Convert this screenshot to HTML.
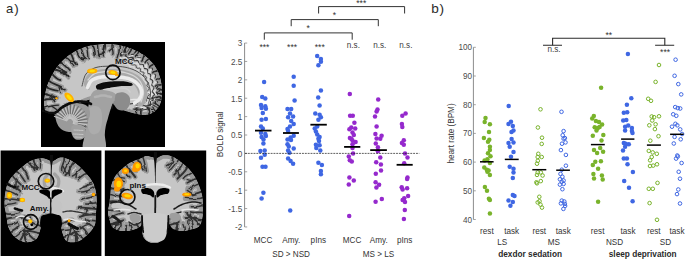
<!DOCTYPE html>
<html><head><meta charset="utf-8">
<style>
html,body{margin:0;padding:0;background:#fff;}
body{width:685px;height:259px;overflow:hidden;position:relative;font-family:"Liberation Sans",sans-serif;}
svg{position:absolute;left:0;top:0;display:block;}
</style></head><body>
<svg width="685" height="259" viewBox="0 0 685 259">
<defs><clipPath id="c1"><rect x="41" y="42" width="124" height="105"/></clipPath><clipPath id="c2"><rect x="0.6" y="150.5" width="100.8" height="105.5"/></clipPath><clipPath id="c3"><rect x="104.8" y="150.5" width="101.4" height="105.5"/></clipPath><filter id="bl" x="-5%" y="-5%" width="110%" height="110%"><feGaussianBlur stdDeviation="0.6"/></filter><filter id="wv" x="-5%" y="-5%" width="110%" height="110%"><feTurbulence type="fractalNoise" baseFrequency="0.12" numOctaves="2" seed="4" result="n"/><feDisplacementMap in="SourceGraphic" in2="n" scale="3.2" xChannelSelector="R" yChannelSelector="G"/></filter></defs>
<rect x="41" y="42" width="124" height="105" fill="#000"/>
<g clip-path="url(#c1)"><g filter="url(#bl)">
<clipPath id="s1"><path d="M45.0,110.0 L44.6,108.8 L44.3,107.3 L44.1,105.6 L44.1,103.8 L44.1,101.9 L44.2,100.0 L44.4,98.1 L44.7,96.1 L45.1,94.0 L45.5,91.9 L46.0,89.9 L46.5,88.0 L47.0,86.2 L47.6,84.6 L48.2,82.9 L48.9,81.3 L49.7,79.7 L50.5,78.0 L51.4,76.2 L52.4,74.3 L53.5,72.4 L54.6,70.5 L55.8,68.7 L57.0,67.0 L58.2,65.4 L59.5,63.9 L60.8,62.5 L62.2,61.1 L63.6,59.8 L65.0,58.5 L66.4,57.3 L67.9,56.1 L69.3,55.0 L70.8,54.0 L72.4,53.0 L74.0,52.0 L75.7,51.0 L77.5,50.1 L79.3,49.2 L81.2,48.4 L83.1,47.7 L85.0,47.0 L86.9,46.5 L88.9,46.0 L90.9,45.6 L92.9,45.3 L94.9,45.1 L97.0,44.8 L99.1,44.5 L101.2,44.3 L103.4,44.1 L105.6,44.0 L107.8,43.9 L110.0,44.0 L112.3,44.2 L114.6,44.4 L117.0,44.8 L119.4,45.2 L121.7,45.7 L124.0,46.3 L126.2,47.0 L128.5,47.7 L130.7,48.5 L132.9,49.4 L135.0,50.3 L137.0,51.3 L139.0,52.3 L140.9,53.5 L142.8,54.6 L144.6,55.8 L146.4,57.1 L148.0,58.5 L149.5,59.9 L151.0,61.4 L152.4,63.0 L153.7,64.6 L154.9,66.3 L156.0,68.0 L157.0,69.8 L157.9,71.6 L158.7,73.6 L159.4,75.5 L160.0,77.5 L160.5,79.5 L161.0,81.5 L161.3,83.6 L161.6,85.8 L161.8,87.9 L162.0,90.0 L162.0,92.0 L162.0,93.9 L161.9,95.9 L161.7,97.8 L161.4,99.6 L161.0,101.3 L160.5,103.0 L159.8,104.6 L159.0,106.2 L158.0,107.7 L156.9,109.1 L155.8,110.4 L154.5,111.5 L153.1,112.4 L151.6,113.2 L150.0,113.9 L148.3,114.4 L146.7,114.8 L145.0,115.0 L143.3,115.0 L141.6,114.9 L139.8,114.6 L138.1,114.2 L136.4,113.8 L135.0,113.5 L133.8,113.3 L132.8,113.1 L131.9,112.8 L131.0,112.6 L130.1,112.3 L129.0,112.0 L127.8,111.6 L126.5,111.2 L125.1,110.7 L123.7,110.2 L122.4,109.6 L121.0,109.0 L119.7,108.3 L118.4,107.5 L117.1,106.6 L115.7,105.7 L114.4,104.9 L113.0,104.0 L111.6,103.1 L110.2,102.1 L108.8,101.2 L107.3,100.3 L105.7,99.5 L104.0,99.0 L102.2,98.7 L100.2,98.5 L98.2,98.4 L96.1,98.5 L94.0,98.7 L92.0,99.0 L90.0,99.4 L88.0,100.1 L86.0,100.8 L84.0,101.6 L82.0,102.3 L80.0,103.0 L78.0,103.5 L75.9,104.0 L73.9,104.5 L71.9,104.9 L69.9,105.4 L68.0,106.0 L66.2,106.7 L64.4,107.5 L62.8,108.3 L61.1,109.1 L59.5,109.9 L58.0,110.5 L56.5,111.0 L55.1,111.5 L53.7,111.9 L52.4,112.3 L51.1,112.5 L50.0,112.5 L48.9,112.4 L48.0,112.3 L47.1,112.0 L46.2,111.6 L45.6,110.9 Z"/></clipPath>
<g clip-path="url(#s1)">
<path d="M45.0,110.0 L44.6,108.8 L44.3,107.3 L44.1,105.6 L44.1,103.8 L44.1,101.9 L44.2,100.0 L44.4,98.1 L44.7,96.1 L45.1,94.0 L45.5,91.9 L46.0,89.9 L46.5,88.0 L47.0,86.2 L47.6,84.6 L48.2,82.9 L48.9,81.3 L49.7,79.7 L50.5,78.0 L51.4,76.2 L52.4,74.3 L53.5,72.4 L54.6,70.5 L55.8,68.7 L57.0,67.0 L58.2,65.4 L59.5,63.9 L60.8,62.5 L62.2,61.1 L63.6,59.8 L65.0,58.5 L66.4,57.3 L67.9,56.1 L69.3,55.0 L70.8,54.0 L72.4,53.0 L74.0,52.0 L75.7,51.0 L77.5,50.1 L79.3,49.2 L81.2,48.4 L83.1,47.7 L85.0,47.0 L86.9,46.5 L88.9,46.0 L90.9,45.6 L92.9,45.3 L94.9,45.1 L97.0,44.8 L99.1,44.5 L101.2,44.3 L103.4,44.1 L105.6,44.0 L107.8,43.9 L110.0,44.0 L112.3,44.2 L114.6,44.4 L117.0,44.8 L119.4,45.2 L121.7,45.7 L124.0,46.3 L126.2,47.0 L128.5,47.7 L130.7,48.5 L132.9,49.4 L135.0,50.3 L137.0,51.3 L139.0,52.3 L140.9,53.5 L142.8,54.6 L144.6,55.8 L146.4,57.1 L148.0,58.5 L149.5,59.9 L151.0,61.4 L152.4,63.0 L153.7,64.6 L154.9,66.3 L156.0,68.0 L157.0,69.8 L157.9,71.6 L158.7,73.6 L159.4,75.5 L160.0,77.5 L160.5,79.5 L161.0,81.5 L161.3,83.6 L161.6,85.8 L161.8,87.9 L162.0,90.0 L162.0,92.0 L162.0,93.9 L161.9,95.9 L161.7,97.8 L161.4,99.6 L161.0,101.3 L160.5,103.0 L159.8,104.6 L159.0,106.2 L158.0,107.7 L156.9,109.1 L155.8,110.4 L154.5,111.5 L153.1,112.4 L151.6,113.2 L150.0,113.9 L148.3,114.4 L146.7,114.8 L145.0,115.0 L143.3,115.0 L141.6,114.9 L139.8,114.6 L138.1,114.2 L136.4,113.8 L135.0,113.5 L133.8,113.3 L132.8,113.1 L131.9,112.8 L131.0,112.6 L130.1,112.3 L129.0,112.0 L127.8,111.6 L126.5,111.2 L125.1,110.7 L123.7,110.2 L122.4,109.6 L121.0,109.0 L119.7,108.3 L118.4,107.5 L117.1,106.6 L115.7,105.7 L114.4,104.9 L113.0,104.0 L111.6,103.1 L110.2,102.1 L108.8,101.2 L107.3,100.3 L105.7,99.5 L104.0,99.0 L102.2,98.7 L100.2,98.5 L98.2,98.4 L96.1,98.5 L94.0,98.7 L92.0,99.0 L90.0,99.4 L88.0,100.1 L86.0,100.8 L84.0,101.6 L82.0,102.3 L80.0,103.0 L78.0,103.5 L75.9,104.0 L73.9,104.5 L71.9,104.9 L69.9,105.4 L68.0,106.0 L66.2,106.7 L64.4,107.5 L62.8,108.3 L61.1,109.1 L59.5,109.9 L58.0,110.5 L56.5,111.0 L55.1,111.5 L53.7,111.9 L52.4,112.3 L51.1,112.5 L50.0,112.5 L48.9,112.4 L48.0,112.3 L47.1,112.0 L46.2,111.6 L45.6,110.9 Z" fill="#c6c6c6"/>
<g filter="url(#wv)">
<path d="M43.3,108.2 C49.2,106.6 54.2,105.4 58.4,105.2" stroke="#989898" stroke-width="4.00" fill="none" stroke-linecap="round"/>
<path d="M51.9,106.3 L56.9,109.8" stroke="#989898" stroke-width="3.91" fill="none" stroke-linecap="round"/>
<path d="M42.7,100.5 C47.9,97.8 51.8,100.1 55.2,99.0" stroke="#989898" stroke-width="3.93" fill="none" stroke-linecap="round"/>
<path d="M50.6,98.6 L52.5,95.0" stroke="#989898" stroke-width="3.91" fill="none" stroke-linecap="round"/>
<path d="M43.7,93.3 C48.9,95.4 53.6,95.4 56.9,97.9" stroke="#989898" stroke-width="4.71" fill="none" stroke-linecap="round"/>
<path d="M51.4,96.1 L54.8,101.9" stroke="#989898" stroke-width="3.91" fill="none" stroke-linecap="round"/>
<path d="M45.3,86.9 C50.2,89.0 54.3,90.4 57.9,90.7" stroke="#989898" stroke-width="4.72" fill="none" stroke-linecap="round"/>
<path d="M47.8,80.1 C53.6,85.3 60.9,85.3 64.8,89.6" stroke="#989898" stroke-width="5.24" fill="none" stroke-linecap="round"/>
<path d="M59.0,87.3 L60.9,92.6" stroke="#989898" stroke-width="3.91" fill="none" stroke-linecap="round"/>
<path d="M51.2,73.4 C54.9,76.5 57.1,79.8 60.3,80.0" stroke="#989898" stroke-width="4.32" fill="none" stroke-linecap="round"/>
<path d="M53.6,69.4 C60.4,70.8 65.8,72.9 68.6,77.2" stroke="#989898" stroke-width="4.61" fill="none" stroke-linecap="round"/>
<path d="M56.2,65.6 C60.7,68.1 62.5,72.2 66.2,72.6" stroke="#989898" stroke-width="3.97" fill="none" stroke-linecap="round"/>
<path d="M59.9,61.3 C64.6,64.9 67.8,68.5 70.3,71.6" stroke="#989898" stroke-width="4.68" fill="none" stroke-linecap="round"/>
<path d="M64.7,56.8 C70.3,58.8 71.5,63.2 73.8,65.5" stroke="#989898" stroke-width="4.67" fill="none" stroke-linecap="round"/>
<path d="M71.0,61.2 L76.1,61.9" stroke="#989898" stroke-width="3.91" fill="none" stroke-linecap="round"/>
<path d="M70.0,52.7 C73.8,56.8 72.8,62.8 76.6,64.7" stroke="#989898" stroke-width="3.99" fill="none" stroke-linecap="round"/>
<path d="M75.8,49.3 C77.7,54.4 80.2,58.0 82.7,60.8" stroke="#989898" stroke-width="4.73" fill="none" stroke-linecap="round"/>
<path d="M80.0,57.3 L84.1,58.5" stroke="#989898" stroke-width="3.91" fill="none" stroke-linecap="round"/>
<path d="M80.4,47.1 C83.4,51.3 82.2,56.1 85.5,58.2" stroke="#989898" stroke-width="4.35" fill="none" stroke-linecap="round"/>
<path d="M85.3,45.4 C88.4,50.1 87.2,55.1 88.2,58.6" stroke="#989898" stroke-width="4.22" fill="none" stroke-linecap="round"/>
<path d="M92.3,43.9 C95.0,48.6 95.1,52.5 95.2,55.7" stroke="#989898" stroke-width="5.02" fill="none" stroke-linecap="round"/>
<path d="M97.3,43.3 C97.7,48.7 98.4,53.2 99.4,56.7" stroke="#989898" stroke-width="5.18" fill="none" stroke-linecap="round"/>
<path d="M104.9,42.5 C106.4,48.1 101.9,53.0 102.7,56.7" stroke="#989898" stroke-width="4.94" fill="none" stroke-linecap="round"/>
<path d="M104.4,52.2 L98.4,55.1" stroke="#989898" stroke-width="3.91" fill="none" stroke-linecap="round"/>
<path d="M112.6,42.7 C110.2,47.3 114.3,51.4 112.8,54.3" stroke="#989898" stroke-width="4.62" fill="none" stroke-linecap="round"/>
<path d="M111.5,49.0 L108.8,51.3" stroke="#989898" stroke-width="3.91" fill="none" stroke-linecap="round"/>
<path d="M119.2,43.7 C120.4,50.0 118.0,54.7 116.8,58.7" stroke="#989898" stroke-width="4.38" fill="none" stroke-linecap="round"/>
<path d="M124.7,44.9 C124.7,50.2 120.3,53.1 121.0,56.6" stroke="#989898" stroke-width="5.00" fill="none" stroke-linecap="round"/>
<path d="M123.4,51.6 L120.3,54.0" stroke="#989898" stroke-width="3.91" fill="none" stroke-linecap="round"/>
<path d="M130.4,46.9 C129.8,52.8 124.4,55.8 125.4,60.3" stroke="#989898" stroke-width="3.99" fill="none" stroke-linecap="round"/>
<path d="M136.9,49.6 C134.3,53.7 132.9,57.0 132.7,60.1" stroke="#989898" stroke-width="4.39" fill="none" stroke-linecap="round"/>
<path d="M134.4,54.5 L131.5,55.8" stroke="#989898" stroke-width="3.91" fill="none" stroke-linecap="round"/>
<path d="M163.3,94.6 C160.0,92.7 157.8,92.2 155.9,94.4" stroke="#989898" stroke-width="4.46" fill="none" stroke-linecap="round"/>
<path d="M159.4,93.6 L157.9,92.2" stroke="#989898" stroke-width="3.91" fill="none" stroke-linecap="round"/>
<path d="M162.7,100.2 C157.7,100.4 154.1,99.1 151.4,96.5" stroke="#989898" stroke-width="4.18" fill="none" stroke-linecap="round"/>
<path d="M159.5,108.1 C156.2,106.9 154.9,104.9 153.5,103.8" stroke="#989898" stroke-width="4.16" fill="none" stroke-linecap="round"/>
<path d="M154.2,113.5 C152.3,110.3 150.0,108.7 151.0,105.6" stroke="#989898" stroke-width="5.08" fill="none" stroke-linecap="round"/>
<path d="M148.7,115.8 C150.4,111.4 150.1,108.9 147.6,107.4" stroke="#989898" stroke-width="4.77" fill="none" stroke-linecap="round"/>
<path d="M149.0,110.0 L146.5,107.3" stroke="#989898" stroke-width="3.91" fill="none" stroke-linecap="round"/>
<path d="M141.7,116.4 C141.6,112.7 141.6,110.4 142.4,108.5" stroke="#989898" stroke-width="4.18" fill="none" stroke-linecap="round"/>
<path d="M141.9,111.9 L140.1,109.0" stroke="#989898" stroke-width="3.91" fill="none" stroke-linecap="round"/>
<path d="M136.7,115.4 C134.7,111.0 138.2,109.1 137.2,106.6" stroke="#989898" stroke-width="4.84" fill="none" stroke-linecap="round"/>
<path d="M135.9,109.3 L139.1,107.2" stroke="#989898" stroke-width="3.91" fill="none" stroke-linecap="round"/>
<path d="M45.0,110.0 L44.6,108.8 L44.3,107.3 L44.1,105.6 L44.1,103.8 L44.1,101.9 L44.2,100.0 L44.4,98.1 L44.7,96.1 L45.1,94.0 L45.5,91.9 L46.0,89.9 L46.5,88.0 L47.0,86.2 L47.6,84.6 L48.2,82.9 L48.9,81.3 L49.7,79.7 L50.5,78.0 L51.4,76.2 L52.4,74.3 L53.5,72.4 L54.6,70.5 L55.8,68.7 L57.0,67.0 L58.2,65.4 L59.5,63.9 L60.8,62.5 L62.2,61.1 L63.6,59.8 L65.0,58.5 L66.4,57.3 L67.9,56.1 L69.3,55.0 L70.8,54.0 L72.4,53.0 L74.0,52.0 L75.7,51.0 L77.5,50.1 L79.3,49.2 L81.2,48.4 L83.1,47.7 L85.0,47.0 L86.9,46.5 L88.9,46.0 L90.9,45.6 L92.9,45.3 L94.9,45.1 L97.0,44.8 L99.1,44.5 L101.2,44.3 L103.4,44.1 L105.6,44.0 L107.8,43.9 L110.0,44.0 L112.3,44.2 L114.6,44.4 L117.0,44.8 L119.4,45.2 L121.7,45.7 L124.0,46.3 L126.2,47.0 L128.5,47.7 L130.7,48.5 L132.9,49.4 L135.0,50.3 L137.0,51.3 L139.0,52.3 L140.9,53.5 L142.8,54.6 L144.6,55.8 L146.4,57.1 L148.0,58.5 L149.5,59.9 L151.0,61.4 L152.4,63.0 L153.7,64.6 L154.9,66.3 L156.0,68.0 L157.0,69.8 L157.9,71.6 L158.7,73.6 L159.4,75.5 L160.0,77.5 L160.5,79.5 L161.0,81.5 L161.3,83.6 L161.6,85.8 L161.8,87.9 L162.0,90.0 L162.0,92.0 L162.0,93.9 L161.9,95.9 L161.7,97.8 L161.4,99.6 L161.0,101.3 L160.5,103.0 L159.8,104.6 L159.0,106.2 L158.0,107.7 L156.9,109.1 L155.8,110.4 L154.5,111.5 L153.1,112.4 L151.6,113.2 L150.0,113.9 L148.3,114.4 L146.7,114.8 L145.0,115.0 L143.3,115.0 L141.6,114.9 L139.8,114.6 L138.1,114.2 L136.4,113.8 L135.0,113.5 L133.8,113.3 L132.8,113.1 L131.9,112.8 L131.0,112.6 L130.1,112.3 L129.0,112.0 L127.8,111.6 L126.5,111.2 L125.1,110.7 L123.7,110.2 L122.4,109.6 L121.0,109.0 L119.7,108.3 L118.4,107.5 L117.1,106.6 L115.7,105.7 L114.4,104.9 L113.0,104.0 L111.6,103.1 L110.2,102.1 L108.8,101.2 L107.3,100.3 L105.7,99.5 L104.0,99.0 L102.2,98.7 L100.2,98.5 L98.2,98.4 L96.1,98.5 L94.0,98.7 L92.0,99.0 L90.0,99.4 L88.0,100.1 L86.0,100.8 L84.0,101.6 L82.0,102.3 L80.0,103.0 L78.0,103.5 L75.9,104.0 L73.9,104.5 L71.9,104.9 L69.9,105.4 L68.0,106.0 L66.2,106.7 L64.4,107.5 L62.8,108.3 L61.1,109.1 L59.5,109.9 L58.0,110.5 L56.5,111.0 L55.1,111.5 L53.7,111.9 L52.4,112.3 L51.1,112.5 L50.0,112.5 L48.9,112.4 L48.0,112.3 L47.1,112.0 L46.2,111.6 L45.6,110.9 Z" fill="none" stroke="#989898" stroke-width="6"/>
<path d="M43.3,108.2 C49.2,106.6 54.2,105.4 58.4,105.2" stroke="#262626" stroke-width="1.21" fill="none" stroke-linecap="round"/>
<path d="M43.0,109.9 L46.6,107.6 L42.5,106.6 Z" fill="#262626"/>
<path d="M51.9,106.3 L56.9,109.8" stroke="#262626" stroke-width="1.35" fill="none" stroke-linecap="round"/>
<path d="M42.7,100.5 C47.9,97.8 51.8,100.1 55.2,99.0" stroke="#262626" stroke-width="1.78" fill="none" stroke-linecap="round"/>
<path d="M42.1,101.6 L47.1,100.1 L42.2,99.3 Z" fill="#262626"/>
<path d="M50.6,98.6 L52.5,95.0" stroke="#262626" stroke-width="1.35" fill="none" stroke-linecap="round"/>
<path d="M43.7,93.3 C48.9,95.4 53.6,95.4 56.9,97.9" stroke="#262626" stroke-width="1.92" fill="none" stroke-linecap="round"/>
<path d="M42.9,94.3 L47.1,94.3 L43.4,92.1 Z" fill="#262626"/>
<path d="M51.4,96.1 L54.8,101.9" stroke="#262626" stroke-width="1.35" fill="none" stroke-linecap="round"/>
<path d="M45.3,86.9 C50.2,89.0 54.3,90.4 57.9,90.7" stroke="#262626" stroke-width="1.64" fill="none" stroke-linecap="round"/>
<path d="M44.3,88.4 L49.1,88.0 L45.3,85.1 Z" fill="#262626"/>
<path d="M47.8,80.1 C53.6,85.3 60.9,85.3 64.8,89.6" stroke="#262626" stroke-width="1.88" fill="none" stroke-linecap="round"/>
<path d="M46.7,81.3 L51.4,82.0 L48.0,78.6 Z" fill="#262626"/>
<path d="M59.0,87.3 L60.9,92.6" stroke="#262626" stroke-width="1.35" fill="none" stroke-linecap="round"/>
<path d="M51.2,73.4 C54.9,76.5 57.1,79.8 60.3,80.0" stroke="#262626" stroke-width="1.78" fill="none" stroke-linecap="round"/>
<path d="M50.0,74.6 L53.8,75.0 L51.6,71.6 Z" fill="#262626"/>
<path d="M53.6,69.4 C60.4,70.8 65.8,72.9 68.6,77.2" stroke="#262626" stroke-width="1.95" fill="none" stroke-linecap="round"/>
<path d="M52.5,70.2 L56.3,70.9 L53.8,68.1 Z" fill="#262626"/>
<path d="M56.2,65.6 C60.7,68.1 62.5,72.2 66.2,72.6" stroke="#262626" stroke-width="1.85" fill="none" stroke-linecap="round"/>
<path d="M55.0,66.3 L59.8,68.2 L56.6,64.3 Z" fill="#262626"/>
<path d="M59.9,61.3 C64.6,64.9 67.8,68.5 70.3,71.6" stroke="#262626" stroke-width="1.67" fill="none" stroke-linecap="round"/>
<path d="M58.3,62.2 L62.6,63.9 L60.8,59.7 Z" fill="#262626"/>
<path d="M64.7,56.8 C70.3,58.8 71.5,63.2 73.8,65.5" stroke="#262626" stroke-width="1.21" fill="none" stroke-linecap="round"/>
<path d="M63.4,57.2 L67.4,59.5 L65.4,55.5 Z" fill="#262626"/>
<path d="M71.0,61.2 L76.1,61.9" stroke="#262626" stroke-width="1.35" fill="none" stroke-linecap="round"/>
<path d="M70.0,52.7 C73.8,56.8 72.8,62.8 76.6,64.7" stroke="#262626" stroke-width="1.71" fill="none" stroke-linecap="round"/>
<path d="M68.3,53.3 L71.8,55.6 L71.2,51.3 Z" fill="#262626"/>
<path d="M75.8,49.3 C77.7,54.4 80.2,58.0 82.7,60.8" stroke="#262626" stroke-width="1.43" fill="none" stroke-linecap="round"/>
<path d="M74.4,49.5 L77.9,52.9 L76.7,48.3 Z" fill="#262626"/>
<path d="M80.0,57.3 L84.1,58.5" stroke="#262626" stroke-width="1.35" fill="none" stroke-linecap="round"/>
<path d="M80.4,47.1 C83.4,51.3 82.2,56.1 85.5,58.2" stroke="#262626" stroke-width="1.45" fill="none" stroke-linecap="round"/>
<path d="M78.7,47.3 L81.9,50.5 L81.7,46.0 Z" fill="#262626"/>
<path d="M85.3,45.4 C88.4,50.1 87.2,55.1 88.2,58.6" stroke="#262626" stroke-width="1.29" fill="none" stroke-linecap="round"/>
<path d="M83.8,45.3 L86.1,48.5 L86.5,44.5 Z" fill="#262626"/>
<path d="M92.3,43.9 C95.0,48.6 95.1,52.5 95.2,55.7" stroke="#262626" stroke-width="1.46" fill="none" stroke-linecap="round"/>
<path d="M91.2,43.6 L93.0,47.3 L93.3,43.2 Z" fill="#262626"/>
<path d="M97.3,43.3 C97.7,48.7 98.4,53.2 99.4,56.7" stroke="#262626" stroke-width="1.32" fill="none" stroke-linecap="round"/>
<path d="M96.3,42.9 L98.0,47.6 L98.2,42.6 Z" fill="#262626"/>
<path d="M104.9,42.5 C106.4,48.1 101.9,53.0 102.7,56.7" stroke="#262626" stroke-width="1.83" fill="none" stroke-linecap="round"/>
<path d="M103.3,42.1 L104.6,46.3 L106.4,41.9 Z" fill="#262626"/>
<path d="M104.4,52.2 L98.4,55.1" stroke="#262626" stroke-width="1.35" fill="none" stroke-linecap="round"/>
<path d="M112.6,42.7 C110.2,47.3 114.3,51.4 112.8,54.3" stroke="#262626" stroke-width="1.35" fill="none" stroke-linecap="round"/>
<path d="M110.9,42.0 L112.5,46.3 L114.3,42.4 Z" fill="#262626"/>
<path d="M111.5,49.0 L108.8,51.3" stroke="#262626" stroke-width="1.35" fill="none" stroke-linecap="round"/>
<path d="M119.2,43.7 C120.4,50.0 118.0,54.7 116.8,58.7" stroke="#262626" stroke-width="1.39" fill="none" stroke-linecap="round"/>
<path d="M117.6,42.8 L118.5,47.3 L120.9,43.5 Z" fill="#262626"/>
<path d="M124.7,44.9 C124.7,50.2 120.3,53.1 121.0,56.6" stroke="#262626" stroke-width="1.89" fill="none" stroke-linecap="round"/>
<path d="M123.2,44.0 L123.4,49.0 L126.4,44.9 Z" fill="#262626"/>
<path d="M123.4,51.6 L120.3,54.0" stroke="#262626" stroke-width="1.35" fill="none" stroke-linecap="round"/>
<path d="M130.4,46.9 C129.8,52.8 124.4,55.8 125.4,60.3" stroke="#262626" stroke-width="1.30" fill="none" stroke-linecap="round"/>
<path d="M129.6,46.1 L129.3,49.8 L131.6,46.9 Z" fill="#262626"/>
<path d="M136.9,49.6 C134.3,53.7 132.9,57.0 132.7,60.1" stroke="#262626" stroke-width="1.69" fill="none" stroke-linecap="round"/>
<path d="M135.7,48.6 L135.6,52.9 L138.5,49.7 Z" fill="#262626"/>
<path d="M134.4,54.5 L131.5,55.8" stroke="#262626" stroke-width="1.35" fill="none" stroke-linecap="round"/>
<path d="M163.3,94.6 C160.0,92.7 157.8,92.2 155.9,94.4" stroke="#262626" stroke-width="1.89" fill="none" stroke-linecap="round"/>
<path d="M163.9,93.0 L159.2,94.5 L163.7,96.3 Z" fill="#262626"/>
<path d="M159.4,93.6 L157.9,92.2" stroke="#262626" stroke-width="1.35" fill="none" stroke-linecap="round"/>
<path d="M162.7,100.2 C157.7,100.4 154.1,99.1 151.4,96.5" stroke="#262626" stroke-width="1.43" fill="none" stroke-linecap="round"/>
<path d="M163.5,98.8 L158.8,99.1 L163.0,101.8 Z" fill="#262626"/>
<path d="M159.5,108.1 C156.2,106.9 154.9,104.9 153.5,103.8" stroke="#262626" stroke-width="1.56" fill="none" stroke-linecap="round"/>
<path d="M160.5,107.5 L155.9,105.6 L159.3,109.3 Z" fill="#262626"/>
<path d="M154.2,113.5 C152.3,110.3 150.0,108.7 151.0,105.6" stroke="#262626" stroke-width="1.58" fill="none" stroke-linecap="round"/>
<path d="M155.6,113.3 L152.6,110.0 L153.3,114.7 Z" fill="#262626"/>
<path d="M148.7,115.8 C150.4,111.4 150.1,108.9 147.6,107.4" stroke="#262626" stroke-width="1.41" fill="none" stroke-linecap="round"/>
<path d="M150.2,115.9 L148.1,112.2 L147.5,116.7 Z" fill="#262626"/>
<path d="M149.0,110.0 L146.5,107.3" stroke="#262626" stroke-width="1.35" fill="none" stroke-linecap="round"/>
<path d="M141.7,116.4 C141.6,112.7 141.6,110.4 142.4,108.5" stroke="#262626" stroke-width="1.44" fill="none" stroke-linecap="round"/>
<path d="M143.4,117.1 L142.1,112.3 L140.0,116.7 Z" fill="#262626"/>
<path d="M141.9,111.9 L140.1,109.0" stroke="#262626" stroke-width="1.35" fill="none" stroke-linecap="round"/>
<path d="M136.7,115.4 C134.7,111.0 138.2,109.1 137.2,106.6" stroke="#262626" stroke-width="1.45" fill="none" stroke-linecap="round"/>
<path d="M137.8,116.2 L137.0,112.0 L135.3,115.6 Z" fill="#262626"/>
<path d="M135.9,109.3 L139.1,107.2" stroke="#262626" stroke-width="1.35" fill="none" stroke-linecap="round"/>
</g>
</g>
<g clip-path="url(#s1)">
<path d="M122.6,50.2 L123.1,51.0 L123.9,51.5 L124.6,51.8 L125.5,51.8 L126.4,51.6 L127.3,51.4 L128.1,51.4 L128.9,51.7 L129.5,52.2 L130.0,52.9 L130.6,53.6 L131.2,54.2 L131.9,54.5 L132.7,54.4 L133.6,54.3 L134.4,54.2 L135.2,54.3 L135.8,54.6 L136.4,55.2 L136.8,56.0 L137.2,56.7 L137.8,57.4 L138.4,57.7 L139.2,57.9 L140.0,57.8 L140.9,57.8 L141.7,58.0 L142.3,58.4 L142.8,59.1 L143.1,59.9 L143.3,60.7 L143.8,61.4 L144.2,61.8 L144.9,62.0 L145.8,62.2 L146.7,62.3 L147.4,62.7 L147.9,63.2 L148.2,63.9 L148.4,64.8 L148.5,65.6 L148.7,66.3 L149.2,66.9 L149.8,67.2 L150.6,67.5 L151.4,67.8 L152.1,68.2 L152.5,68.8 L152.6,69.6 L152.6,70.4 L152.5,71.4 L152.6,72.1 L152.8,72.6 L153.5,73.2 L154.1,73.6 L154.8,74.1 L155.4,74.7 L155.6,75.3 L155.6,76.1 L155.4,77.0 L155.2,77.8 L155.1,78.6 L155.3,79.3 L155.8,79.9 L156.4,80.5 L157.1,81.1 L157.5,81.8 L157.7,82.6 L157.5,83.3 L157.1,84.1 L156.8,84.9 L156.6,85.7 L156.7,86.3 L157.1,87.1 L157.6,87.8 L158.1,88.5 L158.5,89.2 L158.5,89.9 L158.3,90.7 L157.8,91.5 L157.3,92.2 L157.0,93.0 L157.0,93.7 L157.3,94.4 L157.7,95.2 L158.1,95.9 L158.4,96.7 L158.3,97.3 L157.9,98.1 L157.3,98.6 L156.8,99.1 L156.3,99.8 L156.2,100.4 L156.3,100.9 L156.6,101.5 L156.7,102.4 L156.7,103.0 L156.4,103.5 L155.8,103.8 L155.0,104.2 L154.2,104.5 L153.5,104.9 L153.0,105.4 L152.8,106.2 L152.7,107.1 L152.5,108.0 L152.1,108.9" stroke="#3a3a3a" stroke-width="1.1" fill="none"/>
<path d="M121.5,53.2 L122.2,53.6 L123.1,53.7 L124.0,53.5 L125.0,53.2 L125.9,53.0 L126.7,53.1 L127.4,53.6 L127.9,54.3 L128.4,55.2 L128.9,55.8 L129.6,56.3 L130.3,56.3 L131.2,56.1 L132.1,55.8 L133.0,55.7 L133.6,55.8 L134.2,56.3 L134.5,57.1 L135.0,58.0 L135.3,58.7 L135.8,59.2 L136.6,59.4 L137.4,59.2 L138.4,59.1 L139.3,59.1 L139.9,59.3 L140.5,59.9 L140.7,60.7 L141.0,61.7 L141.2,62.4 L141.5,62.9 L142.3,63.2 L143.1,63.2 L143.9,63.1 L144.9,63.3 L145.4,63.6 L145.9,64.3 L145.9,65.1 L145.9,66.0 L146.1,66.9 L146.4,67.5 L146.9,67.7 L147.8,68.0 L148.7,68.1 L149.4,68.3 L150.0,68.9 L150.2,69.5 L150.1,70.3 L150.0,71.3 L149.8,72.0 L150.1,72.8 L150.5,73.1 L151.2,73.4 L152.1,73.8 L152.8,74.2 L153.2,74.7 L153.3,75.5 L153.0,76.3 L152.6,77.1 L152.4,78.0 L152.5,78.6 L152.9,79.2 L153.6,79.8 L154.4,80.3 L155.0,80.8 L155.3,81.6 L155.3,82.2 L154.9,83.1 L154.4,83.9 L154.0,84.5 L154.0,85.4 L154.3,86.0 L154.9,86.5 L155.6,87.3 L156.1,87.9 L156.4,88.7 L156.2,89.3 L155.7,90.0 L155.1,90.9 L154.7,91.5 L154.5,92.1 L154.7,93.0 L155.2,93.6 L155.8,94.3 L156.3,95.1 L156.4,95.8 L156.1,96.4 L155.5,96.9 L154.8,97.7 L154.2,98.1 L154.0,98.5 L154.1,99.3 L154.4,99.9 L154.9,100.5 L155.2,100.9 L155.1,101.7 L154.7,101.9 L154.0,101.9 L153.3,102.0 L152.4,102.4 L152.0,102.7 L151.6,103.5 L151.7,104.3 L151.7,105.2 L151.6,106.2 L151.1,106.9 L150.3,107.5" stroke="#dedede" stroke-width="1.6" fill="none"/>
<path d="M120.7,55.4 L121.5,55.3 L122.6,55.0 L123.6,54.8 L124.4,54.8 L125.2,55.1 L125.7,55.7 L126.3,56.6 L126.8,57.3 L127.4,57.9 L128.1,58.1 L129.0,57.9 L129.8,57.6 L130.7,57.4 L131.4,57.3 L132.1,57.7 L132.4,58.3 L132.8,59.2 L133.0,59.9 L133.6,60.6 L134.2,60.8 L134.9,60.7 L135.9,60.6 L136.7,60.4 L137.6,60.6 L138.1,61.0 L138.4,61.6 L138.7,62.6 L138.8,63.4 L139.3,64.1 L139.8,64.3 L140.4,64.3 L141.4,64.3 L142.2,64.2 L142.8,64.4 L143.4,64.9 L143.5,65.6 L143.6,66.6 L143.6,67.4 L143.8,68.0 L144.4,68.5 L145.0,68.6 L145.8,68.6 L146.8,68.9 L147.3,69.1 L147.6,69.6 L147.7,70.5 L147.5,71.3 L147.3,72.0 L147.5,72.8 L147.8,73.2 L148.5,73.6 L149.3,73.8 L150.0,74.0 L150.6,74.6 L150.8,75.1 L150.6,75.7 L150.3,76.7 L150.0,77.4 L149.9,78.0 L150.2,78.8 L150.8,79.2 L151.5,79.6 L152.3,80.2 L152.7,80.7 L152.8,81.3 L152.6,82.2 L152.1,82.9 L151.7,83.8 L151.5,84.4 L151.7,84.9 L152.2,85.6 L152.9,86.1 L153.6,86.7 L153.9,87.4 L153.9,88.1 L153.6,88.9 L153.0,89.5 L152.5,90.2 L152.2,91.0 L152.3,91.5 L152.7,92.1 L153.3,92.9 L153.9,93.6 L154.1,94.3 L154.0,95.0 L153.6,95.6 L152.9,96.1 L152.3,96.5 L151.9,97.3 L151.9,97.7 L152.3,98.1 L152.7,99.0 L153.1,99.5 L153.3,99.9 L153.2,100.0 L152.5,100.5 L151.9,100.3 L151.3,100.2 L150.9,100.3 L150.5,101.0 L150.5,101.6 L150.5,102.6 L150.6,103.5 L150.4,104.2 L149.8,104.7 L149.0,105.1 L147.8,105.6" stroke="#3a3a3a" stroke-width="1.1" fill="none"/>
<path d="M120.0,57.3 L120.5,58.0 L121.4,58.4 L122.3,58.4 L123.3,58.1 L124.3,57.7 L125.1,57.5 L125.9,57.7 L126.4,58.2 L127.0,59.1 L127.4,59.9 L127.9,60.7 L128.4,60.9 L129.3,60.9 L130.0,60.6 L131.0,60.3 L131.6,60.0 L132.3,60.3 L132.6,60.8 L133.0,61.7 L133.2,62.6 L133.5,63.2 L134.1,63.7 L134.8,63.7 L135.8,63.6 L136.6,63.3 L137.3,63.2 L138.0,63.6 L138.3,64.2 L138.6,65.1 L138.6,65.9 L138.6,66.6 L139.2,67.1 L139.7,67.1 L140.5,67.0 L141.5,67.0 L142.2,67.0 L142.8,67.5 L142.9,68.1 L142.8,68.9 L142.9,69.9 L142.8,70.5 L143.0,70.9 L143.8,71.3 L144.5,71.3 L145.3,71.2 L146.2,71.6 L146.5,71.9 L146.5,72.5 L146.4,73.5 L146.0,74.2 L146.0,75.1 L146.1,75.4 L146.5,75.6 L147.4,76.1 L148.2,76.2 L148.8,76.5 L149.2,77.2 L149.1,77.8 L148.7,78.4 L148.3,79.4 L148.0,80.0 L148.1,80.6 L148.6,81.2 L149.3,81.6 L150.1,82.0 L150.8,82.6 L150.9,83.1 L150.8,84.0 L150.3,84.6 L149.7,85.2 L149.4,86.1 L149.3,86.6 L149.7,87.1 L150.4,87.8 L151.2,88.3 L151.7,89.0 L151.8,89.6 L151.5,90.2 L150.9,91.0 L150.3,91.5 L149.8,92.1 L149.7,92.9 L150.0,93.5 L150.6,94.1 L151.3,94.9 L151.7,95.5 L151.7,96.0 L151.4,96.4 L150.6,97.1 L149.9,97.3 L149.4,97.5 L149.2,98.2 L149.4,98.4 L150.0,98.7 L150.7,98.8 L150.8,99.8 L150.9,99.7 L150.5,99.7 L149.8,99.6 L148.8,99.8 L148.2,99.9 L147.7,100.4 L147.6,101.0 L147.7,101.9 L147.7,102.9 L147.5,103.9 L146.8,104.9" stroke="#dcdcdc" stroke-width="1.6" fill="none"/>
<path d="M119.0,60.0 L119.8,60.0 L120.9,59.8 L121.9,59.5 L122.8,59.4 L123.6,59.5 L124.2,60.0 L124.8,60.8 L125.2,61.6 L125.8,62.3 L126.3,62.6 L127.2,62.7 L127.9,62.3 L128.8,62.1 L129.4,61.8 L130.2,62.0 L130.4,62.4 L130.9,63.3 L130.9,64.0 L131.4,64.7 L131.9,65.1 L132.4,65.1 L133.4,65.0 L134.2,64.8 L135.1,64.8 L135.6,65.0 L135.8,65.4 L136.2,66.3 L136.2,67.1 L136.6,67.9 L136.9,68.2 L137.3,68.2 L138.3,68.3 L138.9,68.1 L139.5,68.0 L140.2,68.4 L140.3,68.9 L140.5,69.9 L140.4,70.6 L140.3,71.2 L140.8,71.8 L141.2,71.9 L141.9,71.9 L142.8,72.1 L143.4,72.1 L143.8,72.4 L144.0,73.2 L143.8,73.8 L143.4,74.4 L143.5,75.3 L143.5,75.6 L144.1,76.1 L144.7,76.1 L145.4,76.1 L146.2,76.7 L146.4,77.0 L146.3,77.4 L146.1,78.4 L145.7,79.0 L145.4,79.5 L145.6,80.3 L146.0,80.7 L146.6,81.0 L147.4,81.6 L148.0,82.0 L148.2,82.4 L148.2,83.2 L147.7,83.8 L147.3,84.7 L146.9,85.2 L146.9,85.6 L147.3,86.4 L147.9,86.8 L148.5,87.2 L149.1,87.9 L149.2,88.4 L149.0,89.3 L148.5,89.8 L147.9,90.3 L147.5,91.1 L147.4,91.6 L147.7,92.1 L148.2,92.9 L148.8,93.5 L149.2,94.0 L149.3,94.8 L149.0,95.3 L148.4,95.6 L147.8,95.9 L147.3,96.6 L147.1,96.8 L147.4,97.0 L147.7,97.9 L148.3,98.1 L148.7,98.3 L148.9,98.0 L148.3,98.7 L148.0,98.1 L147.5,97.7 L147.1,97.6 L146.5,98.2 L146.5,98.6 L146.5,99.5 L146.7,100.3 L146.6,101.0 L146.2,101.7 L145.4,102.2 L144.2,102.9" stroke="#444" stroke-width="1.0" fill="none"/>
<path d="M118.3,61.8 L119.2,61.6 L120.4,61.5 L121.3,61.5 L122.0,61.8 L122.7,62.3 L123.2,63.0 L123.8,63.7 L124.3,64.2 L125.0,64.4 L125.7,64.4 L126.6,64.2 L127.2,64.0 L128.1,64.0 L128.4,64.1 L129.1,64.7 L129.1,65.2 L129.6,66.0 L129.7,66.4 L130.4,66.8 L131.0,66.7 L131.6,66.6 L132.5,66.5 L133.1,66.5 L133.8,66.9 L134.0,67.4 L134.1,68.0 L134.5,68.9 L134.6,69.3 L135.3,69.8 L135.7,69.8 L136.3,69.6 L137.2,69.7 L137.6,69.7 L137.8,69.9 L138.2,70.6 L138.2,71.2 L138.4,72.1 L138.4,72.5 L138.6,72.7 L139.4,73.1 L139.9,73.0 L140.5,73.0 L141.2,73.4 L141.4,73.7 L141.4,74.1 L141.5,75.0 L141.2,75.5 L141.1,75.8 L141.5,76.5 L141.9,76.5 L142.7,77.0 L143.2,76.9 L143.6,77.0 L143.9,77.7 L143.8,78.1 L143.4,78.6 L143.3,79.5 L143.1,79.9 L143.3,80.3 L143.8,80.9 L144.3,81.2 L144.9,81.4 L145.4,82.1 L145.6,82.6 L145.4,83.1 L145.1,83.9 L144.7,84.4 L144.6,85.2 L144.7,85.6 L145.0,85.9 L145.6,86.6 L146.1,87.0 L146.5,87.4 L146.6,88.2 L146.3,88.7 L145.9,89.5 L145.5,90.0 L145.2,90.4 L145.2,91.2 L145.5,91.6 L146.0,92.1 L146.5,92.9 L146.7,93.4 L146.7,93.9 L146.4,94.7 L145.9,95.1 L145.4,95.3 L145.1,95.5 L145.0,96.3 L145.3,96.5 L145.7,96.6 L146.0,97.5 L146.3,97.6 L146.3,97.5 L146.2,96.9 L145.5,97.4 L145.3,96.6 L145.2,96.2 L145.2,96.2 L145.0,97.1 L145.2,97.5 L145.1,98.5 L145.0,99.0 L144.7,99.4 L144.0,99.8 L143.0,100.2 L141.8,101.0" stroke="#d8d8d8" stroke-width="1.5" fill="none"/>
<path d="M126.8,45.7 C125.6,48.8 123.5,50.3 124.2,52.3" stroke="#989898" stroke-width="3.92" fill="none" stroke-linecap="round"/>
<path d="M125.2,49.7 L125.9,52.6" stroke="#989898" stroke-width="3.06" fill="none" stroke-linecap="round"/>
<path d="M132.1,47.6 C131.5,51.0 129.2,52.4 128.6,54.0" stroke="#989898" stroke-width="4.14" fill="none" stroke-linecap="round"/>
<path d="M139.1,50.7 C139.4,54.7 134.1,54.2 135.4,56.8" stroke="#989898" stroke-width="3.86" fill="none" stroke-linecap="round"/>
<path d="M137.6,55.3 L135.8,55.7" stroke="#989898" stroke-width="3.06" fill="none" stroke-linecap="round"/>
<path d="M145.2,54.4 C142.2,56.5 143.3,60.0 141.8,61.1" stroke="#989898" stroke-width="3.93" fill="none" stroke-linecap="round"/>
<path d="M149.7,58.0 C147.1,59.9 145.6,61.2 145.1,62.8" stroke="#989898" stroke-width="3.22" fill="none" stroke-linecap="round"/>
<path d="M154.3,62.9 C153.0,66.3 149.5,64.9 149.6,67.3" stroke="#989898" stroke-width="3.83" fill="none" stroke-linecap="round"/>
<path d="M158.5,69.4 C156.8,73.2 153.1,70.2 152.7,72.8" stroke="#989898" stroke-width="3.78" fill="none" stroke-linecap="round"/>
<path d="M161.6,77.7 C159.5,80.7 157.0,77.6 156.3,79.7" stroke="#989898" stroke-width="3.52" fill="none" stroke-linecap="round"/>
<path d="M162.9,84.2 C159.6,86.3 156.8,83.2 155.4,86.2" stroke="#989898" stroke-width="3.43" fill="none" stroke-linecap="round"/>
<path d="M157.9,86.1 L156.6,88.3" stroke="#989898" stroke-width="3.06" fill="none" stroke-linecap="round"/>
<path d="M163.5,89.8 C160.6,90.6 158.9,87.2 157.7,89.5" stroke="#989898" stroke-width="3.33" fill="none" stroke-linecap="round"/>
<path d="M160.2,90.1 L158.9,91.3" stroke="#989898" stroke-width="3.06" fill="none" stroke-linecap="round"/>
<path d="M163.0,99.1 C160.4,96.0 158.4,96.5 156.7,97.5" stroke="#989898" stroke-width="3.97" fill="none" stroke-linecap="round"/>
<path d="M160.2,106.7 C157.1,105.0 155.8,102.8 153.6,102.9" stroke="#989898" stroke-width="3.89" fill="none" stroke-linecap="round"/>
<path d="M155.9,104.3 L155.2,101.2" stroke="#989898" stroke-width="3.06" fill="none" stroke-linecap="round"/>
<path d="M156.4,111.5 C152.9,111.0 154.4,106.6 152.3,107.0" stroke="#989898" stroke-width="3.16" fill="none" stroke-linecap="round"/>
<path d="M153.1,109.4 L151.5,109.4" stroke="#989898" stroke-width="3.06" fill="none" stroke-linecap="round"/>
<path d="M126.8,45.7 C125.6,48.8 123.5,50.3 124.2,52.3" stroke="#262626" stroke-width="1.57" fill="none" stroke-linecap="round"/>
<path d="M125.7,44.8 L125.5,49.2 L128.3,45.7 Z" fill="#262626"/>
<path d="M125.2,49.7 L125.9,52.6" stroke="#262626" stroke-width="1.17" fill="none" stroke-linecap="round"/>
<path d="M132.1,47.6 C131.5,51.0 129.2,52.4 128.6,54.0" stroke="#262626" stroke-width="1.54" fill="none" stroke-linecap="round"/>
<path d="M131.0,46.6 L130.4,50.8 L133.5,47.6 Z" fill="#262626"/>
<path d="M139.1,50.7 C139.4,54.7 134.1,54.2 135.4,56.8" stroke="#262626" stroke-width="1.10" fill="none" stroke-linecap="round"/>
<path d="M137.9,49.5 L137.6,53.3 L140.8,51.1 Z" fill="#262626"/>
<path d="M137.6,55.3 L135.8,55.7" stroke="#262626" stroke-width="1.17" fill="none" stroke-linecap="round"/>
<path d="M145.2,54.4 C142.2,56.5 143.3,60.0 141.8,61.1" stroke="#262626" stroke-width="1.47" fill="none" stroke-linecap="round"/>
<path d="M144.1,53.0 L143.1,58.2 L146.9,55.0 Z" fill="#262626"/>
<path d="M149.7,58.0 C147.1,59.9 145.6,61.2 145.1,62.8" stroke="#262626" stroke-width="1.39" fill="none" stroke-linecap="round"/>
<path d="M149.1,56.8 L146.6,61.2 L150.9,58.4 Z" fill="#262626"/>
<path d="M154.3,62.9 C153.0,66.3 149.5,64.9 149.6,67.3" stroke="#262626" stroke-width="1.68" fill="none" stroke-linecap="round"/>
<path d="M154.0,61.8 L152.0,65.0 L155.3,63.3 Z" fill="#262626"/>
<path d="M158.5,69.4 C156.8,73.2 153.1,70.2 152.7,72.8" stroke="#262626" stroke-width="1.45" fill="none" stroke-linecap="round"/>
<path d="M158.2,67.7 L155.5,71.2 L159.7,70.7 Z" fill="#262626"/>
<path d="M161.6,77.7 C159.5,80.7 157.0,77.6 156.3,79.7" stroke="#262626" stroke-width="1.14" fill="none" stroke-linecap="round"/>
<path d="M161.8,76.5 L158.0,79.0 L162.3,78.5 Z" fill="#262626"/>
<path d="M162.9,84.2 C159.6,86.3 156.8,83.2 155.4,86.2" stroke="#262626" stroke-width="1.37" fill="none" stroke-linecap="round"/>
<path d="M163.2,82.6 L158.7,85.2 L163.7,85.6 Z" fill="#262626"/>
<path d="M157.9,86.1 L156.6,88.3" stroke="#262626" stroke-width="1.17" fill="none" stroke-linecap="round"/>
<path d="M163.5,89.8 C160.6,90.6 158.9,87.2 157.7,89.5" stroke="#262626" stroke-width="1.30" fill="none" stroke-linecap="round"/>
<path d="M163.9,88.1 L159.5,89.6 L164.0,91.5 Z" fill="#262626"/>
<path d="M160.2,90.1 L158.9,91.3" stroke="#262626" stroke-width="1.17" fill="none" stroke-linecap="round"/>
<path d="M163.0,99.1 C160.4,96.0 158.4,96.5 156.7,97.5" stroke="#262626" stroke-width="1.56" fill="none" stroke-linecap="round"/>
<path d="M163.8,97.6 L159.2,98.2 L163.2,100.9 Z" fill="#262626"/>
<path d="M160.2,106.7 C157.1,105.0 155.8,102.8 153.6,102.9" stroke="#262626" stroke-width="1.05" fill="none" stroke-linecap="round"/>
<path d="M161.5,105.6 L156.4,104.4 L159.8,108.2 Z" fill="#262626"/>
<path d="M155.9,104.3 L155.2,101.2" stroke="#262626" stroke-width="1.17" fill="none" stroke-linecap="round"/>
<path d="M156.4,111.5 C152.9,111.0 154.4,106.6 152.3,107.0" stroke="#262626" stroke-width="1.10" fill="none" stroke-linecap="round"/>
<path d="M157.4,111.0 L153.9,108.9 L156.1,112.6 Z" fill="#262626"/>
<path d="M153.1,109.4 L151.5,109.4" stroke="#262626" stroke-width="1.17" fill="none" stroke-linecap="round"/>
</g>
<path d="M130.0,104.0 L130.9,103.8 L132.1,103.6 L133.5,103.3 L135.0,103.1 L136.6,102.9 L138.0,103.0 L139.4,103.3 L140.7,103.9 L142.1,104.6 L143.5,105.2 L144.8,105.7 L146.0,106.0 L147.2,105.9 L148.4,105.6 L149.5,105.2 L150.5,104.7 L151.4,104.3 L152.0,104.0" stroke="#333333" stroke-width="1.1" fill="none" stroke-linecap="round" />
<path d="M133.0,109.0 L134.0,109.1 L135.4,109.4 L137.0,109.6 L138.7,109.9 L140.5,110.0 L142.0,110.0 L143.5,109.8 L145.0,109.5 L146.6,109.1 L148.0,108.6 L149.1,108.3 L150.0,108.0" stroke="#333333" stroke-width="1.1" fill="none" stroke-linecap="round" />
<path d="M144.0,96.0 L144.7,96.4 L145.6,97.0 L146.6,97.6 L147.8,98.3 L148.9,98.8 L150.0,99.0 L151.1,98.9 L152.2,98.6 L153.4,98.2 L154.4,97.7 L155.3,97.3 L156.0,97.0" stroke="#333333" stroke-width="1.1" fill="none" stroke-linecap="round" />
<path d="M128.0,100.0 L129.0,99.9 L130.3,99.8 L131.9,99.6 L133.7,99.5 L135.4,99.4 L137.0,99.5 L138.6,99.8 L140.3,100.2 L142.1,100.7 L143.7,101.2 L145.0,101.7 L146.0,102.0" stroke="#e8e8e8" stroke-width="1.3" fill="none" stroke-linecap="round" />
<path d="M136.0,106.5 L137.2,106.7 L139.0,106.9 L141.0,107.2 L143.0,107.6 L144.8,107.8 L146.0,108.0" stroke="#e8e8e8" stroke-width="1.3" fill="none" stroke-linecap="round" />
<path d="M147.0,92.0 L147.7,92.3 L148.8,92.7 L150.0,93.2 L151.2,93.8 L152.3,94.2 L153.0,94.5" stroke="#e8e8e8" stroke-width="1.3" fill="none" stroke-linecap="round" />
<path d="M84.0,84.0 L84.1,82.6 L84.4,80.9 L85.1,79.2 L85.9,77.4 L86.9,75.8 L88.0,74.5 L89.3,73.4 L90.7,72.5 L92.4,71.7 L94.1,71.1 L96.0,70.5 L98.0,70.0 L100.1,69.6 L102.4,69.3 L104.8,69.1 L107.2,69.0 L109.6,69.0 L112.0,69.0 L114.4,69.1 L116.7,69.2 L119.1,69.4 L121.5,69.6 L123.8,70.0 L126.0,70.5 L128.2,71.1 L130.3,71.8 L132.4,72.6 L134.4,73.4 L136.3,74.4 L138.0,75.5 L139.6,76.7 L141.0,78.0 L142.4,79.4 L143.6,80.9 L144.6,82.4 L145.5,84.0 L146.2,85.7 L146.8,87.6 L147.2,89.5 L147.4,91.4 L147.5,93.3 L147.5,95.0 L147.3,96.7 L146.8,98.4 L146.2,100.1 L145.6,101.6 L144.8,102.9 L144.0,104.0 L143.1,104.9 L141.9,105.6 L140.7,106.2 L139.6,106.5 L138.6,106.4 L138.0,106.0 L137.8,105.0 L138.0,103.6 L138.4,101.8 L138.8,99.8 L139.0,97.8 L139.0,96.0 L138.7,94.3 L138.2,92.5 L137.6,90.8 L136.9,89.0 L136.0,87.4 L135.0,86.0 L133.8,84.7 L132.6,83.6 L131.1,82.5 L129.6,81.6 L127.8,80.7 L126.0,80.0 L123.9,79.4 L121.7,78.9 L119.2,78.6 L116.8,78.3 L114.3,78.1 L112.0,78.0 L109.7,77.9 L107.4,77.8 L105.1,77.8 L102.9,77.9 L100.9,78.2 L99.0,78.5 L97.3,79.0 L95.7,79.6 L94.3,80.3 L93.0,81.2 L91.9,82.1 L91.0,83.0 L90.4,84.2 L90.0,85.6 L89.8,87.2 L89.7,88.5 L89.4,89.6 L89.0,90.0 L88.2,89.8 L87.2,89.1 L86.1,88.0 L85.1,86.7 L84.3,85.4 Z" fill="#a9a9a9"/>
<path d="M88.0,80.0 L88.7,79.2 L89.6,78.1 L90.7,76.9 L92.0,75.6 L93.4,74.4 L95.0,73.5 L96.8,72.9 L98.9,72.4 L101.1,72.1 L103.4,71.8 L105.7,71.6 L108.0,71.5 L110.3,71.4 L112.7,71.4 L115.1,71.4 L117.4,71.5 L119.8,71.7 L122.0,72.0 L124.2,72.4 L126.3,73.0 L128.4,73.6 L130.4,74.3 L132.3,75.1 L134.0,76.0 L135.5,77.0 L136.9,78.0 L138.1,79.1 L139.2,80.3 L140.2,81.6 L141.0,83.0 L141.7,84.5 L142.4,86.1 L142.8,87.9 L143.2,89.6 L143.4,91.4 L143.5,93.0 L143.3,94.7 L142.9,96.4 L142.4,98.1 L141.8,99.7 L141.3,101.0 L141.0,102.0" stroke="#d6d6d6" stroke-width="1.3" fill="none" stroke-linecap="round" />
<path d="M82.0,86.0 L82.4,84.6 L82.8,82.7 L83.4,80.4 L84.1,78.0 L84.9,75.8 L86.0,74.0 L87.3,72.5 L88.7,71.2 L90.4,70.1 L92.1,69.1 L94.0,68.2 L96.0,67.5 L98.1,67.0 L100.3,66.6 L102.7,66.4 L105.1,66.3 L107.6,66.2 L110.0,66.2 L112.5,66.2 L115.0,66.2 L117.6,66.3 L120.1,66.5 L122.6,66.8 L125.0,67.2 L127.3,67.7 L129.6,68.4 L131.9,69.1 L134.0,69.9 L136.1,70.9 L138.0,72.0 L139.8,73.2 L141.5,74.6 L143.1,76.0 L144.6,77.6 L145.9,79.3 L147.0,81.0 L148.0,82.8 L148.8,84.8 L149.5,86.8 L150.0,88.9 L150.3,91.0 L150.5,93.0 L150.4,95.1 L150.0,97.4 L149.5,99.8 L148.9,101.9 L148.3,103.7 L148.0,105.0" stroke="#505050" stroke-width="1.0" fill="none" stroke-linecap="round" />
<path d="M87.5,87.5 L87.9,86.7 L88.4,85.5 L89.0,84.2 L89.7,82.8 L90.5,81.5 L91.5,80.5 L92.6,79.7 L93.9,79.1 L95.4,78.5 L96.9,78.0 L98.4,77.6 L100.0,77.3 L101.6,77.0 L103.1,76.9 L104.8,76.8 L106.5,76.7 L108.2,76.7 L110.0,76.7 L111.9,76.7 L113.9,76.7 L116.0,76.8 L118.1,76.9 L120.1,77.1 L122.0,77.3 L123.8,77.6 L125.6,77.9 L127.3,78.3 L129.0,78.8 L130.5,79.4 L132.0,80.0 L133.4,80.7 L134.7,81.6 L136.0,82.5 L137.1,83.5 L138.1,84.5 L139.0,85.5 L139.7,86.5 L140.3,87.6 L140.8,88.7 L141.2,89.8 L141.4,90.9 L141.5,92.0 L141.5,93.2 L141.3,94.4 L141.0,95.7 L140.6,96.9 L140.1,98.0 L139.5,99.0 L138.8,99.9 L137.9,100.7 L136.9,101.4 L135.9,102.1 L135.1,102.6 L134.5,103.0" stroke="#ececec" stroke-width="3.6" fill="none" stroke-linecap="round" />
<path d="M96.0,86.0 L96.5,85.3 L97.4,84.6 L98.6,84.0 L100.0,83.4 L101.5,82.9 L103.0,82.5 L104.6,82.2 L106.4,81.9 L108.2,81.7 L110.2,81.5 L112.1,81.4 L114.0,81.3 L115.9,81.2 L117.8,81.2 L119.8,81.2 L121.6,81.2 L123.4,81.3 L125.0,81.5 L126.5,81.7 L127.9,82.0 L129.2,82.4 L130.4,82.7 L131.3,83.1 L132.0,83.5 L132.4,83.9 L132.7,84.3 L132.7,84.8 L132.5,85.2 L132.1,85.5 L131.5,85.8 L130.6,85.9 L129.3,86.0 L127.8,86.0 L126.2,85.9 L124.6,85.9 L123.0,86.0 L121.4,86.1 L119.7,86.3 L118.0,86.5 L116.3,86.7 L114.6,86.9 L113.0,87.2 L111.4,87.5 L109.8,87.9 L108.2,88.3 L106.7,88.7 L105.3,89.1 L104.0,89.5 L102.9,89.9 L102.0,90.4 L101.1,90.8 L100.4,91.2 L99.7,91.3 L99.0,91.2 L98.3,90.7 L97.5,89.9 L96.8,88.9 L96.2,87.9 L95.9,86.8 Z" fill="#080808"/>
<path d="M99.0,91.5 L99.7,91.2 L100.7,90.9 L101.9,90.4 L103.2,90.0 L104.6,89.5 L106.0,89.2 L107.5,88.9 L109.1,88.7 L110.8,88.5 L112.6,88.4 L114.3,88.3 L116.0,88.2 L117.7,88.2 L119.6,88.1 L121.4,88.1 L123.1,88.2 L124.7,88.3 L126.0,88.6 L127.1,89.0 L127.9,89.6 L128.6,90.3 L129.2,91.0 L129.6,91.6 L130.0,92.0" stroke="#d0d0d0" stroke-width="1.4" fill="none" stroke-linecap="round" />
<path d="M96.0,89.9 L97.3,89.6 L98.7,89.6 L100.3,89.7 L101.9,89.8 L103.5,90.1 L105.0,90.3 L106.4,90.5 L107.9,90.8 L109.3,91.1 L110.7,91.4 L111.9,91.8 L113.0,92.3 L113.9,92.8 L114.7,93.3 L115.4,93.9 L116.0,94.6 L116.3,95.3 L116.5,96.0 L116.4,96.8 L116.0,97.6 L115.4,98.5 L114.7,99.4 L114.1,100.4 L113.5,101.5 L113.0,102.7 L112.5,103.9 L112.0,105.2 L111.5,106.5 L111.1,107.9 L110.6,109.3 L110.1,110.7 L109.7,112.1 L109.3,113.6 L108.8,115.1 L108.4,116.6 L108.0,118.0 L107.6,119.4 L107.2,120.8 L106.7,122.2 L106.4,123.6 L106.0,125.0 L105.7,126.4 L105.5,127.7 L105.3,129.0 L105.1,130.3 L105.0,131.7 L104.9,133.2 L104.8,135.0 L105.0,137.3 L105.4,140.1 L105.9,143.0 L106.1,145.9 L105.7,148.3 L104.5,150.0 L102.0,151.1 L98.3,151.7 L94.1,152.0 L89.8,151.8 L86.2,151.1 L83.8,150.0 L82.7,148.2 L82.6,145.7 L83.0,142.8 L83.8,139.6 L84.5,136.5 L85.0,133.7 L85.2,131.2 L85.4,128.7 L85.5,126.2 L85.7,123.8 L85.9,121.4 L86.2,119.0 L86.5,116.5 L86.9,114.0 L87.4,111.4 L87.8,109.0 L88.3,106.6 L88.7,104.5 L89.1,102.6 L89.4,100.8 L89.7,99.2 L90.0,97.7 L90.5,96.3 L91.0,95.0 L91.6,93.8 L92.3,92.8 L93.1,91.8 L93.9,91.0 L94.9,90.4 Z" fill="#a2a2a2"/>
<path d="M90.0,108.0 L90.8,107.3 L91.7,106.7 L92.8,106.3 L93.9,106.0 L95.0,105.9 L96.0,106.0 L96.9,106.2 L97.9,106.6 L98.8,107.1 L99.7,107.9 L100.4,108.8 L101.0,110.0 L101.4,111.6 L101.8,113.5 L102.0,115.6 L102.1,117.9 L102.1,120.0 L102.0,122.0 L101.8,123.9 L101.4,125.8 L101.0,127.6 L100.4,129.3 L99.8,130.8 L99.0,132.0 L98.0,132.9 L96.9,133.6 L95.6,134.1 L94.3,134.4 L93.1,134.3 L92.0,134.0 L91.0,133.3 L90.1,132.2 L89.3,130.8 L88.5,129.3 L87.9,127.6 L87.5,126.0 L87.3,124.3 L87.2,122.4 L87.3,120.4 L87.5,118.5 L87.8,116.6 L88.0,115.0 L88.2,113.5 L88.4,112.2 L88.7,110.9 L89.0,109.8 L89.4,108.8 Z" fill="#acacac"/>
<path d="M95.0,97.0 L95.9,96.8 L97.1,96.5 L98.5,96.2 L100.0,95.8 L101.6,95.6 L103.0,95.5 L104.4,95.6 L106.0,95.8 L107.5,96.2 L108.9,96.5 L110.1,96.8 L111.0,97.0" stroke="#b4b4b4" stroke-width="2.5" fill="none" stroke-linecap="round" />
<path d="M116.5,93.5 L117.4,93.1 L118.6,92.7 L120.0,92.4 L121.4,92.3 L122.8,92.3 L124.0,92.5 L125.1,92.9 L126.2,93.5 L127.2,94.2 L128.1,95.0 L128.9,96.0 L129.5,97.0 L129.9,98.2 L130.1,99.5 L130.1,101.0 L130.0,102.4 L129.8,103.8 L129.5,105.0 L129.0,106.1 L128.4,107.1 L127.7,108.0 L126.9,108.9 L125.9,109.5 L125.0,110.0 L123.9,110.3 L122.7,110.4 L121.5,110.4 L120.2,110.2 L119.0,109.9 L118.0,109.5 L117.1,108.9 L116.3,108.1 L115.5,107.1 L114.9,106.1 L114.3,105.0 L114.0,104.0 L113.9,103.0 L113.9,102.0 L114.2,100.9 L114.4,99.9 L114.7,98.9 L115.0,98.0 L115.2,97.1 L115.2,96.3 L115.3,95.4 L115.5,94.7 L115.9,94.0 Z" fill="#8c8c8c"/>
<path d="M113.0,104.0 L112.9,104.6 L112.7,105.5 L112.5,106.5 L112.3,107.5 L112.1,108.4 L112.0,109.0" stroke="#1a1a1a" stroke-width="1.0" fill="none" stroke-linecap="round" />
<path d="M55.5,113.0 L55.9,111.9 L56.5,110.8 L57.2,109.9 L58.1,109.0 L59.0,108.2 L60.0,107.5 L61.0,106.8 L62.1,106.2 L63.3,105.7 L64.5,105.3 L65.7,104.9 L67.0,104.5 L68.3,104.2 L69.6,104.0 L70.9,103.8 L72.3,103.6 L73.7,103.6 L75.0,103.5 L76.4,103.5 L77.8,103.4 L79.2,103.5 L80.5,103.6 L81.8,103.7 L83.0,104.0 L84.1,104.4 L85.2,104.8 L86.2,105.4 L87.1,106.0 L87.8,106.7 L88.5,107.5 L89.0,108.4 L89.4,109.4 L89.7,110.5 L89.9,111.7 L90.0,112.9 L90.0,114.0 L89.9,115.1 L89.7,116.3 L89.3,117.5 L88.9,118.7 L88.5,119.9 L88.0,121.0 L87.5,122.1 L86.9,123.1 L86.3,124.2 L85.6,125.2 L84.9,126.1 L84.0,127.0 L83.0,127.8 L81.9,128.6 L80.8,129.3 L79.5,130.0 L78.3,130.5 L77.0,131.0 L75.7,131.4 L74.4,131.7 L73.1,131.9 L71.7,132.1 L70.3,132.1 L69.0,132.0 L67.6,131.8 L66.2,131.4 L64.8,131.0 L63.4,130.4 L62.1,129.8 L61.0,129.0 L60.0,128.1 L59.1,127.0 L58.3,125.9 L57.6,124.6 L57.0,123.3 L56.5,122.0 L56.1,120.6 L55.7,119.0 L55.4,117.4 L55.3,115.8 L55.3,114.3 Z" fill="#9a9a9a"/>
<path d="M67.2,121.0 L54.0,116.2" stroke="#c4c4c4" stroke-width="1.2"/>
<path d="M67.5,120.4 L55.7,112.7" stroke="#c4c4c4" stroke-width="1.2"/>
<path d="M67.9,119.8 L58.2,109.8" stroke="#c4c4c4" stroke-width="1.2"/>
<path d="M68.5,119.4 L61.2,107.4" stroke="#c4c4c4" stroke-width="1.2"/>
<path d="M69.1,119.1 L64.7,105.8" stroke="#c4c4c4" stroke-width="1.2"/>
<path d="M69.7,119.0 L68.5,105.1" stroke="#c4c4c4" stroke-width="1.2"/>
<path d="M70.4,119.0 L72.4,105.2" stroke="#c4c4c4" stroke-width="1.2"/>
<path d="M71.1,119.2 L76.1,106.1" stroke="#c4c4c4" stroke-width="1.2"/>
<path d="M71.7,119.5 L79.5,107.9" stroke="#c4c4c4" stroke-width="1.2"/>
<path d="M72.2,120.0 L82.4,110.4" stroke="#c4c4c4" stroke-width="1.2"/>
<path d="M72.6,120.5 L84.7,113.5" stroke="#c4c4c4" stroke-width="1.2"/>
<path d="M72.9,121.1 L86.3,117.0" stroke="#c4c4c4" stroke-width="1.2"/>
<path d="M73.0,121.8 L87.0,120.8" stroke="#c4c4c4" stroke-width="1.2"/>
<path d="M73.0,122.5 L86.8,124.7" stroke="#c4c4c4" stroke-width="1.2"/>
<path d="M72.8,123.1 L85.8,128.4" stroke="#c4c4c4" stroke-width="1.2"/>
<path d="M62.9,118.4 L54.0,113.8" stroke="#666" stroke-width="0.9"/>
<path d="M63.9,116.9 L56.2,110.4" stroke="#666" stroke-width="0.9"/>
<path d="M65.2,115.6 L59.2,107.6" stroke="#666" stroke-width="0.9"/>
<path d="M66.7,114.7 L62.7,105.6" stroke="#666" stroke-width="0.9"/>
<path d="M68.5,114.1 L66.6,104.3" stroke="#666" stroke-width="0.9"/>
<path d="M70.3,114.0 L70.6,104.0" stroke="#666" stroke-width="0.9"/>
<path d="M72.1,114.3 L74.7,104.6" stroke="#666" stroke-width="0.9"/>
<path d="M73.8,114.9 L78.5,106.1" stroke="#666" stroke-width="0.9"/>
<path d="M75.2,116.0 L81.8,108.4" stroke="#666" stroke-width="0.9"/>
<path d="M76.5,117.3 L84.6,111.4" stroke="#666" stroke-width="0.9"/>
<path d="M77.4,118.9 L86.6,115.0" stroke="#666" stroke-width="0.9"/>
<path d="M77.9,120.6 L87.7,118.9" stroke="#666" stroke-width="0.9"/>
<path d="M78.0,122.4 L88.0,122.9" stroke="#666" stroke-width="0.9"/>
<path d="M77.7,124.2 L87.3,127.0" stroke="#666" stroke-width="0.9"/>
<path d="M77.0,125.9 L85.7,130.7" stroke="#666" stroke-width="0.9"/>
<path d="M72.0,126.0 L72.8,125.4 L73.9,124.9 L75.2,124.6 L76.5,124.4 L77.8,124.4 L79.0,124.5 L80.1,124.8 L81.3,125.3 L82.4,125.9 L83.4,126.7 L84.3,127.6 L85.0,128.5 L85.5,129.6 L85.8,130.9 L85.9,132.3 L85.9,133.7 L85.8,134.9 L85.5,136.0 L85.1,136.9 L84.4,137.6 L83.7,138.2 L82.8,138.8 L81.9,139.2 L81.0,139.5 L80.1,139.7 L79.0,139.8 L77.9,139.8 L76.9,139.7 L75.9,139.4 L75.0,139.0 L74.2,138.3 L73.5,137.4 L72.8,136.4 L72.3,135.3 L71.8,134.1 L71.5,133.0 L71.3,131.8 L71.1,130.5 L71.1,129.2 L71.2,128.0 L71.5,126.9 Z" fill="#a0a0a0"/>
<path d="M74.0,130.0 L75.1,130.1 L76.7,130.1 L78.5,130.2 L80.3,130.4 L81.9,130.4 L83.0,130.5" stroke="#c8c8c8" stroke-width="1" fill="none" stroke-linecap="round" />
<path d="M73.5,134.0 L74.6,134.1 L76.3,134.1 L78.2,134.2 L80.2,134.4 L81.9,134.4 L83.0,134.5" stroke="#c8c8c8" stroke-width="1" fill="none" stroke-linecap="round" />
<path d="M75.0,137.0 L75.8,137.0 L77.1,137.1 L78.5,137.2 L79.9,137.2 L81.2,137.3 L82.0,137.3" stroke="#c8c8c8" stroke-width="0.9" fill="none" stroke-linecap="round" />
<path d="M43.0,111.0 L43.8,111.2 L44.9,111.6 L46.1,112.0 L47.5,112.5 L48.8,112.8 L50.0,113.0 L51.1,113.1 L52.1,113.1 L53.1,113.1 L54.0,112.9 L55.0,112.7 L56.0,112.3 L57.0,111.7 L57.9,111.0 L58.9,110.1 L59.9,109.2 L60.9,108.3 L62.0,107.5 L63.2,106.7 L64.5,106.0 L65.9,105.2 L67.3,104.5 L68.6,103.8 L70.0,103.3 L71.3,102.8 L72.7,102.5 L74.0,102.2 L75.3,101.9 L76.7,101.7 L78.0,101.6 L79.4,101.5 L80.8,101.5 L82.2,101.6 L83.6,101.7 L84.8,101.8 L86.0,102.0 L87.1,102.3 L88.1,102.6 L89.0,103.0 L89.8,103.4 L90.5,103.8 L91.0,104.0" stroke="#080808" stroke-width="2.6" fill="none" stroke-linecap="round" />
</g>
<ellipse cx="92.2" cy="71" rx="5.2" ry="2.5" transform="rotate(-3 92.2 71)" fill="#ffb000"/><ellipse cx="92.2" cy="71" rx="2.86" ry="1.25" transform="rotate(-3 92.2 71)" fill="#ffe000"/>
<ellipse cx="69.2" cy="97.3" rx="6.0" ry="3.2" transform="rotate(45 69.2 97.3)" fill="#ffb000"/><ellipse cx="69.2" cy="97.3" rx="3.30" ry="1.60" transform="rotate(45 69.2 97.3)" fill="#ffe000"/>
<ellipse cx="56.5" cy="98.2" rx="1.4" ry="1.0" transform="rotate(0 56.5 98.2)" fill="#ff9a00"/><ellipse cx="56.5" cy="98.2" rx="0.77" ry="0.50" transform="rotate(0 56.5 98.2)" fill="#ffc000"/>
<ellipse cx="113" cy="72.5" rx="4.6" ry="2.4" transform="rotate(10 113 72.5)" fill="#ffb000"/><ellipse cx="113" cy="72.5" rx="2.53" ry="1.20" transform="rotate(10 113 72.5)" fill="#ffe000"/>
<ellipse cx="117" cy="75.2" rx="2.0" ry="1.1" transform="rotate(0 117 75.2)" fill="#ff9a00"/><ellipse cx="117" cy="75.2" rx="1.10" ry="0.55" transform="rotate(0 117 75.2)" fill="#ffcc00"/>
<circle cx="112.9" cy="72.4" r="7.2" fill="none" stroke="#0c0c0c" stroke-width="1.7"/>
<text x="115" y="63.5" font-family="Liberation Sans, sans-serif" font-weight="bold" font-size="8" fill="#111" stroke="#c8c8c8" stroke-width="1.0" stroke-linejoin="round" paint-order="stroke" stroke-opacity="0.85">MCC</text>
</g>
<rect x="0.6" y="150.5" width="100.8" height="105.5" fill="#000"/>
<g clip-path="url(#c2)"><g filter="url(#bl)">
<clipPath id="s2"><path d="M51.0,161.0 L49.9,160.7 L48.6,160.2 L47.2,159.5 L45.7,159.0 L44.1,158.5 L42.5,158.3 L40.8,158.3 L39.0,158.5 L37.1,158.8 L35.3,159.3 L33.5,159.8 L31.8,160.4 L30.3,161.1 L28.8,161.9 L27.5,162.8 L26.1,163.8 L24.8,164.8 L23.4,165.9 L22.0,167.0 L20.5,168.2 L19.0,169.5 L17.6,170.8 L16.2,172.1 L14.9,173.4 L13.7,174.7 L12.5,176.0 L11.4,177.4 L10.3,178.8 L9.4,180.3 L8.5,181.8 L7.8,183.4 L7.1,185.1 L6.5,186.9 L6.1,188.7 L5.7,190.6 L5.3,192.5 L5.0,194.5 L4.8,196.6 L4.6,198.8 L4.5,201.0 L4.5,203.0 L4.5,205.0 L4.6,206.8 L4.9,208.4 L5.2,210.0 L5.5,211.6 L5.9,213.2 L6.2,215.0 L6.5,217.0 L6.8,219.1 L7.1,221.3 L7.4,223.5 L7.9,225.6 L8.5,227.5 L9.3,229.3 L10.2,231.0 L11.2,232.7 L12.3,234.3 L13.5,235.7 L14.9,237.0 L16.4,238.2 L18.1,239.4 L19.9,240.4 L21.8,241.3 L23.7,242.0 L25.5,242.3 L27.3,242.3 L29.3,242.1 L31.2,241.7 L33.0,241.0 L34.7,240.2 L36.1,239.2 L37.2,238.0 L38.0,236.5 L38.7,234.9 L39.3,233.1 L39.8,231.3 L40.3,229.6 L40.8,227.8 L41.1,225.9 L41.4,223.9 L41.7,222.0 L42.1,220.3 L42.5,219.0 L43.0,218.0 L43.5,217.3 L44.1,216.7 L44.7,216.3 L45.3,216.1 L46.0,216.0 L46.7,216.1 L47.6,216.4 L48.4,216.8 L49.3,217.3 L50.1,217.7 L51.0,218.0 L51.8,218.1 L52.7,218.2 L53.6,218.2 L54.4,218.2 L55.2,218.3 L56.0,218.5 L56.7,218.7 L57.3,218.8 L57.9,219.0 L58.5,219.3 L59.0,220.0 L59.6,221.0 L60.1,222.6 L60.6,224.7 L61.1,227.1 L61.6,229.5 L62.1,231.9 L62.7,233.8 L63.3,235.4 L63.8,237.0 L64.4,238.3 L65.1,239.5 L65.9,240.5 L67.0,241.3 L68.4,241.8 L70.1,242.2 L72.0,242.3 L73.9,242.3 L75.8,242.0 L77.6,241.6 L79.3,240.9 L81.0,240.0 L82.6,238.9 L84.2,237.6 L85.7,236.3 L87.2,234.9 L88.6,233.5 L90.1,232.0 L91.4,230.4 L92.7,228.8 L93.8,227.1 L94.6,225.4 L95.2,223.7 L95.5,222.0 L95.6,220.3 L95.7,218.5 L95.7,216.7 L95.8,214.7 L96.0,212.6 L96.2,210.2 L96.4,207.8 L96.6,205.5 L96.7,203.1 L96.7,201.0 L96.7,199.0 L96.6,197.1 L96.4,195.3 L96.2,193.6 L95.9,191.9 L95.6,190.3 L95.2,188.8 L94.8,187.3 L94.4,185.9 L93.9,184.5 L93.2,183.2 L92.5,181.8 L91.6,180.4 L90.7,179.0 L89.6,177.6 L88.5,176.2 L87.3,174.8 L86.1,173.4 L84.8,172.0 L83.4,170.5 L82.0,169.0 L80.5,167.5 L79.0,166.1 L77.6,164.9 L76.2,163.8 L74.8,162.8 L73.3,161.9 L71.9,161.0 L70.5,160.3 L69.1,159.6 L67.7,159.0 L66.2,158.4 L64.7,158.0 L63.3,157.6 L61.9,157.4 L60.6,157.4 L59.4,157.7 L58.2,158.2 L57.1,158.8 L56.0,159.5 L55.1,160.2 L54.2,160.6 L53.5,160.9 L53.1,161.1 L52.7,161.2 L52.3,161.2 L51.8,161.1 Z"/></clipPath>
<g clip-path="url(#s2)">
<path d="M51.0,161.0 L49.9,160.7 L48.6,160.2 L47.2,159.5 L45.7,159.0 L44.1,158.5 L42.5,158.3 L40.8,158.3 L39.0,158.5 L37.1,158.8 L35.3,159.3 L33.5,159.8 L31.8,160.4 L30.3,161.1 L28.8,161.9 L27.5,162.8 L26.1,163.8 L24.8,164.8 L23.4,165.9 L22.0,167.0 L20.5,168.2 L19.0,169.5 L17.6,170.8 L16.2,172.1 L14.9,173.4 L13.7,174.7 L12.5,176.0 L11.4,177.4 L10.3,178.8 L9.4,180.3 L8.5,181.8 L7.8,183.4 L7.1,185.1 L6.5,186.9 L6.1,188.7 L5.7,190.6 L5.3,192.5 L5.0,194.5 L4.8,196.6 L4.6,198.8 L4.5,201.0 L4.5,203.0 L4.5,205.0 L4.6,206.8 L4.9,208.4 L5.2,210.0 L5.5,211.6 L5.9,213.2 L6.2,215.0 L6.5,217.0 L6.8,219.1 L7.1,221.3 L7.4,223.5 L7.9,225.6 L8.5,227.5 L9.3,229.3 L10.2,231.0 L11.2,232.7 L12.3,234.3 L13.5,235.7 L14.9,237.0 L16.4,238.2 L18.1,239.4 L19.9,240.4 L21.8,241.3 L23.7,242.0 L25.5,242.3 L27.3,242.3 L29.3,242.1 L31.2,241.7 L33.0,241.0 L34.7,240.2 L36.1,239.2 L37.2,238.0 L38.0,236.5 L38.7,234.9 L39.3,233.1 L39.8,231.3 L40.3,229.6 L40.8,227.8 L41.1,225.9 L41.4,223.9 L41.7,222.0 L42.1,220.3 L42.5,219.0 L43.0,218.0 L43.5,217.3 L44.1,216.7 L44.7,216.3 L45.3,216.1 L46.0,216.0 L46.7,216.1 L47.6,216.4 L48.4,216.8 L49.3,217.3 L50.1,217.7 L51.0,218.0 L51.8,218.1 L52.7,218.2 L53.6,218.2 L54.4,218.2 L55.2,218.3 L56.0,218.5 L56.7,218.7 L57.3,218.8 L57.9,219.0 L58.5,219.3 L59.0,220.0 L59.6,221.0 L60.1,222.6 L60.6,224.7 L61.1,227.1 L61.6,229.5 L62.1,231.9 L62.7,233.8 L63.3,235.4 L63.8,237.0 L64.4,238.3 L65.1,239.5 L65.9,240.5 L67.0,241.3 L68.4,241.8 L70.1,242.2 L72.0,242.3 L73.9,242.3 L75.8,242.0 L77.6,241.6 L79.3,240.9 L81.0,240.0 L82.6,238.9 L84.2,237.6 L85.7,236.3 L87.2,234.9 L88.6,233.5 L90.1,232.0 L91.4,230.4 L92.7,228.8 L93.8,227.1 L94.6,225.4 L95.2,223.7 L95.5,222.0 L95.6,220.3 L95.7,218.5 L95.7,216.7 L95.8,214.7 L96.0,212.6 L96.2,210.2 L96.4,207.8 L96.6,205.5 L96.7,203.1 L96.7,201.0 L96.7,199.0 L96.6,197.1 L96.4,195.3 L96.2,193.6 L95.9,191.9 L95.6,190.3 L95.2,188.8 L94.8,187.3 L94.4,185.9 L93.9,184.5 L93.2,183.2 L92.5,181.8 L91.6,180.4 L90.7,179.0 L89.6,177.6 L88.5,176.2 L87.3,174.8 L86.1,173.4 L84.8,172.0 L83.4,170.5 L82.0,169.0 L80.5,167.5 L79.0,166.1 L77.6,164.9 L76.2,163.8 L74.8,162.8 L73.3,161.9 L71.9,161.0 L70.5,160.3 L69.1,159.6 L67.7,159.0 L66.2,158.4 L64.7,158.0 L63.3,157.6 L61.9,157.4 L60.6,157.4 L59.4,157.7 L58.2,158.2 L57.1,158.8 L56.0,159.5 L55.1,160.2 L54.2,160.6 L53.5,160.9 L53.1,161.1 L52.7,161.2 L52.3,161.2 L51.8,161.1 Z" fill="#c6c6c6"/>
<g filter="url(#wv)">
<path d="M39.3,157.2 C42.0,161.8 39.9,166.0 40.3,169.1" stroke="#989898" stroke-width="4.99" fill="none" stroke-linecap="round"/>
<path d="M33.2,158.4 C33.0,163.4 37.5,165.9 36.5,169.2" stroke="#989898" stroke-width="4.77" fill="none" stroke-linecap="round"/>
<path d="M34.2,164.6 L38.3,167.7" stroke="#989898" stroke-width="4.42" fill="none" stroke-linecap="round"/>
<path d="M27.8,160.8 C29.2,165.6 34.2,166.8 34.6,170.1" stroke="#989898" stroke-width="5.33" fill="none" stroke-linecap="round"/>
<path d="M31.3,167.0 L35.5,167.3" stroke="#989898" stroke-width="4.42" fill="none" stroke-linecap="round"/>
<path d="M20.9,166.0 C24.5,170.5 27.3,174.4 28.2,178.7" stroke="#989898" stroke-width="4.70" fill="none" stroke-linecap="round"/>
<path d="M15.5,170.6 C21.0,173.4 22.5,178.7 25.1,181.6" stroke="#989898" stroke-width="4.68" fill="none" stroke-linecap="round"/>
<path d="M11.7,174.7 C14.7,180.4 19.9,182.4 22.1,186.2" stroke="#989898" stroke-width="4.97" fill="none" stroke-linecap="round"/>
<path d="M16.2,180.9 L15.8,187.5" stroke="#989898" stroke-width="4.42" fill="none" stroke-linecap="round"/>
<path d="M6.7,182.1 C11.3,187.2 16.8,187.9 19.9,191.6" stroke="#989898" stroke-width="5.02" fill="none" stroke-linecap="round"/>
<path d="M13.6,188.0 L18.8,187.2" stroke="#989898" stroke-width="4.42" fill="none" stroke-linecap="round"/>
<path d="M4.2,190.1 C9.6,191.8 14.3,191.8 17.5,194.9" stroke="#989898" stroke-width="5.05" fill="none" stroke-linecap="round"/>
<path d="M3.1,198.7 C10.5,198.9 17.1,199.0 22.3,201.0" stroke="#989898" stroke-width="4.55" fill="none" stroke-linecap="round"/>
<path d="M3.0,204.8 C8.3,204.3 12.5,204.0 15.9,202.9" stroke="#989898" stroke-width="4.92" fill="none" stroke-linecap="round"/>
<path d="M4.4,213.5 C10.6,215.2 15.2,213.6 18.9,212.4" stroke="#989898" stroke-width="5.29" fill="none" stroke-linecap="round"/>
<path d="M5.3,219.3 C12.3,216.2 19.2,217.8 24.4,216.5" stroke="#989898" stroke-width="4.58" fill="none" stroke-linecap="round"/>
<path d="M6.2,224.9 C11.2,224.3 15.5,224.8 18.1,221.7" stroke="#989898" stroke-width="5.36" fill="none" stroke-linecap="round"/>
<path d="M9.1,232.2 C14.1,230.2 17.6,227.5 19.7,224.2" stroke="#989898" stroke-width="5.17" fill="none" stroke-linecap="round"/>
<path d="M13.8,238.0 C19.7,234.7 22.4,229.7 26.8,227.6" stroke="#989898" stroke-width="5.42" fill="none" stroke-linecap="round"/>
<path d="M19.5,241.9 C21.8,237.3 24.3,234.0 25.1,230.7" stroke="#989898" stroke-width="5.38" fill="none" stroke-linecap="round"/>
<path d="M22.9,235.1 L26.8,234.3" stroke="#989898" stroke-width="4.42" fill="none" stroke-linecap="round"/>
<path d="M26.9,243.9 C25.0,239.4 24.1,236.1 24.8,233.3" stroke="#989898" stroke-width="5.50" fill="none" stroke-linecap="round"/>
<path d="M36.2,241.0 C31.4,237.7 28.1,234.5 26.8,230.9" stroke="#989898" stroke-width="4.74" fill="none" stroke-linecap="round"/>
<path d="M40.7,233.5 C34.2,231.6 28.7,229.6 23.2,231.1" stroke="#989898" stroke-width="5.64" fill="none" stroke-linecap="round"/>
<path d="M42.6,226.6 C36.1,224.7 30.6,222.3 26.3,219.8" stroke="#989898" stroke-width="5.90" fill="none" stroke-linecap="round"/>
<path d="M31.5,222.3 L30.2,217.0" stroke="#989898" stroke-width="4.42" fill="none" stroke-linecap="round"/>
<path d="M58.9,224.7 C64.6,224.9 67.9,218.9 71.9,220.1" stroke="#989898" stroke-width="5.20" fill="none" stroke-linecap="round"/>
<path d="M60.1,230.1 C65.5,228.9 70.4,229.6 73.8,227.9" stroke="#989898" stroke-width="4.67" fill="none" stroke-linecap="round"/>
<path d="M62.6,237.9 C69.3,236.5 73.5,231.0 78.6,231.0" stroke="#989898" stroke-width="4.87" fill="none" stroke-linecap="round"/>
<path d="M71.7,234.7 L77.2,238.1" stroke="#989898" stroke-width="4.42" fill="none" stroke-linecap="round"/>
<path d="M66.8,242.9 C68.1,236.3 71.6,231.8 70.7,226.5" stroke="#989898" stroke-width="5.74" fill="none" stroke-linecap="round"/>
<path d="M76.6,243.4 C74.5,239.3 77.5,235.3 75.5,232.9" stroke="#989898" stroke-width="4.94" fill="none" stroke-linecap="round"/>
<path d="M84.2,239.5 C78.3,236.4 75.3,232.4 73.6,228.4" stroke="#989898" stroke-width="5.61" fill="none" stroke-linecap="round"/>
<path d="M88.5,235.7 C86.3,230.5 83.2,227.6 80.1,225.9" stroke="#989898" stroke-width="5.57" fill="none" stroke-linecap="round"/>
<path d="M94.5,228.7 C91.0,224.9 88.1,222.4 84.5,222.2" stroke="#989898" stroke-width="5.23" fill="none" stroke-linecap="round"/>
<path d="M87.6,223.5 L86.7,219.4" stroke="#989898" stroke-width="4.42" fill="none" stroke-linecap="round"/>
<path d="M97.1,220.9 C92.5,221.1 89.2,220.0 86.6,219.1" stroke="#989898" stroke-width="4.75" fill="none" stroke-linecap="round"/>
<path d="M97.3,214.9 C90.6,214.0 84.7,214.6 79.9,216.8" stroke="#989898" stroke-width="5.20" fill="none" stroke-linecap="round"/>
<path d="M97.8,209.0 C90.4,209.3 84.1,206.5 78.7,208.1" stroke="#989898" stroke-width="5.00" fill="none" stroke-linecap="round"/>
<path d="M87.5,208.8 L82.3,216.0" stroke="#989898" stroke-width="4.42" fill="none" stroke-linecap="round"/>
<path d="M98.2,202.9 C93.3,205.6 89.7,203.9 86.7,204.0" stroke="#989898" stroke-width="5.65" fill="none" stroke-linecap="round"/>
<path d="M92.3,204.6 L89.8,202.3" stroke="#989898" stroke-width="4.42" fill="none" stroke-linecap="round"/>
<path d="M97.8,194.7 C91.5,196.5 86.0,196.8 81.7,199.2" stroke="#989898" stroke-width="5.61" fill="none" stroke-linecap="round"/>
<path d="M96.0,186.1 C90.0,190.3 84.1,192.6 78.6,192.0" stroke="#989898" stroke-width="5.24" fill="none" stroke-linecap="round"/>
<path d="M93.4,180.4 C89.8,183.2 86.9,184.8 84.9,186.7" stroke="#989898" stroke-width="5.03" fill="none" stroke-linecap="round"/>
<path d="M87.7,173.0 C82.6,174.0 80.8,177.1 78.6,178.6" stroke="#989898" stroke-width="5.24" fill="none" stroke-linecap="round"/>
<path d="M82.6,167.4 C77.7,170.2 76.7,175.2 72.5,176.0" stroke="#989898" stroke-width="5.51" fill="none" stroke-linecap="round"/>
<path d="M76.8,171.6 L76.0,177.7" stroke="#989898" stroke-width="4.42" fill="none" stroke-linecap="round"/>
<path d="M75.5,161.5 C69.9,165.7 70.1,172.8 65.3,175.1" stroke="#989898" stroke-width="5.35" fill="none" stroke-linecap="round"/>
<path d="M69.7,167.7 L69.4,175.3" stroke="#989898" stroke-width="4.42" fill="none" stroke-linecap="round"/>
<path d="M70.5,158.6 C67.9,164.4 64.5,168.7 63.5,173.1" stroke="#989898" stroke-width="4.54" fill="none" stroke-linecap="round"/>
<path d="M64.5,156.7 C65.2,162.6 60.5,166.3 61.7,170.4" stroke="#989898" stroke-width="5.47" fill="none" stroke-linecap="round"/>
<path d="M63.3,166.7 L66.2,172.7" stroke="#989898" stroke-width="4.42" fill="none" stroke-linecap="round"/>
<path d="M51.0,161.0 L49.9,160.7 L48.6,160.2 L47.2,159.5 L45.7,159.0 L44.1,158.5 L42.5,158.3 L40.8,158.3 L39.0,158.5 L37.1,158.8 L35.3,159.3 L33.5,159.8 L31.8,160.4 L30.3,161.1 L28.8,161.9 L27.5,162.8 L26.1,163.8 L24.8,164.8 L23.4,165.9 L22.0,167.0 L20.5,168.2 L19.0,169.5 L17.6,170.8 L16.2,172.1 L14.9,173.4 L13.7,174.7 L12.5,176.0 L11.4,177.4 L10.3,178.8 L9.4,180.3 L8.5,181.8 L7.8,183.4 L7.1,185.1 L6.5,186.9 L6.1,188.7 L5.7,190.6 L5.3,192.5 L5.0,194.5 L4.8,196.6 L4.6,198.8 L4.5,201.0 L4.5,203.0 L4.5,205.0 L4.6,206.8 L4.9,208.4 L5.2,210.0 L5.5,211.6 L5.9,213.2 L6.2,215.0 L6.5,217.0 L6.8,219.1 L7.1,221.3 L7.4,223.5 L7.9,225.6 L8.5,227.5 L9.3,229.3 L10.2,231.0 L11.2,232.7 L12.3,234.3 L13.5,235.7 L14.9,237.0 L16.4,238.2 L18.1,239.4 L19.9,240.4 L21.8,241.3 L23.7,242.0 L25.5,242.3 L27.3,242.3 L29.3,242.1 L31.2,241.7 L33.0,241.0 L34.7,240.2 L36.1,239.2 L37.2,238.0 L38.0,236.5 L38.7,234.9 L39.3,233.1 L39.8,231.3 L40.3,229.6 L40.8,227.8 L41.1,225.9 L41.4,223.9 L41.7,222.0 L42.1,220.3 L42.5,219.0 L43.0,218.0 L43.5,217.3 L44.1,216.7 L44.7,216.3 L45.3,216.1 L46.0,216.0 L46.7,216.1 L47.6,216.4 L48.4,216.8 L49.3,217.3 L50.1,217.7 L51.0,218.0 L51.8,218.1 L52.7,218.2 L53.6,218.2 L54.4,218.2 L55.2,218.3 L56.0,218.5 L56.7,218.7 L57.3,218.8 L57.9,219.0 L58.5,219.3 L59.0,220.0 L59.6,221.0 L60.1,222.6 L60.6,224.7 L61.1,227.1 L61.6,229.5 L62.1,231.9 L62.7,233.8 L63.3,235.4 L63.8,237.0 L64.4,238.3 L65.1,239.5 L65.9,240.5 L67.0,241.3 L68.4,241.8 L70.1,242.2 L72.0,242.3 L73.9,242.3 L75.8,242.0 L77.6,241.6 L79.3,240.9 L81.0,240.0 L82.6,238.9 L84.2,237.6 L85.7,236.3 L87.2,234.9 L88.6,233.5 L90.1,232.0 L91.4,230.4 L92.7,228.8 L93.8,227.1 L94.6,225.4 L95.2,223.7 L95.5,222.0 L95.6,220.3 L95.7,218.5 L95.7,216.7 L95.8,214.7 L96.0,212.6 L96.2,210.2 L96.4,207.8 L96.6,205.5 L96.7,203.1 L96.7,201.0 L96.7,199.0 L96.6,197.1 L96.4,195.3 L96.2,193.6 L95.9,191.9 L95.6,190.3 L95.2,188.8 L94.8,187.3 L94.4,185.9 L93.9,184.5 L93.2,183.2 L92.5,181.8 L91.6,180.4 L90.7,179.0 L89.6,177.6 L88.5,176.2 L87.3,174.8 L86.1,173.4 L84.8,172.0 L83.4,170.5 L82.0,169.0 L80.5,167.5 L79.0,166.1 L77.6,164.9 L76.2,163.8 L74.8,162.8 L73.3,161.9 L71.9,161.0 L70.5,160.3 L69.1,159.6 L67.7,159.0 L66.2,158.4 L64.7,158.0 L63.3,157.6 L61.9,157.4 L60.6,157.4 L59.4,157.7 L58.2,158.2 L57.1,158.8 L56.0,159.5 L55.1,160.2 L54.2,160.6 L53.5,160.9 L53.1,161.1 L52.7,161.2 L52.3,161.2 L51.8,161.1 Z" fill="none" stroke="#989898" stroke-width="7.0"/>
<path d="M39.3,157.2 C42.0,161.8 39.9,166.0 40.3,169.1" stroke="#303030" stroke-width="1.33" fill="none" stroke-linecap="round"/>
<path d="M40.6,156.6 L39.7,160.3 L37.9,156.9 Z" fill="#303030"/>
<path d="M33.2,158.4 C33.0,163.4 37.5,165.9 36.5,169.2" stroke="#303030" stroke-width="1.78" fill="none" stroke-linecap="round"/>
<path d="M34.8,157.4 L34.3,162.1 L31.4,158.4 Z" fill="#303030"/>
<path d="M34.2,164.6 L38.3,167.7" stroke="#303030" stroke-width="1.44" fill="none" stroke-linecap="round"/>
<path d="M27.8,160.8 C29.2,165.6 34.2,166.8 34.6,170.1" stroke="#303030" stroke-width="1.79" fill="none" stroke-linecap="round"/>
<path d="M28.7,159.7 L30.0,163.9 L26.5,161.0 Z" fill="#303030"/>
<path d="M31.3,167.0 L35.5,167.3" stroke="#303030" stroke-width="1.44" fill="none" stroke-linecap="round"/>
<path d="M20.9,166.0 C24.5,170.5 27.3,174.4 28.2,178.7" stroke="#303030" stroke-width="1.90" fill="none" stroke-linecap="round"/>
<path d="M21.4,164.9 L22.8,168.8 L19.8,166.2 Z" fill="#303030"/>
<path d="M15.5,170.6 C21.0,173.4 22.5,178.7 25.1,181.6" stroke="#303030" stroke-width="1.55" fill="none" stroke-linecap="round"/>
<path d="M16.4,169.1 L18.0,173.3 L13.9,171.5 Z" fill="#303030"/>
<path d="M11.7,174.7 C14.7,180.4 19.9,182.4 22.1,186.2" stroke="#303030" stroke-width="1.68" fill="none" stroke-linecap="round"/>
<path d="M12.4,173.2 L13.8,176.9 L10.2,175.6 Z" fill="#303030"/>
<path d="M16.2,180.9 L15.8,187.5" stroke="#303030" stroke-width="1.44" fill="none" stroke-linecap="round"/>
<path d="M6.7,182.1 C11.3,187.2 16.8,187.9 19.9,191.6" stroke="#303030" stroke-width="1.81" fill="none" stroke-linecap="round"/>
<path d="M6.7,181.0 L9.8,184.1 L5.8,182.8 Z" fill="#303030"/>
<path d="M13.6,188.0 L18.8,187.2" stroke="#303030" stroke-width="1.44" fill="none" stroke-linecap="round"/>
<path d="M4.2,190.1 C9.6,191.8 14.3,191.8 17.5,194.9" stroke="#303030" stroke-width="1.50" fill="none" stroke-linecap="round"/>
<path d="M4.0,188.9 L7.7,191.1 L3.5,191.1 Z" fill="#303030"/>
<path d="M3.1,198.7 C10.5,198.9 17.1,199.0 22.3,201.0" stroke="#303030" stroke-width="1.40" fill="none" stroke-linecap="round"/>
<path d="M2.7,197.2 L6.1,199.0 L2.5,200.2 Z" fill="#303030"/>
<path d="M3.0,204.8 C8.3,204.3 12.5,204.0 15.9,202.9" stroke="#303030" stroke-width="1.38" fill="none" stroke-linecap="round"/>
<path d="M2.4,203.2 L7.4,204.3 L2.5,206.5 Z" fill="#303030"/>
<path d="M4.4,213.5 C10.6,215.2 15.2,213.6 18.9,212.4" stroke="#303030" stroke-width="1.60" fill="none" stroke-linecap="round"/>
<path d="M3.6,212.3 L8.1,213.1 L4.2,214.9 Z" fill="#303030"/>
<path d="M5.3,219.3 C12.3,216.2 19.2,217.8 24.4,216.5" stroke="#303030" stroke-width="1.73" fill="none" stroke-linecap="round"/>
<path d="M4.6,217.9 L9.7,218.7 L5.0,220.8 Z" fill="#303030"/>
<path d="M6.2,224.9 C11.2,224.3 15.5,224.8 18.1,221.7" stroke="#303030" stroke-width="1.66" fill="none" stroke-linecap="round"/>
<path d="M5.4,223.9 L9.8,223.9 L5.9,226.0 Z" fill="#303030"/>
<path d="M9.1,232.2 C14.1,230.2 17.6,227.5 19.7,224.2" stroke="#303030" stroke-width="1.83" fill="none" stroke-linecap="round"/>
<path d="M8.0,231.2 L11.8,230.4 L9.4,233.7 Z" fill="#303030"/>
<path d="M13.8,238.0 C19.7,234.7 22.4,229.7 26.8,227.6" stroke="#303030" stroke-width="1.35" fill="none" stroke-linecap="round"/>
<path d="M12.2,237.2 L16.6,235.5 L14.7,239.5 Z" fill="#303030"/>
<path d="M19.5,241.9 C21.8,237.3 24.3,234.0 25.1,230.7" stroke="#303030" stroke-width="1.91" fill="none" stroke-linecap="round"/>
<path d="M17.8,241.6 L21.0,238.9 L20.7,243.0 Z" fill="#303030"/>
<path d="M22.9,235.1 L26.8,234.3" stroke="#303030" stroke-width="1.44" fill="none" stroke-linecap="round"/>
<path d="M26.9,243.9 C25.0,239.4 24.1,236.1 24.8,233.3" stroke="#303030" stroke-width="2.05" fill="none" stroke-linecap="round"/>
<path d="M25.5,244.4 L26.2,239.5 L28.3,244.3 Z" fill="#303030"/>
<path d="M36.2,241.0 C31.4,237.7 28.1,234.5 26.8,230.9" stroke="#303030" stroke-width="1.78" fill="none" stroke-linecap="round"/>
<path d="M35.2,242.4 L33.4,237.8 L37.9,240.3 Z" fill="#303030"/>
<path d="M40.7,233.5 C34.2,231.6 28.7,229.6 23.2,231.1" stroke="#303030" stroke-width="1.88" fill="none" stroke-linecap="round"/>
<path d="M40.8,234.9 L37.5,232.8 L41.6,232.3 Z" fill="#303030"/>
<path d="M42.6,226.6 C36.1,224.7 30.6,222.3 26.3,219.8" stroke="#303030" stroke-width="1.86" fill="none" stroke-linecap="round"/>
<path d="M42.8,227.8 L39.6,225.6 L43.3,225.6 Z" fill="#303030"/>
<path d="M31.5,222.3 L30.2,217.0" stroke="#303030" stroke-width="1.44" fill="none" stroke-linecap="round"/>
<path d="M58.9,224.7 C64.6,224.9 67.9,218.9 71.9,220.1" stroke="#303030" stroke-width="2.00" fill="none" stroke-linecap="round"/>
<path d="M58.2,223.8 L62.5,223.6 L58.6,225.9 Z" fill="#303030"/>
<path d="M60.1,230.1 C65.5,228.9 70.4,229.6 73.8,227.9" stroke="#303030" stroke-width="1.47" fill="none" stroke-linecap="round"/>
<path d="M59.3,229.2 L63.8,229.4 L59.9,231.3 Z" fill="#303030"/>
<path d="M62.6,237.9 C69.3,236.5 73.5,231.0 78.6,231.0" stroke="#303030" stroke-width="1.82" fill="none" stroke-linecap="round"/>
<path d="M61.6,236.6 L65.9,236.5 L62.7,239.6 Z" fill="#303030"/>
<path d="M71.7,234.7 L77.2,238.1" stroke="#303030" stroke-width="1.44" fill="none" stroke-linecap="round"/>
<path d="M66.8,242.9 C68.1,236.3 71.6,231.8 70.7,226.5" stroke="#303030" stroke-width="1.39" fill="none" stroke-linecap="round"/>
<path d="M65.5,242.8 L68.0,238.9 L67.7,243.8 Z" fill="#303030"/>
<path d="M76.6,243.4 C74.5,239.3 77.5,235.3 75.5,232.9" stroke="#303030" stroke-width="1.99" fill="none" stroke-linecap="round"/>
<path d="M75.6,244.1 L76.0,239.1 L77.8,243.7 Z" fill="#303030"/>
<path d="M84.2,239.5 C78.3,236.4 75.3,232.4 73.6,228.4" stroke="#303030" stroke-width="1.84" fill="none" stroke-linecap="round"/>
<path d="M83.7,240.6 L81.3,236.2 L85.4,239.2 Z" fill="#303030"/>
<path d="M88.5,235.7 C86.3,230.5 83.2,227.6 80.1,225.9" stroke="#303030" stroke-width="1.74" fill="none" stroke-linecap="round"/>
<path d="M88.1,236.8 L85.6,232.5 L89.6,235.4 Z" fill="#303030"/>
<path d="M94.5,228.7 C91.0,224.9 88.1,222.4 84.5,222.2" stroke="#303030" stroke-width="1.73" fill="none" stroke-linecap="round"/>
<path d="M94.1,230.2 L90.9,226.3 L95.8,227.6 Z" fill="#303030"/>
<path d="M87.6,223.5 L86.7,219.4" stroke="#303030" stroke-width="1.44" fill="none" stroke-linecap="round"/>
<path d="M97.1,220.9 C92.5,221.1 89.2,220.0 86.6,219.1" stroke="#303030" stroke-width="1.64" fill="none" stroke-linecap="round"/>
<path d="M97.5,222.2 L94.0,220.5 L97.7,219.7 Z" fill="#303030"/>
<path d="M97.3,214.9 C90.6,214.0 84.7,214.6 79.9,216.8" stroke="#303030" stroke-width="1.85" fill="none" stroke-linecap="round"/>
<path d="M97.7,216.1 L93.2,215.1 L97.9,213.7 Z" fill="#303030"/>
<path d="M97.8,209.0 C90.4,209.3 84.1,206.5 78.7,208.1" stroke="#303030" stroke-width="1.81" fill="none" stroke-linecap="round"/>
<path d="M98.2,210.1 L93.6,208.7 L98.4,207.9 Z" fill="#303030"/>
<path d="M87.5,208.8 L82.3,216.0" stroke="#303030" stroke-width="1.44" fill="none" stroke-linecap="round"/>
<path d="M98.2,202.9 C93.3,205.6 89.7,203.9 86.7,204.0" stroke="#303030" stroke-width="1.52" fill="none" stroke-linecap="round"/>
<path d="M98.6,203.9 L94.0,203.1 L98.7,201.9 Z" fill="#303030"/>
<path d="M92.3,204.6 L89.8,202.3" stroke="#303030" stroke-width="1.44" fill="none" stroke-linecap="round"/>
<path d="M97.8,194.7 C91.5,196.5 86.0,196.8 81.7,199.2" stroke="#303030" stroke-width="1.59" fill="none" stroke-linecap="round"/>
<path d="M98.5,196.3 L94.7,195.4 L98.1,192.9 Z" fill="#303030"/>
<path d="M96.0,186.1 C90.0,190.3 84.1,192.6 78.6,192.0" stroke="#303030" stroke-width="1.42" fill="none" stroke-linecap="round"/>
<path d="M97.0,187.3 L93.1,187.1 L96.0,184.5 Z" fill="#303030"/>
<path d="M93.4,180.4 C89.8,183.2 86.9,184.8 84.9,186.7" stroke="#303030" stroke-width="1.42" fill="none" stroke-linecap="round"/>
<path d="M94.5,181.3 L89.8,182.9 L93.1,178.9 Z" fill="#303030"/>
<path d="M87.7,173.0 C82.6,174.0 80.8,177.1 78.6,178.6" stroke="#303030" stroke-width="1.71" fill="none" stroke-linecap="round"/>
<path d="M89.3,174.0 L85.2,174.8 L87.0,171.4 Z" fill="#303030"/>
<path d="M82.6,167.4 C77.7,170.2 76.7,175.2 72.5,176.0" stroke="#303030" stroke-width="1.64" fill="none" stroke-linecap="round"/>
<path d="M83.9,168.1 L79.6,170.1 L81.9,166.1 Z" fill="#303030"/>
<path d="M76.8,171.6 L76.0,177.7" stroke="#303030" stroke-width="1.44" fill="none" stroke-linecap="round"/>
<path d="M75.5,161.5 C69.9,165.7 70.1,172.8 65.3,175.1" stroke="#303030" stroke-width="1.77" fill="none" stroke-linecap="round"/>
<path d="M77.0,161.9 L73.4,164.4 L74.5,160.2 Z" fill="#303030"/>
<path d="M69.7,167.7 L69.4,175.3" stroke="#303030" stroke-width="1.44" fill="none" stroke-linecap="round"/>
<path d="M70.5,158.6 C67.9,164.4 64.5,168.7 63.5,173.1" stroke="#303030" stroke-width="1.35" fill="none" stroke-linecap="round"/>
<path d="M71.9,158.7 L68.9,161.9 L69.6,157.6 Z" fill="#303030"/>
<path d="M64.5,156.7 C65.2,162.6 60.5,166.3 61.7,170.4" stroke="#303030" stroke-width="1.64" fill="none" stroke-linecap="round"/>
<path d="M65.7,156.4 L63.6,161.0 L63.5,156.0 Z" fill="#303030"/>
<path d="M63.3,166.7 L66.2,172.7" stroke="#303030" stroke-width="1.44" fill="none" stroke-linecap="round"/>
</g>
</g>
<path d="M49.5,156.0 L49.9,155.3 L50.6,154.9 L51.5,154.8 L52.4,154.9 L53.1,155.3 L53.5,156.0 L53.6,157.1 L53.4,158.6 L53.0,160.4 L52.6,162.3 L52.2,164.2 L52.0,166.0 L51.9,167.7 L51.8,169.3 L51.7,171.0 L51.7,172.7 L51.7,174.3 L51.6,176.0 L51.5,177.8 L51.5,179.7 L51.4,181.6 L51.3,183.4 L51.3,184.9 L51.2,186.0 L51.1,186.7 L51.1,187.1 L51.0,187.2 L50.9,187.1 L50.9,186.7 L50.8,186.0 L50.8,184.9 L50.7,183.4 L50.7,181.6 L50.6,179.7 L50.6,177.8 L50.6,176.0 L50.6,174.3 L50.7,172.7 L50.8,171.0 L50.8,169.3 L50.8,167.7 L50.8,166.0 L50.6,164.2 L50.3,162.3 L49.9,160.4 L49.6,158.6 L49.4,157.1 Z" fill="#080808"/>
<path d="M48.5,174.0 L48.0,174.5 L47.3,175.2 L46.5,176.1 L45.6,177.0 L45.0,178.0 L44.5,179.0 L44.3,180.1 L44.2,181.4 L44.3,182.7 L44.4,184.0 L44.7,185.1 L45.0,186.0 L45.5,186.6 L46.1,187.1 L46.8,187.4 L47.5,187.7 L48.1,187.8 L48.5,188.0" stroke="#a2a2a2" stroke-width="3.2" fill="none" stroke-linecap="round" />
<path d="M54.5,174.0 L55.0,174.5 L55.7,175.2 L56.5,176.1 L57.4,177.0 L58.0,178.0 L58.5,179.0 L58.7,180.1 L58.8,181.4 L58.7,182.7 L58.6,184.0 L58.3,185.1 L58.0,186.0 L57.5,186.6 L56.9,187.1 L56.2,187.4 L55.5,187.7 L54.9,187.8 L54.5,188.0" stroke="#a2a2a2" stroke-width="3.2" fill="none" stroke-linecap="round" />
<path d="M40.0,191.0 L40.7,190.7 L41.6,190.3 L42.7,189.8 L43.8,189.3 L45.0,188.9 L46.0,188.6 L46.9,188.4 L47.9,188.3 L48.8,188.2 L49.7,188.2 L50.6,188.2 L51.5,188.2 L52.4,188.2 L53.3,188.2 L54.2,188.2 L55.1,188.3 L56.1,188.4 L57.0,188.6 L58.0,188.9 L59.2,189.3 L60.3,189.8 L61.4,190.3 L62.3,190.7 L63.0,191.0" stroke="#ececec" stroke-width="2.4" fill="none" stroke-linecap="round" />
<path d="M39.5,190.3 L40.0,190.0 L40.6,189.8 L41.4,189.6 L42.3,189.4 L43.2,189.3 L44.0,189.3 L44.9,189.4 L45.8,189.5 L46.8,189.6 L47.8,189.9 L48.6,190.2 L49.2,190.6 L49.6,191.1 L49.9,191.7 L50.0,192.3 L50.1,193.1 L50.1,193.8 L50.1,194.5 L50.1,195.3 L50.1,196.2 L50.1,197.2 L50.0,198.0 L49.8,198.6 L49.6,199.0 L49.3,199.0 L48.9,198.7 L48.5,198.2 L48.0,197.6 L47.5,197.0 L47.0,196.5 L46.4,196.1 L45.7,195.7 L45.0,195.3 L44.3,194.9 L43.6,194.5 L43.0,194.2 L42.4,193.9 L41.8,193.7 L41.3,193.5 L40.8,193.3 L40.3,193.1 L40.0,192.8 L39.7,192.4 L39.5,192.0 L39.3,191.5 L39.2,191.1 L39.3,190.6 Z" fill="#060606"/>
<path d="M62.1,190.3 L61.6,190.0 L61.0,189.8 L60.2,189.6 L59.3,189.4 L58.4,189.3 L57.6,189.3 L56.7,189.4 L55.8,189.5 L54.8,189.6 L53.8,189.9 L53.0,190.2 L52.4,190.6 L52.0,191.1 L51.7,191.7 L51.6,192.3 L51.5,193.1 L51.5,193.8 L51.5,194.5 L51.5,195.3 L51.5,196.2 L51.5,197.2 L51.6,198.0 L51.8,198.6 L52.0,199.0 L52.3,199.0 L52.7,198.7 L53.1,198.2 L53.6,197.6 L54.1,197.0 L54.6,196.5 L55.2,196.1 L55.9,195.7 L56.6,195.3 L57.3,194.9 L58.0,194.5 L58.6,194.2 L59.2,193.9 L59.8,193.7 L60.3,193.5 L60.8,193.3 L61.3,193.1 L61.6,192.8 L61.9,192.4 L62.1,192.0 L62.3,191.5 L62.4,191.1 L62.3,190.6 Z" fill="#060606"/>
<path d="M50.8,191.0 L50.8,191.8 L50.8,193.1 L50.8,194.5 L50.8,195.9 L50.8,197.2 L50.8,198.0" stroke="#e0e0e0" stroke-width="1.0" fill="none" stroke-linecap="round" />
<path d="M50.8,198.0 L50.8,199.0 L50.8,200.4 L50.8,202.0 L50.7,203.7 L50.7,205.5 L50.7,207.0 L50.7,208.5 L50.7,210.0 L50.6,211.6 L50.6,213.0 L50.6,214.1 L50.6,215.0" stroke="#151515" stroke-width="1.7" fill="none" stroke-linecap="round" />
<path d="M41.0,201.0 L42.0,200.4 L43.4,200.0 L45.0,199.8 L46.6,199.8 L48.0,200.0 L49.0,200.5 L49.6,201.3 L49.9,202.5 L50.0,203.9 L49.9,205.4 L49.7,206.8 L49.5,208.0 L49.2,209.1 L48.7,210.2 L48.2,211.2 L47.5,212.1 L46.8,212.7 L46.0,213.0 L45.1,212.9 L43.9,212.5 L42.7,211.8 L41.6,211.0 L40.6,210.0 L40.0,209.0 L39.7,207.8 L39.6,206.4 L39.6,204.8 L39.9,203.3 L40.3,201.9 Z" fill="#c4c4c4"/>
<path d="M52.5,200.5 L53.4,200.0 L54.7,199.8 L56.2,199.8 L57.6,200.1 L59.0,200.4 L60.0,201.0 L60.7,201.8 L61.4,202.9 L61.8,204.2 L62.1,205.6 L62.2,206.9 L62.0,208.0 L61.4,209.1 L60.5,210.2 L59.4,211.2 L58.1,212.1 L57.0,212.8 L56.0,213.0 L55.2,212.8 L54.4,212.2 L53.6,211.3 L52.9,210.2 L52.4,209.1 L52.0,208.0 L51.7,206.8 L51.6,205.4 L51.5,203.9 L51.6,202.5 L52.0,201.3 Z" fill="#c4c4c4"/>
<path d="M41.0,217.0 L41.5,216.1 L42.3,215.5 L43.2,215.1 L44.1,214.9 L45.1,214.7 L46.0,214.5 L46.8,214.2 L47.7,214.0 L48.5,213.8 L49.3,213.6 L50.2,213.5 L51.0,213.5 L51.8,213.5 L52.7,213.6 L53.5,213.8 L54.3,214.0 L55.2,214.2 L56.0,214.5 L56.9,214.7 L57.9,214.9 L58.8,215.1 L59.7,215.5 L60.5,216.1 L61.0,217.0 L61.4,218.4 L61.7,220.2 L61.9,222.3 L61.9,224.4 L61.6,226.4 L61.0,228.0 L59.9,229.4 L58.4,230.8 L56.6,232.1 L54.7,233.1 L52.8,233.8 L51.0,234.0 L49.2,233.8 L47.3,233.1 L45.4,232.1 L43.6,230.8 L42.1,229.4 L41.0,228.0 L40.4,226.4 L40.1,224.4 L40.1,222.3 L40.3,220.2 L40.6,218.4 Z" fill="#000"/>
<path d="M7.0,184.0 L7.4,184.2 L8.0,184.6 L8.8,184.9 L9.5,185.3 L10.3,185.7 L11.0,186.0 L11.7,186.2 L12.5,186.4 L13.2,186.6 L14.0,186.8 L14.6,186.9 L15.0,187.0" stroke="#0a0a0a" stroke-width="2.2" fill="none" stroke-linecap="round" />
<path d="M14.9,208.5 L15.2,208.6 L15.7,208.8 L16.2,208.9 L16.8,209.1 L17.4,209.3 L18.0,209.5 L18.7,209.7 L19.4,209.9 L20.2,210.1 L20.9,210.2 L21.6,210.4 L22.0,210.5" stroke="#0a0a0a" stroke-width="2.6" fill="none" stroke-linecap="round" />
<path d="M92.0,184.0 L91.3,184.2 L90.4,184.5 L89.4,184.8 L88.2,185.2 L87.1,185.6 L86.0,186.0 L84.9,186.5 L83.8,187.0 L82.6,187.6 L81.6,188.2 L80.7,188.7 L80.0,189.0" stroke="#333333" stroke-width="1.4" fill="none" stroke-linecap="round" />
<path d="M69.0,224.0 L69.4,224.3 L70.0,224.7 L70.7,225.1 L71.5,225.6 L72.3,226.1 L73.0,226.5 L73.8,226.9 L74.6,227.3 L75.5,227.7 L76.3,228.0 L77.0,228.3 L77.5,228.5" stroke="#0a0a0a" stroke-width="3.2" fill="none" stroke-linecap="round" />
<path d="M80.0,229.0 L80.4,228.7 L81.0,228.2 L81.7,227.6 L82.4,227.0 L83.2,226.5 L84.0,226.0 L84.8,225.6 L85.8,225.2 L86.8,224.8 L87.7,224.5 L88.4,224.2 L89.0,224.0" stroke="#333333" stroke-width="1.3" fill="none" stroke-linecap="round" />
<path d="M64.0,220.0 L64.6,219.9 L65.5,219.6 L66.5,219.4 L67.6,219.1 L68.8,219.0 L70.0,219.0 L71.2,219.2 L72.5,219.5 L73.9,219.9 L75.3,220.3 L76.6,220.7 L78.0,221.0 L79.4,221.2 L81.0,221.4 L82.5,221.6 L83.9,221.8 L85.1,221.9 L86.0,222.0" stroke="#e6e6e6" stroke-width="1.6" fill="none" stroke-linecap="round" />
<path d="M16.0,218.0 L16.6,217.7 L17.5,217.3 L18.5,216.8 L19.6,216.4 L20.8,216.1 L22.0,216.0 L23.3,216.2 L24.8,216.7 L26.4,217.4 L27.9,218.0 L29.1,218.6 L30.0,219.0" stroke="#e0e0e0" stroke-width="1.6" fill="none" stroke-linecap="round" />
<path d="M63.0,212.0 L63.8,211.9 L64.8,211.7 L66.0,211.4 L67.3,211.2 L68.7,211.1 L70.0,211.0 L71.3,211.0 L72.5,211.1 L73.8,211.3 L75.1,211.5 L76.5,211.8 L78.0,212.0 L79.7,212.3 L81.6,212.7 L83.5,213.1 L85.3,213.4 L86.9,213.8 L88.0,214.0" stroke="#333333" stroke-width="1.3" fill="none" stroke-linecap="round" />
</g>
<ellipse cx="47.3" cy="180.6" rx="2.8" ry="2.2" transform="rotate(0 47.3 180.6)" fill="#ffb000"/><ellipse cx="47.3" cy="180.6" rx="1.54" ry="1.10" transform="rotate(0 47.3 180.6)" fill="#ffe000"/>
<ellipse cx="9.3" cy="195.4" rx="2.8" ry="3.3" transform="rotate(0 9.3 195.4)" fill="#ffb000"/><ellipse cx="9.3" cy="195.4" rx="1.54" ry="1.65" transform="rotate(0 9.3 195.4)" fill="#ffe000"/>
<ellipse cx="22.3" cy="199.9" rx="2.8" ry="2.2" transform="rotate(0 22.3 199.9)" fill="#ffb000"/><ellipse cx="22.3" cy="199.9" rx="1.54" ry="1.10" transform="rotate(0 22.3 199.9)" fill="#ffe000"/>
<ellipse cx="30.3" cy="221.3" rx="2.1" ry="2.1" transform="rotate(0 30.3 221.3)" fill="#ffb000"/><ellipse cx="30.3" cy="221.3" rx="1.16" ry="1.05" transform="rotate(0 30.3 221.3)" fill="#ffe000"/>
<ellipse cx="69.1" cy="220.7" rx="1.5" ry="1.5" transform="rotate(0 69.1 220.7)" fill="#ff9a00"/><ellipse cx="69.1" cy="220.7" rx="0.83" ry="0.75" transform="rotate(0 69.1 220.7)" fill="#ffc000"/>
<ellipse cx="93.5" cy="194.6" rx="1.8" ry="1.8" transform="rotate(0 93.5 194.6)" fill="#ff9a00"/><ellipse cx="93.5" cy="194.6" rx="0.99" ry="0.90" transform="rotate(0 93.5 194.6)" fill="#ffc000"/>
<circle cx="46" cy="181.2" r="7.7" fill="none" stroke="#0c0c0c" stroke-width="1.7"/>
<circle cx="30.8" cy="222" r="7.3" fill="none" stroke="#0c0c0c" stroke-width="1.7"/>
<circle cx="31.8" cy="224.8" r="1.4" fill="#050505"/>
<text x="21.4" y="189.8" font-family="Liberation Sans, sans-serif" font-weight="bold" font-size="8" fill="#111" stroke="#c8c8c8" stroke-width="1.0" stroke-linejoin="round" paint-order="stroke" stroke-opacity="0.85">MCC</text>
<text x="29.8" y="211.2" font-family="Liberation Sans, sans-serif" font-weight="bold" font-size="8" fill="#111" stroke="#c8c8c8" stroke-width="1.0" stroke-linejoin="round" paint-order="stroke" stroke-opacity="0.85">Amy.</text>
</g>
<rect x="104.8" y="150.5" width="101.4" height="105.5" fill="#000"/>
<g clip-path="url(#c3)"><g filter="url(#bl)">
<clipPath id="s3"><path d="M155.5,158.0 L154.4,157.7 L152.9,157.3 L151.2,156.9 L149.5,156.4 L147.9,156.1 L146.5,156.0 L145.4,156.1 L144.6,156.4 L143.9,156.7 L143.1,157.2 L142.2,157.7 L141.0,158.3 L139.5,158.9 L137.6,159.6 L135.7,160.3 L133.7,161.1 L131.8,161.9 L130.0,162.8 L128.4,163.8 L126.9,164.8 L125.5,165.9 L124.1,167.0 L122.8,168.2 L121.5,169.3 L120.3,170.4 L119.1,171.6 L118.0,172.7 L116.9,173.9 L115.9,175.2 L115.0,176.5 L114.2,177.9 L113.5,179.4 L112.8,180.9 L112.2,182.4 L111.7,184.0 L111.3,185.5 L111.0,187.0 L110.8,188.5 L110.7,190.0 L110.6,191.5 L110.5,193.0 L110.4,194.6 L110.2,196.3 L110.0,198.1 L109.7,199.9 L109.5,201.7 L109.2,203.4 L109.0,205.0 L108.8,206.4 L108.5,207.6 L108.3,208.7 L108.1,209.7 L108.0,210.8 L108.0,212.0 L108.1,213.3 L108.2,214.5 L108.5,215.9 L108.8,217.2 L109.1,218.5 L109.5,219.8 L109.9,221.1 L110.3,222.5 L110.7,223.9 L111.2,225.2 L111.9,226.5 L112.8,227.5 L113.9,228.4 L115.2,229.1 L116.7,229.8 L118.3,230.3 L119.9,230.7 L121.6,231.0 L123.3,231.1 L125.2,231.1 L127.2,230.9 L129.1,230.7 L130.9,230.4 L132.6,230.0 L134.1,229.6 L135.6,229.0 L137.0,228.4 L138.3,227.8 L139.4,227.1 L140.3,226.4 L141.0,225.6 L141.5,224.5 L141.9,223.5 L142.2,222.6 L142.4,222.0 L142.5,222.0 L142.5,222.6 L142.4,223.7 L142.3,225.2 L142.1,226.9 L142.0,228.5 L142.0,230.0 L142.1,231.4 L142.3,232.8 L142.6,234.2 L142.9,235.6 L143.4,236.9 L144.0,238.0 L144.8,239.0 L145.7,239.9 L146.8,240.7 L147.9,241.4 L149.0,242.0 L150.0,242.5 L150.9,242.8 L151.7,243.0 L152.6,243.1 L153.4,243.1 L154.2,243.1 L155.0,243.0 L155.8,242.9 L156.7,242.9 L157.5,242.8 L158.4,242.5 L159.2,242.1 L160.0,241.5 L160.8,240.6 L161.6,239.5 L162.5,238.2 L163.2,236.8 L163.9,235.3 L164.5,234.0 L164.9,232.6 L165.2,231.2 L165.4,229.8 L165.6,228.4 L165.8,227.1 L166.0,226.0 L166.3,225.0 L166.5,224.0 L166.8,223.1 L167.1,222.4 L167.5,222.0 L168.0,222.0 L168.6,222.5 L169.2,223.6 L169.9,224.9 L170.7,226.3 L171.6,227.6 L172.6,228.6 L173.8,229.3 L175.2,229.8 L176.7,230.3 L178.3,230.6 L179.9,230.9 L181.4,231.0 L182.9,231.0 L184.3,230.9 L185.8,230.7 L187.3,230.4 L188.7,230.1 L190.2,229.7 L191.7,229.3 L193.3,229.0 L194.9,228.5 L196.5,228.0 L197.8,227.3 L199.0,226.4 L199.9,225.3 L200.6,224.0 L201.2,222.5 L201.7,220.9 L202.1,219.3 L202.4,217.6 L202.7,215.9 L202.8,214.1 L202.8,212.2 L202.8,210.3 L202.8,208.4 L202.8,206.6 L202.8,204.9 L202.8,203.2 L202.7,201.6 L202.7,199.9 L202.5,198.3 L202.3,196.7 L202.0,195.1 L201.6,193.5 L201.2,191.9 L200.7,190.4 L200.2,188.8 L199.6,187.2 L199.0,185.6 L198.4,184.0 L197.7,182.3 L196.9,180.7 L196.2,179.1 L195.3,177.6 L194.4,176.1 L193.4,174.6 L192.4,173.2 L191.3,171.8 L190.2,170.4 L189.0,169.1 L187.7,167.8 L186.3,166.5 L184.9,165.2 L183.4,164.0 L181.9,162.8 L180.5,161.7 L179.1,160.6 L177.7,159.6 L176.2,158.7 L174.8,157.8 L173.4,157.0 L172.0,156.4 L170.6,155.9 L169.1,155.6 L167.6,155.3 L166.2,155.2 L164.8,155.2 L163.5,155.3 L162.3,155.6 L161.0,156.0 L159.9,156.6 L158.8,157.2 L157.9,157.7 L157.1,158.0 L156.6,158.2 L156.5,158.3 L156.5,158.3 L156.4,158.2 L156.1,158.1 Z"/></clipPath>
<g clip-path="url(#s3)">
<path d="M155.5,158.0 L154.4,157.7 L152.9,157.3 L151.2,156.9 L149.5,156.4 L147.9,156.1 L146.5,156.0 L145.4,156.1 L144.6,156.4 L143.9,156.7 L143.1,157.2 L142.2,157.7 L141.0,158.3 L139.5,158.9 L137.6,159.6 L135.7,160.3 L133.7,161.1 L131.8,161.9 L130.0,162.8 L128.4,163.8 L126.9,164.8 L125.5,165.9 L124.1,167.0 L122.8,168.2 L121.5,169.3 L120.3,170.4 L119.1,171.6 L118.0,172.7 L116.9,173.9 L115.9,175.2 L115.0,176.5 L114.2,177.9 L113.5,179.4 L112.8,180.9 L112.2,182.4 L111.7,184.0 L111.3,185.5 L111.0,187.0 L110.8,188.5 L110.7,190.0 L110.6,191.5 L110.5,193.0 L110.4,194.6 L110.2,196.3 L110.0,198.1 L109.7,199.9 L109.5,201.7 L109.2,203.4 L109.0,205.0 L108.8,206.4 L108.5,207.6 L108.3,208.7 L108.1,209.7 L108.0,210.8 L108.0,212.0 L108.1,213.3 L108.2,214.5 L108.5,215.9 L108.8,217.2 L109.1,218.5 L109.5,219.8 L109.9,221.1 L110.3,222.5 L110.7,223.9 L111.2,225.2 L111.9,226.5 L112.8,227.5 L113.9,228.4 L115.2,229.1 L116.7,229.8 L118.3,230.3 L119.9,230.7 L121.6,231.0 L123.3,231.1 L125.2,231.1 L127.2,230.9 L129.1,230.7 L130.9,230.4 L132.6,230.0 L134.1,229.6 L135.6,229.0 L137.0,228.4 L138.3,227.8 L139.4,227.1 L140.3,226.4 L141.0,225.6 L141.5,224.5 L141.9,223.5 L142.2,222.6 L142.4,222.0 L142.5,222.0 L142.5,222.6 L142.4,223.7 L142.3,225.2 L142.1,226.9 L142.0,228.5 L142.0,230.0 L142.1,231.4 L142.3,232.8 L142.6,234.2 L142.9,235.6 L143.4,236.9 L144.0,238.0 L144.8,239.0 L145.7,239.9 L146.8,240.7 L147.9,241.4 L149.0,242.0 L150.0,242.5 L150.9,242.8 L151.7,243.0 L152.6,243.1 L153.4,243.1 L154.2,243.1 L155.0,243.0 L155.8,242.9 L156.7,242.9 L157.5,242.8 L158.4,242.5 L159.2,242.1 L160.0,241.5 L160.8,240.6 L161.6,239.5 L162.5,238.2 L163.2,236.8 L163.9,235.3 L164.5,234.0 L164.9,232.6 L165.2,231.2 L165.4,229.8 L165.6,228.4 L165.8,227.1 L166.0,226.0 L166.3,225.0 L166.5,224.0 L166.8,223.1 L167.1,222.4 L167.5,222.0 L168.0,222.0 L168.6,222.5 L169.2,223.6 L169.9,224.9 L170.7,226.3 L171.6,227.6 L172.6,228.6 L173.8,229.3 L175.2,229.8 L176.7,230.3 L178.3,230.6 L179.9,230.9 L181.4,231.0 L182.9,231.0 L184.3,230.9 L185.8,230.7 L187.3,230.4 L188.7,230.1 L190.2,229.7 L191.7,229.3 L193.3,229.0 L194.9,228.5 L196.5,228.0 L197.8,227.3 L199.0,226.4 L199.9,225.3 L200.6,224.0 L201.2,222.5 L201.7,220.9 L202.1,219.3 L202.4,217.6 L202.7,215.9 L202.8,214.1 L202.8,212.2 L202.8,210.3 L202.8,208.4 L202.8,206.6 L202.8,204.9 L202.8,203.2 L202.7,201.6 L202.7,199.9 L202.5,198.3 L202.3,196.7 L202.0,195.1 L201.6,193.5 L201.2,191.9 L200.7,190.4 L200.2,188.8 L199.6,187.2 L199.0,185.6 L198.4,184.0 L197.7,182.3 L196.9,180.7 L196.2,179.1 L195.3,177.6 L194.4,176.1 L193.4,174.6 L192.4,173.2 L191.3,171.8 L190.2,170.4 L189.0,169.1 L187.7,167.8 L186.3,166.5 L184.9,165.2 L183.4,164.0 L181.9,162.8 L180.5,161.7 L179.1,160.6 L177.7,159.6 L176.2,158.7 L174.8,157.8 L173.4,157.0 L172.0,156.4 L170.6,155.9 L169.1,155.6 L167.6,155.3 L166.2,155.2 L164.8,155.2 L163.5,155.3 L162.3,155.6 L161.0,156.0 L159.9,156.6 L158.8,157.2 L157.9,157.7 L157.1,158.0 L156.6,158.2 L156.5,158.3 L156.5,158.3 L156.4,158.2 L156.1,158.1 Z" fill="#c6c6c6"/>
<g filter="url(#wv)">
<path d="M142.7,156.0 C144.5,161.8 145.4,166.9 146.4,171.0" stroke="#989898" stroke-width="5.34" fill="none" stroke-linecap="round"/>
<path d="M137.6,158.0 C138.6,163.3 141.3,166.9 143.9,169.6" stroke="#989898" stroke-width="4.49" fill="none" stroke-linecap="round"/>
<path d="M132.0,160.2 C135.8,163.4 136.5,166.8 136.1,170.0" stroke="#989898" stroke-width="4.80" fill="none" stroke-linecap="round"/>
<path d="M125.7,163.9 C128.7,169.5 132.8,173.3 135.2,177.0" stroke="#989898" stroke-width="4.85" fill="none" stroke-linecap="round"/>
<path d="M120.6,168.1 C125.9,170.2 126.2,175.5 129.7,176.8" stroke="#989898" stroke-width="5.04" fill="none" stroke-linecap="round"/>
<path d="M116.5,172.1 C120.0,175.8 120.7,180.9 124.4,181.6" stroke="#989898" stroke-width="5.04" fill="none" stroke-linecap="round"/>
<path d="M121.2,177.6 L124.5,178.1" stroke="#989898" stroke-width="4.42" fill="none" stroke-linecap="round"/>
<path d="M111.7,179.6 C117.1,179.4 119.5,183.3 122.1,184.9" stroke="#989898" stroke-width="5.18" fill="none" stroke-linecap="round"/>
<path d="M109.3,188.2 C115.1,188.0 119.5,191.3 123.6,188.9" stroke="#989898" stroke-width="4.42" fill="none" stroke-linecap="round"/>
<path d="M109.0,193.3 C113.9,194.8 117.7,195.8 120.8,196.2" stroke="#989898" stroke-width="4.49" fill="none" stroke-linecap="round"/>
<path d="M108.0,201.6 C113.8,200.2 118.1,202.2 121.9,201.4" stroke="#989898" stroke-width="4.44" fill="none" stroke-linecap="round"/>
<path d="M106.6,210.0 C111.4,211.0 115.3,209.6 118.3,210.8" stroke="#989898" stroke-width="4.78" fill="none" stroke-linecap="round"/>
<path d="M107.4,218.0 C113.6,216.0 118.5,212.3 123.4,213.1" stroke="#989898" stroke-width="4.49" fill="none" stroke-linecap="round"/>
<path d="M109.7,224.3 C115.1,222.6 119.7,221.5 123.4,220.4" stroke="#989898" stroke-width="5.87" fill="none" stroke-linecap="round"/>
<path d="M193.5,230.4 C194.0,223.6 189.7,218.9 190.5,214.0" stroke="#989898" stroke-width="4.78" fill="none" stroke-linecap="round"/>
<path d="M192.8,221.9 L188.8,219.7" stroke="#989898" stroke-width="4.42" fill="none" stroke-linecap="round"/>
<path d="M200.9,226.5 C196.5,219.9 189.7,218.4 187.2,212.7" stroke="#989898" stroke-width="5.66" fill="none" stroke-linecap="round"/>
<path d="M203.3,220.4 C196.1,220.5 190.7,216.1 185.2,217.3" stroke="#989898" stroke-width="5.28" fill="none" stroke-linecap="round"/>
<path d="M204.3,212.7 C198.9,211.7 194.3,213.4 190.7,212.0" stroke="#989898" stroke-width="5.12" fill="none" stroke-linecap="round"/>
<path d="M204.3,205.2 C199.0,206.4 194.7,206.9 191.3,206.7" stroke="#989898" stroke-width="4.83" fill="none" stroke-linecap="round"/>
<path d="M203.9,197.5 C197.1,199.8 190.6,198.5 185.5,198.3" stroke="#989898" stroke-width="5.40" fill="none" stroke-linecap="round"/>
<path d="M202.6,191.4 C196.9,193.1 192.3,195.1 188.0,194.7" stroke="#989898" stroke-width="5.56" fill="none" stroke-linecap="round"/>
<path d="M192.5,193.9 L187.3,190.4" stroke="#989898" stroke-width="4.42" fill="none" stroke-linecap="round"/>
<path d="M199.9,183.8 C194.4,183.9 192.1,189.4 188.1,188.4" stroke="#989898" stroke-width="5.51" fill="none" stroke-linecap="round"/>
<path d="M193.6,185.2 L190.9,189.8" stroke="#989898" stroke-width="4.42" fill="none" stroke-linecap="round"/>
<path d="M197.3,178.1 C193.0,179.9 189.8,181.5 187.2,182.9" stroke="#989898" stroke-width="4.48" fill="none" stroke-linecap="round"/>
<path d="M191.7,180.6 L188.2,179.8" stroke="#989898" stroke-width="4.42" fill="none" stroke-linecap="round"/>
<path d="M193.1,171.7 C189.8,175.1 185.5,175.3 184.3,178.5" stroke="#989898" stroke-width="4.43" fill="none" stroke-linecap="round"/>
<path d="M187.9,165.9 C185.6,172.5 180.3,175.2 177.5,178.7" stroke="#989898" stroke-width="5.84" fill="none" stroke-linecap="round"/>
<path d="M183.3,161.9 C180.7,167.8 177.4,172.0 174.1,174.8" stroke="#989898" stroke-width="4.74" fill="none" stroke-linecap="round"/>
<path d="M177.6,170.9 L178.6,175.0" stroke="#989898" stroke-width="4.42" fill="none" stroke-linecap="round"/>
<path d="M178.4,158.3 C175.6,163.6 172.9,167.7 169.6,170.3" stroke="#989898" stroke-width="5.10" fill="none" stroke-linecap="round"/>
<path d="M172.9,155.2 C173.3,161.1 171.3,165.0 168.4,167.6" stroke="#989898" stroke-width="4.98" fill="none" stroke-linecap="round"/>
<path d="M171.5,162.5 L166.5,165.7" stroke="#989898" stroke-width="4.42" fill="none" stroke-linecap="round"/>
<path d="M109.6,225.1 C112.1,222.4 115.6,225.8 116.2,222.9" stroke="#989898" stroke-width="4.45" fill="none" stroke-linecap="round"/>
<path d="M113.7,230.0 C114.8,226.2 116.3,223.9 118.6,222.8" stroke="#989898" stroke-width="4.78" fill="none" stroke-linecap="round"/>
<path d="M116.1,225.4 L119.0,224.6" stroke="#989898" stroke-width="4.42" fill="none" stroke-linecap="round"/>
<path d="M118.7,232.0 C119.9,227.9 122.3,225.2 120.6,222.2" stroke="#989898" stroke-width="5.43" fill="none" stroke-linecap="round"/>
<path d="M127.7,232.4 C125.4,229.4 128.8,226.9 126.1,225.6" stroke="#989898" stroke-width="5.50" fill="none" stroke-linecap="round"/>
<path d="M132.8,231.5 C131.5,228.2 132.5,225.8 130.0,224.5" stroke="#989898" stroke-width="5.29" fill="none" stroke-linecap="round"/>
<path d="M139.2,229.0 C138.7,225.0 135.1,224.2 134.8,222.1" stroke="#989898" stroke-width="5.83" fill="none" stroke-linecap="round"/>
<path d="M168.4,225.8 C172.2,223.1 176.8,224.0 178.9,221.9" stroke="#989898" stroke-width="5.52" fill="none" stroke-linecap="round"/>
<path d="M174.0,223.1 L177.9,224.6" stroke="#989898" stroke-width="4.42" fill="none" stroke-linecap="round"/>
<path d="M175.2,231.4 C179.1,227.5 175.6,222.2 178.6,219.9" stroke="#989898" stroke-width="5.69" fill="none" stroke-linecap="round"/>
<path d="M183.7,232.4 C185.3,228.6 183.8,226.3 182.9,224.4" stroke="#989898" stroke-width="4.90" fill="none" stroke-linecap="round"/>
<path d="M189.3,231.4 C190.8,226.3 185.9,223.7 188.1,220.2" stroke="#989898" stroke-width="5.00" fill="none" stroke-linecap="round"/>
<path d="M155.5,158.0 L154.4,157.7 L152.9,157.3 L151.2,156.9 L149.5,156.4 L147.9,156.1 L146.5,156.0 L145.4,156.1 L144.6,156.4 L143.9,156.7 L143.1,157.2 L142.2,157.7 L141.0,158.3 L139.5,158.9 L137.6,159.6 L135.7,160.3 L133.7,161.1 L131.8,161.9 L130.0,162.8 L128.4,163.8 L126.9,164.8 L125.5,165.9 L124.1,167.0 L122.8,168.2 L121.5,169.3 L120.3,170.4 L119.1,171.6 L118.0,172.7 L116.9,173.9 L115.9,175.2 L115.0,176.5 L114.2,177.9 L113.5,179.4 L112.8,180.9 L112.2,182.4 L111.7,184.0 L111.3,185.5 L111.0,187.0 L110.8,188.5 L110.7,190.0 L110.6,191.5 L110.5,193.0 L110.4,194.6 L110.2,196.3 L110.0,198.1 L109.7,199.9 L109.5,201.7 L109.2,203.4 L109.0,205.0 L108.8,206.4 L108.5,207.6 L108.3,208.7 L108.1,209.7 L108.0,210.8 L108.0,212.0 L108.1,213.3 L108.2,214.5 L108.5,215.9 L108.8,217.2 L109.1,218.5 L109.5,219.8 L109.9,221.1 L110.3,222.5 L110.7,223.9 L111.2,225.2 L111.9,226.5 L112.8,227.5 L113.9,228.4 L115.2,229.1 L116.7,229.8 L118.3,230.3 L119.9,230.7 L121.6,231.0 L123.3,231.1 L125.2,231.1 L127.2,230.9 L129.1,230.7 L130.9,230.4 L132.6,230.0 L134.1,229.6 L135.6,229.0 L137.0,228.4 L138.3,227.8 L139.4,227.1 L140.3,226.4 L141.0,225.6 L141.5,224.5 L141.9,223.5 L142.2,222.6 L142.4,222.0 L142.5,222.0 L142.5,222.6 L142.4,223.7 L142.3,225.2 L142.1,226.9 L142.0,228.5 L142.0,230.0 L142.1,231.4 L142.3,232.8 L142.6,234.2 L142.9,235.6 L143.4,236.9 L144.0,238.0 L144.8,239.0 L145.7,239.9 L146.8,240.7 L147.9,241.4 L149.0,242.0 L150.0,242.5 L150.9,242.8 L151.7,243.0 L152.6,243.1 L153.4,243.1 L154.2,243.1 L155.0,243.0 L155.8,242.9 L156.7,242.9 L157.5,242.8 L158.4,242.5 L159.2,242.1 L160.0,241.5 L160.8,240.6 L161.6,239.5 L162.5,238.2 L163.2,236.8 L163.9,235.3 L164.5,234.0 L164.9,232.6 L165.2,231.2 L165.4,229.8 L165.6,228.4 L165.8,227.1 L166.0,226.0 L166.3,225.0 L166.5,224.0 L166.8,223.1 L167.1,222.4 L167.5,222.0 L168.0,222.0 L168.6,222.5 L169.2,223.6 L169.9,224.9 L170.7,226.3 L171.6,227.6 L172.6,228.6 L173.8,229.3 L175.2,229.8 L176.7,230.3 L178.3,230.6 L179.9,230.9 L181.4,231.0 L182.9,231.0 L184.3,230.9 L185.8,230.7 L187.3,230.4 L188.7,230.1 L190.2,229.7 L191.7,229.3 L193.3,229.0 L194.9,228.5 L196.5,228.0 L197.8,227.3 L199.0,226.4 L199.9,225.3 L200.6,224.0 L201.2,222.5 L201.7,220.9 L202.1,219.3 L202.4,217.6 L202.7,215.9 L202.8,214.1 L202.8,212.2 L202.8,210.3 L202.8,208.4 L202.8,206.6 L202.8,204.9 L202.8,203.2 L202.7,201.6 L202.7,199.9 L202.5,198.3 L202.3,196.7 L202.0,195.1 L201.6,193.5 L201.2,191.9 L200.7,190.4 L200.2,188.8 L199.6,187.2 L199.0,185.6 L198.4,184.0 L197.7,182.3 L196.9,180.7 L196.2,179.1 L195.3,177.6 L194.4,176.1 L193.4,174.6 L192.4,173.2 L191.3,171.8 L190.2,170.4 L189.0,169.1 L187.7,167.8 L186.3,166.5 L184.9,165.2 L183.4,164.0 L181.9,162.8 L180.5,161.7 L179.1,160.6 L177.7,159.6 L176.2,158.7 L174.8,157.8 L173.4,157.0 L172.0,156.4 L170.6,155.9 L169.1,155.6 L167.6,155.3 L166.2,155.2 L164.8,155.2 L163.5,155.3 L162.3,155.6 L161.0,156.0 L159.9,156.6 L158.8,157.2 L157.9,157.7 L157.1,158.0 L156.6,158.2 L156.5,158.3 L156.5,158.3 L156.4,158.2 L156.1,158.1 Z" fill="none" stroke="#989898" stroke-width="7.0"/>
<path d="M142.7,156.0 C144.5,161.8 145.4,166.9 146.4,171.0" stroke="#303030" stroke-width="1.43" fill="none" stroke-linecap="round"/>
<path d="M143.8,155.0 L143.8,159.7 L141.2,156.1 Z" fill="#303030"/>
<path d="M137.6,158.0 C138.6,163.3 141.3,166.9 143.9,169.6" stroke="#303030" stroke-width="2.07" fill="none" stroke-linecap="round"/>
<path d="M139.1,156.9 L139.4,161.5 L135.8,158.1 Z" fill="#303030"/>
<path d="M132.0,160.2 C135.8,163.4 136.5,166.8 136.1,170.0" stroke="#303030" stroke-width="1.30" fill="none" stroke-linecap="round"/>
<path d="M133.0,159.2 L133.4,163.5 L130.5,160.3 Z" fill="#303030"/>
<path d="M125.7,163.9 C128.7,169.5 132.8,173.3 135.2,177.0" stroke="#303030" stroke-width="2.08" fill="none" stroke-linecap="round"/>
<path d="M126.8,162.4 L128.2,167.3 L123.9,164.5 Z" fill="#303030"/>
<path d="M120.6,168.1 C125.9,170.2 126.2,175.5 129.7,176.8" stroke="#303030" stroke-width="1.96" fill="none" stroke-linecap="round"/>
<path d="M121.2,166.9 L123.7,171.2 L119.2,168.6 Z" fill="#303030"/>
<path d="M116.5,172.1 C120.0,175.8 120.7,180.9 124.4,181.6" stroke="#303030" stroke-width="1.34" fill="none" stroke-linecap="round"/>
<path d="M117.2,170.6 L119.3,175.2 L115.1,172.9 Z" fill="#303030"/>
<path d="M121.2,177.6 L124.5,178.1" stroke="#303030" stroke-width="1.44" fill="none" stroke-linecap="round"/>
<path d="M111.7,179.6 C117.1,179.4 119.5,183.3 122.1,184.9" stroke="#303030" stroke-width="1.83" fill="none" stroke-linecap="round"/>
<path d="M111.7,178.4 L115.1,181.3 L110.8,180.5 Z" fill="#303030"/>
<path d="M109.3,188.2 C115.1,188.0 119.5,191.3 123.6,188.9" stroke="#303030" stroke-width="1.97" fill="none" stroke-linecap="round"/>
<path d="M109.0,186.4 L113.2,188.5 L108.7,190.0 Z" fill="#303030"/>
<path d="M109.0,193.3 C113.9,194.8 117.7,195.8 120.8,196.2" stroke="#303030" stroke-width="1.40" fill="none" stroke-linecap="round"/>
<path d="M108.6,191.9 L112.0,193.8 L108.4,194.6 Z" fill="#303030"/>
<path d="M108.0,201.6 C113.8,200.2 118.1,202.2 121.9,201.4" stroke="#303030" stroke-width="1.57" fill="none" stroke-linecap="round"/>
<path d="M107.7,200.0 L111.1,201.7 L107.3,203.0 Z" fill="#303030"/>
<path d="M106.6,210.0 C111.4,211.0 115.3,209.6 118.3,210.8" stroke="#303030" stroke-width="1.77" fill="none" stroke-linecap="round"/>
<path d="M106.3,208.4 L109.8,210.3 L105.9,211.5 Z" fill="#303030"/>
<path d="M107.4,218.0 C113.6,216.0 118.5,212.3 123.4,213.1" stroke="#303030" stroke-width="1.37" fill="none" stroke-linecap="round"/>
<path d="M106.6,216.7 L110.7,217.0 L107.3,219.5 Z" fill="#303030"/>
<path d="M109.7,224.3 C115.1,222.6 119.7,221.5 123.4,220.4" stroke="#303030" stroke-width="2.06" fill="none" stroke-linecap="round"/>
<path d="M108.8,223.5 L113.2,223.1 L109.7,225.5 Z" fill="#303030"/>
<path d="M193.5,230.4 C194.0,223.6 189.7,218.9 190.5,214.0" stroke="#303030" stroke-width="1.40" fill="none" stroke-linecap="round"/>
<path d="M192.4,231.2 L192.7,226.4 L194.7,230.6 Z" fill="#303030"/>
<path d="M192.8,221.9 L188.8,219.7" stroke="#303030" stroke-width="1.44" fill="none" stroke-linecap="round"/>
<path d="M200.9,226.5 C196.5,219.9 189.7,218.4 187.2,212.7" stroke="#303030" stroke-width="1.99" fill="none" stroke-linecap="round"/>
<path d="M200.6,227.8 L198.1,224.1 L202.0,225.8 Z" fill="#303030"/>
<path d="M203.3,220.4 C196.1,220.5 190.7,216.1 185.2,217.3" stroke="#303030" stroke-width="2.07" fill="none" stroke-linecap="round"/>
<path d="M203.5,222.0 L199.1,219.6 L204.2,219.1 Z" fill="#303030"/>
<path d="M204.3,212.7 C198.9,211.7 194.3,213.4 190.7,212.0" stroke="#303030" stroke-width="1.77" fill="none" stroke-linecap="round"/>
<path d="M204.8,214.5 L200.7,212.6 L204.9,210.9 Z" fill="#303030"/>
<path d="M204.3,205.2 C199.0,206.4 194.7,206.9 191.3,206.7" stroke="#303030" stroke-width="1.50" fill="none" stroke-linecap="round"/>
<path d="M204.8,206.9 L200.4,205.5 L204.8,203.5 Z" fill="#303030"/>
<path d="M203.9,197.5 C197.1,199.8 190.6,198.5 185.5,198.3" stroke="#303030" stroke-width="1.65" fill="none" stroke-linecap="round"/>
<path d="M204.5,198.5 L200.3,197.8 L204.3,196.5 Z" fill="#303030"/>
<path d="M202.6,191.4 C196.9,193.1 192.3,195.1 188.0,194.7" stroke="#303030" stroke-width="1.87" fill="none" stroke-linecap="round"/>
<path d="M203.4,192.4 L198.6,192.4 L202.7,190.1 Z" fill="#303030"/>
<path d="M192.5,193.9 L187.3,190.4" stroke="#303030" stroke-width="1.44" fill="none" stroke-linecap="round"/>
<path d="M199.9,183.8 C194.4,183.9 192.1,189.4 188.1,188.4" stroke="#303030" stroke-width="1.31" fill="none" stroke-linecap="round"/>
<path d="M200.9,184.9 L196.3,185.2 L199.8,182.2 Z" fill="#303030"/>
<path d="M193.6,185.2 L190.9,189.8" stroke="#303030" stroke-width="1.44" fill="none" stroke-linecap="round"/>
<path d="M197.3,178.1 C193.0,179.9 189.8,181.5 187.2,182.9" stroke="#303030" stroke-width="1.63" fill="none" stroke-linecap="round"/>
<path d="M198.4,179.0 L194.5,179.5 L197.2,176.8 Z" fill="#303030"/>
<path d="M191.7,180.6 L188.2,179.8" stroke="#303030" stroke-width="1.44" fill="none" stroke-linecap="round"/>
<path d="M193.1,171.7 C189.8,175.1 185.5,175.3 184.3,178.5" stroke="#303030" stroke-width="1.55" fill="none" stroke-linecap="round"/>
<path d="M194.4,172.5 L189.6,174.4 L192.7,170.2 Z" fill="#303030"/>
<path d="M187.9,165.9 C185.6,172.5 180.3,175.2 177.5,178.7" stroke="#303030" stroke-width="1.87" fill="none" stroke-linecap="round"/>
<path d="M189.1,166.4 L185.3,169.0 L187.4,164.7 Z" fill="#303030"/>
<path d="M183.3,161.9 C180.7,167.8 177.4,172.0 174.1,174.8" stroke="#303030" stroke-width="1.56" fill="none" stroke-linecap="round"/>
<path d="M184.4,162.2 L181.1,164.8 L182.8,160.9 Z" fill="#303030"/>
<path d="M177.6,170.9 L178.6,175.0" stroke="#303030" stroke-width="1.44" fill="none" stroke-linecap="round"/>
<path d="M178.4,158.3 C175.6,163.6 172.9,167.7 169.6,170.3" stroke="#303030" stroke-width="1.39" fill="none" stroke-linecap="round"/>
<path d="M180.1,158.9 L176.5,160.9 L177.3,156.9 Z" fill="#303030"/>
<path d="M172.9,155.2 C173.3,161.1 171.3,165.0 168.4,167.6" stroke="#303030" stroke-width="1.63" fill="none" stroke-linecap="round"/>
<path d="M174.7,155.3 L171.3,159.3 L171.5,154.0 Z" fill="#303030"/>
<path d="M171.5,162.5 L166.5,165.7" stroke="#303030" stroke-width="1.44" fill="none" stroke-linecap="round"/>
<path d="M109.6,225.1 C112.1,222.4 115.6,225.8 116.2,222.9" stroke="#303030" stroke-width="1.98" fill="none" stroke-linecap="round"/>
<path d="M108.6,223.9 L113.7,223.7 L109.8,226.8 Z" fill="#303030"/>
<path d="M113.7,230.0 C114.8,226.2 116.3,223.9 118.6,222.8" stroke="#303030" stroke-width="1.97" fill="none" stroke-linecap="round"/>
<path d="M112.0,229.6 L116.0,226.5 L114.9,231.3 Z" fill="#303030"/>
<path d="M116.1,225.4 L119.0,224.6" stroke="#303030" stroke-width="1.44" fill="none" stroke-linecap="round"/>
<path d="M118.7,232.0 C119.9,227.9 122.3,225.2 120.6,222.2" stroke="#303030" stroke-width="1.60" fill="none" stroke-linecap="round"/>
<path d="M117.0,232.1 L119.6,227.6 L120.2,232.9 Z" fill="#303030"/>
<path d="M127.7,232.4 C125.4,229.4 128.8,226.9 126.1,225.6" stroke="#303030" stroke-width="1.86" fill="none" stroke-linecap="round"/>
<path d="M126.5,233.0 L126.9,228.7 L129.0,232.7 Z" fill="#303030"/>
<path d="M132.8,231.5 C131.5,228.2 132.5,225.8 130.0,224.5" stroke="#303030" stroke-width="1.60" fill="none" stroke-linecap="round"/>
<path d="M131.5,232.3 L131.7,228.4 L134.3,231.7 Z" fill="#303030"/>
<path d="M139.2,229.0 C138.7,225.0 135.1,224.2 134.8,222.1" stroke="#303030" stroke-width="1.55" fill="none" stroke-linecap="round"/>
<path d="M138.2,230.0 L137.6,226.3 L140.6,228.7 Z" fill="#303030"/>
<path d="M168.4,225.8 C172.2,223.1 176.8,224.0 178.9,221.9" stroke="#303030" stroke-width="1.81" fill="none" stroke-linecap="round"/>
<path d="M167.4,225.1 L171.2,224.6 L168.5,227.0 Z" fill="#303030"/>
<path d="M174.0,223.1 L177.9,224.6" stroke="#303030" stroke-width="1.44" fill="none" stroke-linecap="round"/>
<path d="M175.2,231.4 C179.1,227.5 175.6,222.2 178.6,219.9" stroke="#303030" stroke-width="1.98" fill="none" stroke-linecap="round"/>
<path d="M174.0,231.5 L176.4,227.5 L176.1,232.2 Z" fill="#303030"/>
<path d="M183.7,232.4 C185.3,228.6 183.8,226.3 182.9,224.4" stroke="#303030" stroke-width="1.35" fill="none" stroke-linecap="round"/>
<path d="M182.1,233.1 L183.4,228.7 L185.5,232.7 Z" fill="#303030"/>
<path d="M189.3,231.4 C190.8,226.3 185.9,223.7 188.1,220.2" stroke="#303030" stroke-width="1.32" fill="none" stroke-linecap="round"/>
<path d="M187.8,232.2 L188.8,227.9 L191.0,231.6 Z" fill="#303030"/>
</g>
</g>
<path d="M153.3,153.0 L153.7,152.3 L154.4,151.9 L155.3,151.8 L156.2,151.9 L156.9,152.3 L157.3,153.0 L157.4,154.1 L157.3,155.6 L157.0,157.4 L156.7,159.3 L156.4,161.2 L156.2,163.0 L156.1,164.7 L156.0,166.3 L155.9,168.0 L155.8,169.7 L155.8,171.3 L155.7,173.0 L155.7,174.8 L155.6,176.7 L155.6,178.6 L155.6,180.4 L155.5,181.9 L155.5,183.0 L155.4,183.7 L155.4,184.1 L155.3,184.2 L155.2,184.1 L155.2,183.7 L155.1,183.0 L155.1,181.9 L155.0,180.4 L155.0,178.6 L155.0,176.7 L154.9,174.8 L154.9,173.0 L154.8,171.3 L154.8,169.7 L154.7,168.0 L154.6,166.3 L154.5,164.7 L154.4,163.0 L154.2,161.2 L153.9,159.3 L153.6,157.4 L153.3,155.6 L153.2,154.1 Z" fill="#080808"/>
<path d="M140.0,187.5 L140.7,187.2 L141.8,186.8 L143.0,186.3 L144.3,185.8 L145.7,185.3 L147.0,185.0 L148.3,184.8 L149.7,184.6 L151.1,184.4 L152.5,184.4 L153.9,184.3 L155.3,184.3 L156.7,184.3 L158.1,184.4 L159.5,184.5 L160.9,184.6 L162.2,184.8 L163.5,185.0 L164.8,185.3 L166.0,185.8 L167.3,186.3 L168.4,186.8 L169.3,187.2 L170.0,187.5" stroke="#ececec" stroke-width="2.4" fill="none" stroke-linecap="round" />
<path d="M141.2,189.6 L141.5,189.2 L142.0,188.8 L142.7,188.6 L143.4,188.4 L144.2,188.2 L145.0,188.1 L145.8,188.0 L146.8,188.0 L147.8,188.1 L148.8,188.2 L149.7,188.4 L150.5,188.6 L151.2,188.9 L151.8,189.3 L152.3,189.7 L152.8,190.2 L153.3,190.7 L153.6,191.2 L153.9,191.8 L154.1,192.4 L154.2,193.1 L154.3,193.8 L154.3,194.4 L154.3,195.0 L154.2,195.6 L154.1,196.1 L154.0,196.7 L153.8,197.1 L153.5,197.4 L153.2,197.6 L152.9,197.5 L152.5,197.2 L152.0,196.8 L151.6,196.4 L151.0,195.9 L150.5,195.6 L149.9,195.3 L149.3,195.1 L148.6,194.9 L147.9,194.7 L147.2,194.5 L146.5,194.3 L145.8,194.2 L145.1,194.1 L144.3,194.1 L143.6,194.1 L143.0,193.9 L142.5,193.6 L142.1,193.1 L141.7,192.4 L141.4,191.7 L141.2,190.9 L141.1,190.2 Z" fill="#060606"/>
<path d="M169.4,189.6 L169.1,189.2 L168.6,188.8 L167.9,188.6 L167.2,188.4 L166.4,188.2 L165.6,188.1 L164.8,188.0 L163.8,188.0 L162.8,188.1 L161.8,188.2 L160.9,188.4 L160.1,188.6 L159.4,188.9 L158.8,189.3 L158.2,189.7 L157.8,190.2 L157.3,190.7 L157.0,191.2 L156.7,191.8 L156.5,192.4 L156.4,193.1 L156.3,193.8 L156.3,194.4 L156.3,195.0 L156.4,195.6 L156.5,196.1 L156.6,196.7 L156.8,197.1 L157.1,197.4 L157.4,197.6 L157.7,197.5 L158.1,197.2 L158.6,196.8 L159.0,196.4 L159.6,195.9 L160.1,195.6 L160.7,195.3 L161.3,195.1 L162.0,194.9 L162.7,194.7 L163.4,194.5 L164.1,194.3 L164.8,194.2 L165.5,194.1 L166.3,194.1 L167.0,194.1 L167.6,193.9 L168.1,193.6 L168.5,193.1 L168.9,192.4 L169.2,191.7 L169.4,190.9 L169.5,190.2 Z" fill="#060606"/>
<path d="M155.3,196.0 L155.3,196.9 L155.3,198.1 L155.3,199.5 L155.3,201.0 L155.3,202.5 L155.3,204.0 L155.3,205.5 L155.3,207.1 L155.2,208.8 L155.2,210.3 L155.2,211.6 L155.2,212.5" stroke="#151515" stroke-width="1.8" fill="none" stroke-linecap="round" />
<path d="M144.0,215.0 L144.7,214.4 L145.7,214.0 L146.7,213.8 L147.9,213.7 L149.0,213.6 L150.0,213.5 L150.9,213.3 L151.8,213.2 L152.7,213.1 L153.5,213.1 L154.4,213.0 L155.3,213.0 L156.2,213.0 L157.2,213.0 L158.1,213.1 L159.1,213.2 L160.1,213.3 L161.0,213.5 L162.0,213.7 L163.0,213.8 L164.0,214.0 L165.0,214.3 L165.8,214.8 L166.5,215.5 L166.9,216.5 L167.2,217.9 L167.4,219.4 L167.4,221.0 L167.5,222.5 L167.5,224.0 L167.5,225.4 L167.5,226.7 L167.5,228.1 L167.4,229.4 L167.2,230.7 L167.0,232.0 L166.7,233.3 L166.4,234.6 L166.1,235.8 L165.6,237.0 L165.1,238.1 L164.5,239.0 L163.8,239.7 L163.0,240.3 L162.1,240.8 L161.1,241.2 L160.1,241.5 L159.0,241.8 L157.8,242.0 L156.4,242.1 L155.0,242.1 L153.5,242.1 L152.2,242.0 L151.0,241.8 L150.0,241.6 L149.0,241.4 L148.2,241.1 L147.4,240.7 L146.7,240.2 L146.0,239.5 L145.3,238.6 L144.7,237.4 L144.2,236.2 L143.7,234.8 L143.3,233.4 L143.0,232.0 L142.8,230.6 L142.7,229.1 L142.8,227.5 L142.8,226.0 L142.9,224.5 L143.0,223.0 L143.1,221.5 L143.1,220.0 L143.1,218.5 L143.3,217.1 L143.5,215.9 Z" fill="#cbcbcb"/>
<path d="M142.0,216.0 L142.0,216.9 L142.1,218.1 L142.1,219.5 L142.1,221.0 L142.2,222.6 L142.3,224.0 L142.4,225.4 L142.6,227.0 L142.8,228.5 L142.9,229.9 L143.1,231.1 L143.2,232.0" stroke="#080808" stroke-width="1.8" fill="none" stroke-linecap="round" />
<path d="M168.4,216.0 L168.4,216.9 L168.4,218.1 L168.4,219.5 L168.4,221.0 L168.4,222.6 L168.3,224.0 L168.2,225.4 L168.1,227.0 L167.9,228.5 L167.7,229.9 L167.6,231.1 L167.5,232.0" stroke="#080808" stroke-width="1.8" fill="none" stroke-linecap="round" />
<path d="M113.0,216.5 L113.4,216.8 L114.1,217.1 L114.8,217.6 L115.6,218.0 L116.3,218.5 L117.0,219.0 L117.6,219.5 L118.2,220.1 L118.8,220.7 L119.3,221.2 L119.7,221.7 L120.0,222.0" stroke="#1a1a1a" stroke-width="2.8" fill="none" stroke-linecap="round" />
<path d="M128.0,214.0 L128.6,213.8 L129.5,213.5 L130.6,213.2 L131.7,212.8 L132.9,212.6 L134.0,212.5 L135.2,212.6 L136.5,212.8 L137.9,213.2 L139.1,213.5 L140.2,213.8 L141.0,214.0" stroke="#2a2a2a" stroke-width="1.4" fill="none" stroke-linecap="round" />
<path d="M129.0,222.0 L129.7,222.4 L130.6,223.0 L131.6,223.7 L132.8,224.3 L133.9,224.8 L135.0,225.0 L136.1,224.8 L137.2,224.3 L138.4,223.7 L139.4,223.0 L140.3,222.4 L141.0,222.0" stroke="#2a2a2a" stroke-width="1.4" fill="none" stroke-linecap="round" />
<path d="M130.0,215.0 L130.7,214.5 L131.9,214.1 L133.2,213.9 L134.6,213.8 L135.9,213.8 L137.0,214.0 L137.9,214.4 L138.9,214.9 L139.7,215.6 L140.4,216.4 L140.8,217.2 L141.0,218.0 L140.8,218.9 L140.3,219.9 L139.6,220.9 L138.8,221.8 L137.9,222.6 L137.0,223.0 L136.1,223.1 L135.0,223.0 L133.8,222.7 L132.7,222.2 L131.7,221.6 L131.0,221.0 L130.5,220.2 L130.0,219.1 L129.7,217.9 L129.6,216.8 L129.6,215.8 Z" fill="#9e9e9e"/>
<path d="M110.0,203.0 L111.0,202.9 L112.3,202.6 L113.9,202.3 L115.7,202.1 L117.4,202.0 L119.0,202.0 L120.5,202.2 L122.0,202.5 L123.6,202.9 L125.1,203.4 L126.6,203.9 L128.0,204.5 L129.5,205.2 L131.0,206.0 L132.6,206.9 L134.0,207.8 L135.1,208.5 L136.0,209.0" stroke="#1a1a1a" stroke-width="1.5" fill="none" stroke-linecap="round" />
<path d="M201.0,203.0 L200.0,202.9 L198.7,202.6 L197.1,202.3 L195.4,202.1 L193.7,202.0 L192.0,202.0 L190.4,202.2 L188.7,202.5 L186.9,202.9 L185.2,203.4 L183.6,203.9 L182.0,204.5 L180.5,205.2 L178.9,206.0 L177.4,206.9 L176.0,207.8 L174.8,208.5 L174.0,209.0" stroke="#1a1a1a" stroke-width="1.5" fill="none" stroke-linecap="round" />
<path d="M181.0,212.0 L180.3,212.2 L179.4,212.4 L178.3,212.7 L177.1,213.0 L176.0,213.5 L175.0,214.0 L174.1,214.7 L173.1,215.6 L172.1,216.6 L171.3,217.6 L170.5,218.4 L170.0,219.0" stroke="#2a2a2a" stroke-width="1.4" fill="none" stroke-linecap="round" />
<path d="M170.0,214.0 L170.7,213.5 L171.9,213.1 L173.2,212.9 L174.6,212.8 L175.9,212.8 L177.0,213.0 L177.9,213.4 L178.9,213.9 L179.7,214.6 L180.4,215.4 L180.8,216.2 L181.0,217.0 L180.8,217.9 L180.3,218.9 L179.6,219.9 L178.8,220.8 L177.9,221.6 L177.0,222.0 L176.1,222.1 L175.0,222.0 L173.8,221.7 L172.7,221.2 L171.7,220.6 L171.0,220.0 L170.5,219.2 L170.0,218.1 L169.7,216.9 L169.6,215.8 L169.6,214.8 Z" fill="#9e9e9e"/>
<path d="M114.0,210.0 L114.9,209.9 L116.1,209.8 L117.5,209.7 L119.0,209.6 L120.6,209.5 L122.0,209.5 L123.4,209.5 L125.0,209.6 L126.5,209.7 L127.9,209.8 L129.1,209.9 L130.0,210.0" stroke="#e6e6e6" stroke-width="1.5" fill="none" stroke-linecap="round" />
<path d="M198.0,210.0 L197.1,209.9 L195.9,209.8 L194.5,209.7 L193.0,209.6 L191.4,209.5 L190.0,209.5 L188.6,209.5 L187.0,209.6 L185.5,209.7 L184.1,209.8 L182.9,209.9 L182.0,210.0" stroke="#e6e6e6" stroke-width="1.5" fill="none" stroke-linecap="round" />
</g>
<g filter="url(#bl)">
<ellipse cx="137" cy="166.8" rx="4.3" ry="5" transform="rotate(10 137 166.8)" fill="#ff9800"/>
<ellipse cx="134.5" cy="169.5" rx="2.5" ry="2.5" transform="rotate(0 134.5 169.5)" fill="#ff9800"/>
<ellipse cx="125.4" cy="171" rx="3.6" ry="3" transform="rotate(0 125.4 171)" fill="#ff9800"/>
<ellipse cx="118.4" cy="183.5" rx="4.6" ry="6.2" transform="rotate(0 118.4 183.5)" fill="#ff9800"/>
<ellipse cx="117" cy="189" rx="3" ry="2.6" transform="rotate(0 117 189)" fill="#ff9800"/>
<ellipse cx="127.3" cy="196" rx="5.8" ry="3.1" transform="rotate(12 127.3 196)" fill="#ff9800"/>
<ellipse cx="186.8" cy="194.4" rx="4.6" ry="2.0" transform="rotate(0 186.8 194.4)" fill="#ff9800"/>
<ellipse cx="137.6" cy="165.8" rx="2.2" ry="2.6" transform="rotate(0 137.6 165.8)" fill="#ffd800"/>
<ellipse cx="125.6" cy="170.8" rx="1.6" ry="1.3" transform="rotate(0 125.6 170.8)" fill="#ffd800"/>
<ellipse cx="118.8" cy="184" rx="2.4" ry="3.2" transform="rotate(0 118.8 184)" fill="#ffd800"/>
<ellipse cx="127.5" cy="195.8" rx="3.2" ry="1.5" transform="rotate(12 127.5 195.8)" fill="#ffd800"/>
<ellipse cx="186.8" cy="194.2" rx="2.6" ry="1.0" transform="rotate(0 186.8 194.2)" fill="#ffd800"/>
</g>
<circle cx="127.4" cy="197" r="7.5" fill="none" stroke="#0c0c0c" stroke-width="1.7"/>
<text x="129.4" y="187.8" font-family="Liberation Sans, sans-serif" font-weight="bold" font-size="8" fill="#111" stroke="#c8c8c8" stroke-width="1.0" stroke-linejoin="round" paint-order="stroke" stroke-opacity="0.85">pIns</text>
</g>
<g font-family="Liberation Sans, sans-serif">
<text transform="translate(5.90 12.70) scale(1 1)" font-size="13" text-anchor="start" fill="#2a2a2a">a<tspan dx="1.1" font-size="13.4">)</tspan></text>
<text transform="translate(431.20 12.90) scale(1 1)" font-size="13.6" text-anchor="start" fill="#2a2a2a">b<tspan dx="0.7">)</tspan></text>
<path d="M244.6 43.06 V226.96" stroke="#8c8c8c" stroke-width="1" fill="none"/>
<path d="M244.6 43.06 H247.2" stroke="#8c8c8c" stroke-width="0.8"/>
<text transform="translate(242.30 46.46) scale(0.85 1)" font-size="9.6" text-anchor="end" fill="#4a4a4a">3</text>
<path d="M244.6 61.45 H247.2" stroke="#8c8c8c" stroke-width="0.8"/>
<text transform="translate(242.30 64.85) scale(0.85 1)" font-size="9.6" text-anchor="end" fill="#4a4a4a">2.5</text>
<path d="M244.6 79.84 H247.2" stroke="#8c8c8c" stroke-width="0.8"/>
<text transform="translate(242.30 83.24) scale(0.85 1)" font-size="9.6" text-anchor="end" fill="#4a4a4a">2</text>
<path d="M244.6 98.23 H247.2" stroke="#8c8c8c" stroke-width="0.8"/>
<text transform="translate(242.30 101.63) scale(0.85 1)" font-size="9.6" text-anchor="end" fill="#4a4a4a">1.5</text>
<path d="M244.6 116.62 H247.2" stroke="#8c8c8c" stroke-width="0.8"/>
<text transform="translate(242.30 120.02) scale(0.85 1)" font-size="9.6" text-anchor="end" fill="#4a4a4a">1</text>
<path d="M244.6 135.01 H247.2" stroke="#8c8c8c" stroke-width="0.8"/>
<text transform="translate(242.30 138.41) scale(0.85 1)" font-size="9.6" text-anchor="end" fill="#4a4a4a">0.5</text>
<path d="M244.6 153.40 H247.2" stroke="#8c8c8c" stroke-width="0.8"/>
<text transform="translate(242.30 156.80) scale(0.85 1)" font-size="9.6" text-anchor="end" fill="#4a4a4a">0</text>
<path d="M244.6 171.79 H247.2" stroke="#8c8c8c" stroke-width="0.8"/>
<text transform="translate(242.30 175.19) scale(0.85 1)" font-size="9.6" text-anchor="end" fill="#4a4a4a">-0.5</text>
<path d="M244.6 190.18 H247.2" stroke="#8c8c8c" stroke-width="0.8"/>
<text transform="translate(242.30 193.58) scale(0.85 1)" font-size="9.6" text-anchor="end" fill="#4a4a4a">-1</text>
<path d="M244.6 208.57 H247.2" stroke="#8c8c8c" stroke-width="0.8"/>
<text transform="translate(242.30 211.97) scale(0.85 1)" font-size="9.6" text-anchor="end" fill="#4a4a4a">-1.5</text>
<path d="M244.6 226.96 H247.2" stroke="#8c8c8c" stroke-width="0.8"/>
<text transform="translate(242.30 230.36) scale(0.85 1)" font-size="9.6" text-anchor="end" fill="#4a4a4a">-2</text>
<text transform="translate(222.80 134.30) rotate(-90) scale(0.85 1)" font-size="9.6" text-anchor="middle" fill="#333">BOLD signal</text>
<text transform="translate(263.10 242.90) scale(0.85 1)" font-size="9.6" text-anchor="middle" fill="#333">MCC</text>
<text transform="translate(291.20 242.90) scale(0.85 1)" font-size="9.6" text-anchor="middle" fill="#333">Amy.</text>
<text transform="translate(318.30 242.90) scale(0.85 1)" font-size="9.6" text-anchor="middle" fill="#333">pIns</text>
<text transform="translate(352.10 242.90) scale(0.85 1)" font-size="9.6" text-anchor="middle" fill="#333">MCC</text>
<text transform="translate(378.80 242.90) scale(0.85 1)" font-size="9.6" text-anchor="middle" fill="#333">Amy.</text>
<text transform="translate(404.60 242.90) scale(0.85 1)" font-size="9.6" text-anchor="middle" fill="#333">pIns</text>
<text transform="translate(291.10 256.90) scale(0.85 1)" font-size="9.6" text-anchor="middle" fill="#333">SD &gt; NSD</text>
<text transform="translate(378.50 256.90) scale(0.85 1)" font-size="9.6" text-anchor="middle" fill="#333">MS &gt; LS</text>
<text x="264.4" y="50.2" font-size="8.6" fill="#333" text-anchor="middle">***</text>
<text x="292.1" y="50.2" font-size="8.6" fill="#333" text-anchor="middle">***</text>
<text x="319.8" y="50.2" font-size="8.6" fill="#333" text-anchor="middle">***</text>
<text transform="translate(353.40 47.80) scale(0.85 1)" font-size="9.6" text-anchor="middle" fill="#3a3a3a">n.s.</text>
<text transform="translate(379.70 47.80) scale(0.85 1)" font-size="9.6" text-anchor="middle" fill="#3a3a3a">n.s.</text>
<text transform="translate(405.90 47.80) scale(0.85 1)" font-size="9.6" text-anchor="middle" fill="#3a3a3a">n.s.</text>
<path d="M264.3 39.7 V32.9 H352.2 V39.7" stroke="#333" stroke-width="1" fill="none"/>
<path d="M291.2 26.2 V19.6 H378.3 V26.2" stroke="#333" stroke-width="1" fill="none"/>
<path d="M318.6 13.5 V6.6 H404.6 V13.5" stroke="#333" stroke-width="1" fill="none"/>
<text x="308.3" y="31.3" font-size="8.6" fill="#333" text-anchor="middle">*</text>
<text x="334.4" y="18.3" font-size="8.6" fill="#333" text-anchor="middle">*</text>
<text x="361.3" y="5.8" font-size="8.6" fill="#333" text-anchor="middle">***</text>
<circle cx="264.1" cy="82.1" r="2.25" fill="#3f67e3"/>
<circle cx="262.2" cy="96.9" r="2.25" fill="#3f67e3"/>
<circle cx="265.3" cy="98.4" r="2.25" fill="#3f67e3"/>
<circle cx="261.0" cy="104.9" r="2.25" fill="#3f67e3"/>
<circle cx="265.3" cy="106.2" r="2.25" fill="#3f67e3"/>
<circle cx="261.6" cy="108.0" r="2.25" fill="#3f67e3"/>
<circle cx="265.9" cy="108.8" r="2.25" fill="#3f67e3"/>
<circle cx="262.8" cy="112.9" r="2.25" fill="#3f67e3"/>
<circle cx="265.9" cy="118.9" r="2.25" fill="#3f67e3"/>
<circle cx="261.6" cy="119.7" r="2.25" fill="#3f67e3"/>
<circle cx="261.0" cy="126.5" r="2.25" fill="#3f67e3"/>
<circle cx="262.8" cy="128.4" r="2.25" fill="#3f67e3"/>
<circle cx="261.0" cy="132.7" r="2.25" fill="#3f67e3"/>
<circle cx="265.3" cy="134.0" r="2.25" fill="#3f67e3"/>
<circle cx="265.9" cy="136.0" r="2.25" fill="#3f67e3"/>
<circle cx="261.6" cy="137.0" r="2.25" fill="#3f67e3"/>
<circle cx="263.5" cy="139.5" r="2.25" fill="#3f67e3"/>
<circle cx="263.4" cy="143.6" r="2.25" fill="#3f67e3"/>
<circle cx="264.7" cy="150.4" r="2.25" fill="#3f67e3"/>
<circle cx="260.4" cy="151.0" r="2.25" fill="#3f67e3"/>
<circle cx="264.7" cy="154.7" r="2.25" fill="#3f67e3"/>
<circle cx="261.0" cy="157.8" r="2.25" fill="#3f67e3"/>
<circle cx="262.5" cy="166.7" r="2.25" fill="#3f67e3"/>
<circle cx="265.5" cy="166.7" r="2.25" fill="#3f67e3"/>
<circle cx="263.4" cy="192.7" r="2.25" fill="#3f67e3"/>
<circle cx="261.6" cy="198.4" r="2.25" fill="#3f67e3"/>
<circle cx="293.7" cy="76.7" r="2.25" fill="#3f67e3"/>
<circle cx="293.7" cy="85.8" r="2.25" fill="#3f67e3"/>
<circle cx="294.6" cy="100.6" r="2.25" fill="#3f67e3"/>
<circle cx="287.5" cy="108.9" r="2.25" fill="#3f67e3"/>
<circle cx="291.2" cy="109.1" r="2.25" fill="#3f67e3"/>
<circle cx="290.0" cy="113.6" r="2.25" fill="#3f67e3"/>
<circle cx="293.1" cy="116.6" r="2.25" fill="#3f67e3"/>
<circle cx="288.1" cy="117.3" r="2.25" fill="#3f67e3"/>
<circle cx="291.2" cy="121.0" r="2.25" fill="#3f67e3"/>
<circle cx="293.7" cy="124.0" r="2.25" fill="#3f67e3"/>
<circle cx="290.0" cy="126.5" r="2.25" fill="#3f67e3"/>
<circle cx="287.5" cy="129.0" r="2.25" fill="#3f67e3"/>
<circle cx="288.1" cy="130.9" r="2.25" fill="#3f67e3"/>
<circle cx="293.7" cy="135.8" r="2.25" fill="#3f67e3"/>
<circle cx="290.6" cy="137.6" r="2.25" fill="#3f67e3"/>
<circle cx="287.5" cy="139.5" r="2.25" fill="#3f67e3"/>
<circle cx="291.0" cy="140.0" r="2.25" fill="#3f67e3"/>
<circle cx="287.5" cy="144.2" r="2.25" fill="#3f67e3"/>
<circle cx="288.8" cy="146.6" r="2.25" fill="#3f67e3"/>
<circle cx="293.7" cy="148.5" r="2.25" fill="#3f67e3"/>
<circle cx="288.1" cy="150.4" r="2.25" fill="#3f67e3"/>
<circle cx="289.4" cy="152.8" r="2.25" fill="#3f67e3"/>
<circle cx="288.1" cy="158.4" r="2.25" fill="#3f67e3"/>
<circle cx="290.6" cy="160.9" r="2.25" fill="#3f67e3"/>
<circle cx="293.1" cy="163.7" r="2.25" fill="#3f67e3"/>
<circle cx="290.2" cy="210.6" r="2.25" fill="#3f67e3"/>
<circle cx="317.2" cy="56.0" r="2.25" fill="#3f67e3"/>
<circle cx="320.9" cy="58.9" r="2.25" fill="#3f67e3"/>
<circle cx="320.9" cy="61.8" r="2.25" fill="#3f67e3"/>
<circle cx="318.4" cy="65.3" r="2.25" fill="#3f67e3"/>
<circle cx="320.9" cy="90.4" r="2.25" fill="#3f67e3"/>
<circle cx="318.2" cy="97.4" r="2.25" fill="#3f67e3"/>
<circle cx="319.6" cy="105.5" r="2.25" fill="#3f67e3"/>
<circle cx="315.3" cy="113.6" r="2.25" fill="#3f67e3"/>
<circle cx="319.6" cy="114.8" r="2.25" fill="#3f67e3"/>
<circle cx="320.9" cy="117.3" r="2.25" fill="#3f67e3"/>
<circle cx="318.4" cy="119.7" r="2.25" fill="#3f67e3"/>
<circle cx="317.2" cy="126.5" r="2.25" fill="#3f67e3"/>
<circle cx="314.7" cy="128.4" r="2.25" fill="#3f67e3"/>
<circle cx="315.9" cy="131.5" r="2.25" fill="#3f67e3"/>
<circle cx="317.2" cy="134.6" r="2.25" fill="#3f67e3"/>
<circle cx="319.6" cy="137.0" r="2.25" fill="#3f67e3"/>
<circle cx="318.4" cy="138.8" r="2.25" fill="#3f67e3"/>
<circle cx="319.0" cy="141.1" r="2.25" fill="#3f67e3"/>
<circle cx="315.9" cy="144.8" r="2.25" fill="#3f67e3"/>
<circle cx="319.6" cy="145.2" r="2.25" fill="#3f67e3"/>
<circle cx="316.3" cy="147.9" r="2.25" fill="#3f67e3"/>
<circle cx="320.3" cy="150.4" r="2.25" fill="#3f67e3"/>
<circle cx="318.4" cy="162.7" r="2.25" fill="#3f67e3"/>
<circle cx="321.9" cy="164.9" r="2.25" fill="#3f67e3"/>
<circle cx="320.9" cy="171.0" r="2.25" fill="#3f67e3"/>
<circle cx="320.9" cy="174.2" r="2.25" fill="#3f67e3"/>
<circle cx="349.8" cy="94.1" r="2.25" fill="#9529cd"/>
<circle cx="350.1" cy="115.7" r="2.25" fill="#9529cd"/>
<circle cx="352.8" cy="115.7" r="2.25" fill="#9529cd"/>
<circle cx="354.4" cy="122.8" r="2.25" fill="#9529cd"/>
<circle cx="351.3" cy="127.5" r="2.25" fill="#9529cd"/>
<circle cx="355.2" cy="128.4" r="2.25" fill="#9529cd"/>
<circle cx="349.4" cy="129.2" r="2.25" fill="#9529cd"/>
<circle cx="352.5" cy="132.5" r="2.25" fill="#9529cd"/>
<circle cx="353.8" cy="134.9" r="2.25" fill="#9529cd"/>
<circle cx="349.9" cy="137.9" r="2.25" fill="#9529cd"/>
<circle cx="351.5" cy="139.0" r="2.25" fill="#9529cd"/>
<circle cx="352.5" cy="140.5" r="2.25" fill="#9529cd"/>
<circle cx="355.6" cy="142.0" r="2.25" fill="#9529cd"/>
<circle cx="352.5" cy="144.2" r="2.25" fill="#9529cd"/>
<circle cx="352.5" cy="147.9" r="2.25" fill="#9529cd"/>
<circle cx="353.1" cy="153.4" r="2.25" fill="#9529cd"/>
<circle cx="348.8" cy="156.5" r="2.25" fill="#9529cd"/>
<circle cx="349.8" cy="160.2" r="2.25" fill="#9529cd"/>
<circle cx="351.8" cy="161.6" r="2.25" fill="#9529cd"/>
<circle cx="349.4" cy="177.6" r="2.25" fill="#9529cd"/>
<circle cx="353.8" cy="180.5" r="2.25" fill="#9529cd"/>
<circle cx="348.8" cy="184.5" r="2.25" fill="#9529cd"/>
<circle cx="349.2" cy="216.0" r="2.25" fill="#9529cd"/>
<circle cx="378.2" cy="99.6" r="2.25" fill="#9529cd"/>
<circle cx="377.5" cy="109.5" r="2.25" fill="#9529cd"/>
<circle cx="376.6" cy="111.5" r="2.25" fill="#9529cd"/>
<circle cx="375.0" cy="116.6" r="2.25" fill="#9529cd"/>
<circle cx="376.6" cy="126.5" r="2.25" fill="#9529cd"/>
<circle cx="375.4" cy="133.9" r="2.25" fill="#9529cd"/>
<circle cx="381.6" cy="135.8" r="2.25" fill="#9529cd"/>
<circle cx="376.6" cy="138.5" r="2.25" fill="#9529cd"/>
<circle cx="380.3" cy="138.8" r="2.25" fill="#9529cd"/>
<circle cx="375.8" cy="143.6" r="2.25" fill="#9529cd"/>
<circle cx="377.9" cy="147.3" r="2.25" fill="#9529cd"/>
<circle cx="377.9" cy="151.3" r="2.25" fill="#9529cd"/>
<circle cx="380.3" cy="157.4" r="2.25" fill="#9529cd"/>
<circle cx="376.2" cy="162.3" r="2.25" fill="#9529cd"/>
<circle cx="380.9" cy="164.6" r="2.25" fill="#9529cd"/>
<circle cx="381.0" cy="170.5" r="2.25" fill="#9529cd"/>
<circle cx="375.8" cy="173.7" r="2.25" fill="#9529cd"/>
<circle cx="375.6" cy="182.3" r="2.25" fill="#9529cd"/>
<circle cx="379.1" cy="184.8" r="2.25" fill="#9529cd"/>
<circle cx="376.4" cy="187.6" r="2.25" fill="#9529cd"/>
<circle cx="381.8" cy="199.0" r="2.25" fill="#9529cd"/>
<circle cx="375.6" cy="201.7" r="2.25" fill="#9529cd"/>
<circle cx="405.6" cy="113.6" r="2.25" fill="#9529cd"/>
<circle cx="402.3" cy="115.7" r="2.25" fill="#9529cd"/>
<circle cx="401.9" cy="124.1" r="2.25" fill="#9529cd"/>
<circle cx="402.3" cy="127.1" r="2.25" fill="#9529cd"/>
<circle cx="403.8" cy="140.2" r="2.25" fill="#9529cd"/>
<circle cx="401.9" cy="142.9" r="2.25" fill="#9529cd"/>
<circle cx="403.8" cy="144.8" r="2.25" fill="#9529cd"/>
<circle cx="405.0" cy="153.4" r="2.25" fill="#9529cd"/>
<circle cx="407.5" cy="157.5" r="2.25" fill="#9529cd"/>
<circle cx="404.2" cy="163.3" r="2.25" fill="#9529cd"/>
<circle cx="407.5" cy="177.4" r="2.25" fill="#9529cd"/>
<circle cx="407.1" cy="179.0" r="2.25" fill="#9529cd"/>
<circle cx="401.7" cy="187.2" r="2.25" fill="#9529cd"/>
<circle cx="407.1" cy="188.2" r="2.25" fill="#9529cd"/>
<circle cx="402.6" cy="189.5" r="2.25" fill="#9529cd"/>
<circle cx="408.1" cy="196.1" r="2.25" fill="#9529cd"/>
<circle cx="404.2" cy="198.3" r="2.25" fill="#9529cd"/>
<circle cx="402.6" cy="199.9" r="2.25" fill="#9529cd"/>
<circle cx="405.0" cy="202.0" r="2.25" fill="#9529cd"/>
<circle cx="404.8" cy="210.1" r="2.25" fill="#9529cd"/>
<circle cx="403.9" cy="219.1" r="2.25" fill="#9529cd"/>
<path d="M245 153.4 H419.3" stroke="#1a1a1a" stroke-width="0.7" stroke-dasharray="1.9 0.95"/>
<path d="M255 130.6 H271.5" stroke="#000" stroke-width="1.8"/>
<path d="M283 133 H298.9" stroke="#000" stroke-width="1.8"/>
<path d="M310.4 124.7 H326.8" stroke="#000" stroke-width="1.8"/>
<path d="M344.1 146.9 H360.3" stroke="#000" stroke-width="1.8"/>
<path d="M370.2 150.1 H386.9" stroke="#000" stroke-width="1.8"/>
<path d="M396.6 164.8 H412.7" stroke="#000" stroke-width="1.8"/>
<path d="M473.4 47.30 V219.50" stroke="#8c8c8c" stroke-width="1" fill="none"/>
<path d="M473.4 47.30 H475.8" stroke="#8c8c8c" stroke-width="0.8"/>
<text transform="translate(472.00 50.30) scale(0.85 1)" font-size="9.6" text-anchor="end" fill="#4a4a4a">100</text>
<path d="M473.4 76.00 H475.8" stroke="#8c8c8c" stroke-width="0.8"/>
<text transform="translate(472.00 79.00) scale(0.85 1)" font-size="9.6" text-anchor="end" fill="#4a4a4a">90</text>
<path d="M473.4 104.70 H475.8" stroke="#8c8c8c" stroke-width="0.8"/>
<text transform="translate(472.00 107.70) scale(0.85 1)" font-size="9.6" text-anchor="end" fill="#4a4a4a">80</text>
<path d="M473.4 133.40 H475.8" stroke="#8c8c8c" stroke-width="0.8"/>
<text transform="translate(472.00 136.40) scale(0.85 1)" font-size="9.6" text-anchor="end" fill="#4a4a4a">70</text>
<path d="M473.4 162.10 H475.8" stroke="#8c8c8c" stroke-width="0.8"/>
<text transform="translate(472.00 165.10) scale(0.85 1)" font-size="9.6" text-anchor="end" fill="#4a4a4a">60</text>
<path d="M473.4 190.80 H475.8" stroke="#8c8c8c" stroke-width="0.8"/>
<text transform="translate(472.00 193.80) scale(0.85 1)" font-size="9.6" text-anchor="end" fill="#4a4a4a">50</text>
<path d="M473.4 219.50 H475.8" stroke="#8c8c8c" stroke-width="0.8"/>
<text transform="translate(472.00 222.50) scale(0.85 1)" font-size="9.6" text-anchor="end" fill="#4a4a4a">40</text>
<text transform="translate(453.60 133.50) rotate(-90) scale(0.85 1)" font-size="9.6" text-anchor="middle" fill="#333">heart rate (BPM)</text>
<text transform="translate(486.90 233.80) scale(0.85 1)" font-size="9.6" text-anchor="middle" fill="#333">rest</text>
<text transform="translate(511.60 233.80) scale(0.85 1)" font-size="9.6" text-anchor="middle" fill="#333">task</text>
<text transform="translate(539.30 233.80) scale(0.85 1)" font-size="9.6" text-anchor="middle" fill="#333">rest</text>
<text transform="translate(563.30 233.80) scale(0.85 1)" font-size="9.6" text-anchor="middle" fill="#333">task</text>
<text transform="translate(597.60 233.80) scale(0.85 1)" font-size="9.6" text-anchor="middle" fill="#333">rest</text>
<text transform="translate(628.00 233.80) scale(0.85 1)" font-size="9.6" text-anchor="middle" fill="#333">task</text>
<text transform="translate(653.70 233.80) scale(0.85 1)" font-size="9.6" text-anchor="middle" fill="#333">rest</text>
<text transform="translate(677.00 233.80) scale(0.85 1)" font-size="9.6" text-anchor="middle" fill="#333">task</text>
<text transform="translate(502.20 244.60) scale(0.85 1)" font-size="9.6" text-anchor="middle" fill="#333">LS</text>
<text transform="translate(553.90 244.60) scale(0.85 1)" font-size="9.6" text-anchor="middle" fill="#333">MS</text>
<text transform="translate(614.50 244.60) scale(0.85 1)" font-size="9.6" text-anchor="middle" fill="#333">NSD</text>
<text transform="translate(665.40 244.60) scale(0.85 1)" font-size="9.6" text-anchor="middle" fill="#333">SD</text>
<text transform="translate(530.10 257.20) scale(1 1)" font-size="8.25" text-anchor="middle" fill="#2a2a2a" font-weight="bold">dexdor sedation</text>
<text transform="translate(642.70 256.60) scale(1 1)" font-size="8.25" text-anchor="middle" fill="#2a2a2a" font-weight="bold">sleep deprivation</text>
<path d="M552.6 45.2 V38.3 H664.8 V45.2" stroke="#2a2a2a" stroke-width="1.1" fill="none"/>
<path d="M543 45.2 H562 M655.1 45.2 H674.2" stroke="#2a2a2a" stroke-width="1.1" fill="none"/>
<text x="608.8" y="38" font-size="8.6" fill="#333" text-anchor="middle">**</text>
<text transform="translate(554.00 52.10) scale(0.85 1)" font-size="9.6" text-anchor="middle" fill="#3a3a3a">n.s.</text>
<text x="665.1" y="54.5" font-size="8.6" fill="#333" text-anchor="middle">***</text>
<circle cx="485.5" cy="118.0" r="2.25" fill="#79b32b"/>
<circle cx="484.7" cy="122.1" r="2.25" fill="#79b32b"/>
<circle cx="489.9" cy="124.2" r="2.25" fill="#79b32b"/>
<circle cx="489.0" cy="132.0" r="2.25" fill="#79b32b"/>
<circle cx="483.9" cy="138.1" r="2.25" fill="#79b32b"/>
<circle cx="489.3" cy="139.7" r="2.25" fill="#79b32b"/>
<circle cx="488.0" cy="141.8" r="2.25" fill="#79b32b"/>
<circle cx="489.9" cy="146.7" r="2.25" fill="#79b32b"/>
<circle cx="489.9" cy="149.9" r="2.25" fill="#79b32b"/>
<circle cx="488.0" cy="153.3" r="2.25" fill="#79b32b"/>
<circle cx="490.5" cy="156.3" r="2.25" fill="#79b32b"/>
<circle cx="487.4" cy="159.2" r="2.25" fill="#79b32b"/>
<circle cx="484.6" cy="160.5" r="2.25" fill="#79b32b"/>
<circle cx="489.9" cy="163.1" r="2.25" fill="#79b32b"/>
<circle cx="484.3" cy="167.4" r="2.25" fill="#79b32b"/>
<circle cx="486.8" cy="169.7" r="2.25" fill="#79b32b"/>
<circle cx="488.6" cy="170.5" r="2.25" fill="#79b32b"/>
<circle cx="487.4" cy="171.8" r="2.25" fill="#79b32b"/>
<circle cx="489.9" cy="174.9" r="2.25" fill="#79b32b"/>
<circle cx="484.9" cy="187.0" r="2.25" fill="#79b32b"/>
<circle cx="487.0" cy="190.7" r="2.25" fill="#79b32b"/>
<circle cx="488.9" cy="198.7" r="2.25" fill="#79b32b"/>
<circle cx="489.9" cy="199.9" r="2.25" fill="#79b32b"/>
<circle cx="489.9" cy="213.6" r="2.25" fill="#79b32b"/>
<circle cx="508.7" cy="106.0" r="2.25" fill="#3f67e3"/>
<circle cx="511.0" cy="121.7" r="2.25" fill="#3f67e3"/>
<circle cx="508.5" cy="123.9" r="2.25" fill="#3f67e3"/>
<circle cx="512.8" cy="126.1" r="2.25" fill="#3f67e3"/>
<circle cx="513.5" cy="130.4" r="2.25" fill="#3f67e3"/>
<circle cx="511.5" cy="132.0" r="2.25" fill="#3f67e3"/>
<circle cx="511.6" cy="138.9" r="2.25" fill="#3f67e3"/>
<circle cx="513.5" cy="142.4" r="2.25" fill="#3f67e3"/>
<circle cx="508.5" cy="143.0" r="2.25" fill="#3f67e3"/>
<circle cx="509.7" cy="146.7" r="2.25" fill="#3f67e3"/>
<circle cx="513.5" cy="152.1" r="2.25" fill="#3f67e3"/>
<circle cx="511.0" cy="156.7" r="2.25" fill="#3f67e3"/>
<circle cx="509.7" cy="166.8" r="2.25" fill="#3f67e3"/>
<circle cx="513.5" cy="168.7" r="2.25" fill="#3f67e3"/>
<circle cx="513.5" cy="172.4" r="2.25" fill="#3f67e3"/>
<circle cx="512.8" cy="178.0" r="2.25" fill="#3f67e3"/>
<circle cx="512.8" cy="195.0" r="2.25" fill="#3f67e3"/>
<circle cx="514.5" cy="196.0" r="2.25" fill="#3f67e3"/>
<circle cx="508.5" cy="200.5" r="2.25" fill="#3f67e3"/>
<circle cx="512.8" cy="202.0" r="2.25" fill="#3f67e3"/>
<circle cx="510.4" cy="205.8" r="2.25" fill="#3f67e3"/>
<circle cx="540.5" cy="109.3" r="1.8" fill="none" stroke="#79b32b" stroke-width="1.0"/>
<circle cx="537.9" cy="127.5" r="1.8" fill="none" stroke="#79b32b" stroke-width="1.0"/>
<circle cx="542.0" cy="137.7" r="1.8" fill="none" stroke="#79b32b" stroke-width="1.0"/>
<circle cx="541.7" cy="143.9" r="1.8" fill="none" stroke="#79b32b" stroke-width="1.0"/>
<circle cx="538.3" cy="153.8" r="1.8" fill="none" stroke="#79b32b" stroke-width="1.0"/>
<circle cx="537.7" cy="157.0" r="1.8" fill="none" stroke="#79b32b" stroke-width="1.0"/>
<circle cx="541.7" cy="157.0" r="1.8" fill="none" stroke="#79b32b" stroke-width="1.0"/>
<circle cx="537.8" cy="160.8" r="1.8" fill="none" stroke="#79b32b" stroke-width="1.0"/>
<circle cx="537.0" cy="163.7" r="1.8" fill="none" stroke="#79b32b" stroke-width="1.0"/>
<circle cx="537.7" cy="172.4" r="1.8" fill="none" stroke="#79b32b" stroke-width="1.0"/>
<circle cx="540.8" cy="172.4" r="1.8" fill="none" stroke="#79b32b" stroke-width="1.0"/>
<circle cx="537.0" cy="174.9" r="1.8" fill="none" stroke="#79b32b" stroke-width="1.0"/>
<circle cx="542.6" cy="175.5" r="1.8" fill="none" stroke="#79b32b" stroke-width="1.0"/>
<circle cx="540.8" cy="181.1" r="1.8" fill="none" stroke="#79b32b" stroke-width="1.0"/>
<circle cx="536.4" cy="182.3" r="1.8" fill="none" stroke="#79b32b" stroke-width="1.0"/>
<circle cx="537.0" cy="183.3" r="1.8" fill="none" stroke="#79b32b" stroke-width="1.0"/>
<circle cx="539.3" cy="196.8" r="1.8" fill="none" stroke="#79b32b" stroke-width="1.0"/>
<circle cx="539.5" cy="201.2" r="1.8" fill="none" stroke="#79b32b" stroke-width="1.0"/>
<circle cx="537.7" cy="202.4" r="1.8" fill="none" stroke="#79b32b" stroke-width="1.0"/>
<circle cx="540.5" cy="204.6" r="1.8" fill="none" stroke="#79b32b" stroke-width="1.0"/>
<circle cx="542.0" cy="207.6" r="1.8" fill="none" stroke="#79b32b" stroke-width="1.0"/>
<circle cx="561.5" cy="111.8" r="1.8" fill="none" stroke="#3f67e3" stroke-width="1.0"/>
<circle cx="563.6" cy="131.1" r="1.8" fill="none" stroke="#3f67e3" stroke-width="1.0"/>
<circle cx="562.7" cy="135.2" r="1.8" fill="none" stroke="#3f67e3" stroke-width="1.0"/>
<circle cx="564.9" cy="138.1" r="1.8" fill="none" stroke="#3f67e3" stroke-width="1.0"/>
<circle cx="563.6" cy="138.7" r="1.8" fill="none" stroke="#3f67e3" stroke-width="1.0"/>
<circle cx="565.5" cy="142.4" r="1.8" fill="none" stroke="#3f67e3" stroke-width="1.0"/>
<circle cx="562.0" cy="143.7" r="1.8" fill="none" stroke="#3f67e3" stroke-width="1.0"/>
<circle cx="560.9" cy="150.1" r="1.8" fill="none" stroke="#3f67e3" stroke-width="1.0"/>
<circle cx="565.9" cy="154.9" r="1.8" fill="none" stroke="#3f67e3" stroke-width="1.0"/>
<circle cx="565.9" cy="165.7" r="1.8" fill="none" stroke="#3f67e3" stroke-width="1.0"/>
<circle cx="561.8" cy="169.7" r="1.8" fill="none" stroke="#3f67e3" stroke-width="1.0"/>
<circle cx="560.5" cy="173.9" r="1.8" fill="none" stroke="#3f67e3" stroke-width="1.0"/>
<circle cx="562.4" cy="176.8" r="1.8" fill="none" stroke="#3f67e3" stroke-width="1.0"/>
<circle cx="559.9" cy="179.3" r="1.8" fill="none" stroke="#3f67e3" stroke-width="1.0"/>
<circle cx="563.6" cy="180.5" r="1.8" fill="none" stroke="#3f67e3" stroke-width="1.0"/>
<circle cx="561.8" cy="181.7" r="1.8" fill="none" stroke="#3f67e3" stroke-width="1.0"/>
<circle cx="563.6" cy="183.9" r="1.8" fill="none" stroke="#3f67e3" stroke-width="1.0"/>
<circle cx="559.9" cy="184.6" r="1.8" fill="none" stroke="#3f67e3" stroke-width="1.0"/>
<circle cx="562.4" cy="189.2" r="1.8" fill="none" stroke="#3f67e3" stroke-width="1.0"/>
<circle cx="561.8" cy="200.6" r="1.8" fill="none" stroke="#3f67e3" stroke-width="1.0"/>
<circle cx="564.3" cy="201.5" r="1.8" fill="none" stroke="#3f67e3" stroke-width="1.0"/>
<circle cx="560.9" cy="203.4" r="1.8" fill="none" stroke="#3f67e3" stroke-width="1.0"/>
<circle cx="564.9" cy="203.9" r="1.8" fill="none" stroke="#3f67e3" stroke-width="1.0"/>
<circle cx="565.1" cy="205.9" r="1.8" fill="none" stroke="#3f67e3" stroke-width="1.0"/>
<circle cx="563.4" cy="208.9" r="1.8" fill="none" stroke="#3f67e3" stroke-width="1.0"/>
<circle cx="601.1" cy="87.7" r="2.25" fill="#79b32b"/>
<circle cx="593.8" cy="115.9" r="2.25" fill="#79b32b"/>
<circle cx="592.2" cy="118.4" r="2.25" fill="#79b32b"/>
<circle cx="595.9" cy="120.9" r="2.25" fill="#79b32b"/>
<circle cx="599.0" cy="122.1" r="2.25" fill="#79b32b"/>
<circle cx="602.1" cy="124.6" r="2.25" fill="#79b32b"/>
<circle cx="594.7" cy="127.3" r="2.25" fill="#79b32b"/>
<circle cx="597.8" cy="128.0" r="2.25" fill="#79b32b"/>
<circle cx="599.6" cy="127.1" r="2.25" fill="#79b32b"/>
<circle cx="596.5" cy="130.4" r="2.25" fill="#79b32b"/>
<circle cx="592.8" cy="135.8" r="2.25" fill="#79b32b"/>
<circle cx="603.3" cy="135.0" r="2.25" fill="#79b32b"/>
<circle cx="601.5" cy="140.6" r="2.25" fill="#79b32b"/>
<circle cx="600.2" cy="148.0" r="2.25" fill="#79b32b"/>
<circle cx="594.0" cy="149.9" r="2.25" fill="#79b32b"/>
<circle cx="603.1" cy="151.7" r="2.25" fill="#79b32b"/>
<circle cx="597.1" cy="153.0" r="2.25" fill="#79b32b"/>
<circle cx="600.9" cy="161.3" r="2.25" fill="#79b32b"/>
<circle cx="595.3" cy="161.7" r="2.25" fill="#79b32b"/>
<circle cx="592.8" cy="164.9" r="2.25" fill="#79b32b"/>
<circle cx="598.1" cy="168.7" r="2.25" fill="#79b32b"/>
<circle cx="593.4" cy="173.9" r="2.25" fill="#79b32b"/>
<circle cx="601.9" cy="175.5" r="2.25" fill="#79b32b"/>
<circle cx="594.0" cy="178.4" r="2.25" fill="#79b32b"/>
<circle cx="602.7" cy="179.6" r="2.25" fill="#79b32b"/>
<circle cx="598.1" cy="201.8" r="2.25" fill="#79b32b"/>
<circle cx="627.9" cy="53.9" r="2.25" fill="#3f67e3"/>
<circle cx="631.3" cy="98.3" r="2.25" fill="#3f67e3"/>
<circle cx="626.9" cy="104.8" r="2.25" fill="#3f67e3"/>
<circle cx="623.8" cy="112.7" r="2.25" fill="#3f67e3"/>
<circle cx="627.2" cy="112.2" r="2.25" fill="#3f67e3"/>
<circle cx="623.2" cy="120.5" r="2.25" fill="#3f67e3"/>
<circle cx="626.3" cy="119.9" r="2.25" fill="#3f67e3"/>
<circle cx="625.1" cy="126.7" r="2.25" fill="#3f67e3"/>
<circle cx="628.2" cy="125.5" r="2.25" fill="#3f67e3"/>
<circle cx="631.9" cy="128.0" r="2.25" fill="#3f67e3"/>
<circle cx="625.1" cy="130.4" r="2.25" fill="#3f67e3"/>
<circle cx="631.9" cy="131.1" r="2.25" fill="#3f67e3"/>
<circle cx="632.5" cy="132.9" r="2.25" fill="#3f67e3"/>
<circle cx="623.8" cy="143.1" r="2.25" fill="#3f67e3"/>
<circle cx="625.7" cy="143.7" r="2.25" fill="#3f67e3"/>
<circle cx="628.8" cy="144.3" r="2.25" fill="#3f67e3"/>
<circle cx="625.1" cy="146.8" r="2.25" fill="#3f67e3"/>
<circle cx="623.0" cy="150.5" r="2.25" fill="#3f67e3"/>
<circle cx="623.8" cy="158.6" r="2.25" fill="#3f67e3"/>
<circle cx="626.9" cy="158.6" r="2.25" fill="#3f67e3"/>
<circle cx="627.5" cy="164.2" r="2.25" fill="#3f67e3"/>
<circle cx="632.9" cy="171.9" r="2.25" fill="#3f67e3"/>
<circle cx="624.2" cy="181.1" r="2.25" fill="#3f67e3"/>
<circle cx="629.0" cy="187.7" r="2.25" fill="#3f67e3"/>
<circle cx="632.6" cy="201.2" r="2.25" fill="#3f67e3"/>
<circle cx="659.0" cy="65.0" r="1.8" fill="none" stroke="#79b32b" stroke-width="1.0"/>
<circle cx="655.6" cy="81.9" r="1.8" fill="none" stroke="#79b32b" stroke-width="1.0"/>
<circle cx="648.2" cy="98.8" r="1.8" fill="none" stroke="#79b32b" stroke-width="1.0"/>
<circle cx="651.0" cy="100.8" r="1.8" fill="none" stroke="#79b32b" stroke-width="1.0"/>
<circle cx="651.7" cy="116.5" r="1.8" fill="none" stroke="#79b32b" stroke-width="1.0"/>
<circle cx="654.1" cy="117.2" r="1.8" fill="none" stroke="#79b32b" stroke-width="1.0"/>
<circle cx="659.0" cy="116.3" r="1.8" fill="none" stroke="#79b32b" stroke-width="1.0"/>
<circle cx="652.2" cy="120.5" r="1.8" fill="none" stroke="#79b32b" stroke-width="1.0"/>
<circle cx="649.3" cy="125.3" r="1.8" fill="none" stroke="#79b32b" stroke-width="1.0"/>
<circle cx="655.6" cy="124.3" r="1.8" fill="none" stroke="#79b32b" stroke-width="1.0"/>
<circle cx="654.9" cy="129.1" r="1.8" fill="none" stroke="#79b32b" stroke-width="1.0"/>
<circle cx="658.5" cy="136.2" r="1.8" fill="none" stroke="#79b32b" stroke-width="1.0"/>
<circle cx="650.3" cy="140.7" r="1.8" fill="none" stroke="#79b32b" stroke-width="1.0"/>
<circle cx="648.8" cy="150.9" r="1.8" fill="none" stroke="#79b32b" stroke-width="1.0"/>
<circle cx="652.7" cy="152.4" r="1.8" fill="none" stroke="#79b32b" stroke-width="1.0"/>
<circle cx="656.8" cy="153.8" r="1.8" fill="none" stroke="#79b32b" stroke-width="1.0"/>
<circle cx="651.7" cy="157.0" r="1.8" fill="none" stroke="#79b32b" stroke-width="1.0"/>
<circle cx="650.1" cy="160.3" r="1.8" fill="none" stroke="#79b32b" stroke-width="1.0"/>
<circle cx="657.0" cy="164.3" r="1.8" fill="none" stroke="#79b32b" stroke-width="1.0"/>
<circle cx="650.0" cy="166.0" r="1.8" fill="none" stroke="#79b32b" stroke-width="1.0"/>
<circle cx="653.2" cy="165.6" r="1.8" fill="none" stroke="#79b32b" stroke-width="1.0"/>
<circle cx="657.5" cy="182.9" r="1.8" fill="none" stroke="#79b32b" stroke-width="1.0"/>
<circle cx="648.8" cy="188.8" r="1.8" fill="none" stroke="#79b32b" stroke-width="1.0"/>
<circle cx="652.8" cy="188.8" r="1.8" fill="none" stroke="#79b32b" stroke-width="1.0"/>
<circle cx="649.6" cy="203.1" r="1.8" fill="none" stroke="#79b32b" stroke-width="1.0"/>
<circle cx="657.0" cy="219.8" r="1.8" fill="none" stroke="#79b32b" stroke-width="1.0"/>
<circle cx="675.6" cy="59.7" r="1.8" fill="none" stroke="#3f67e3" stroke-width="1.0"/>
<circle cx="674.6" cy="75.8" r="1.8" fill="none" stroke="#3f67e3" stroke-width="1.0"/>
<circle cx="678.3" cy="84.1" r="1.8" fill="none" stroke="#3f67e3" stroke-width="1.0"/>
<circle cx="681.2" cy="94.4" r="1.8" fill="none" stroke="#3f67e3" stroke-width="1.0"/>
<circle cx="675.2" cy="107.1" r="1.8" fill="none" stroke="#3f67e3" stroke-width="1.0"/>
<circle cx="677.8" cy="108.1" r="1.8" fill="none" stroke="#3f67e3" stroke-width="1.0"/>
<circle cx="680.2" cy="108.5" r="1.8" fill="none" stroke="#3f67e3" stroke-width="1.0"/>
<circle cx="673.2" cy="114.3" r="1.8" fill="none" stroke="#3f67e3" stroke-width="1.0"/>
<circle cx="676.3" cy="115.8" r="1.8" fill="none" stroke="#3f67e3" stroke-width="1.0"/>
<circle cx="675.4" cy="123.8" r="1.8" fill="none" stroke="#3f67e3" stroke-width="1.0"/>
<circle cx="677.3" cy="125.3" r="1.8" fill="none" stroke="#3f67e3" stroke-width="1.0"/>
<circle cx="672.0" cy="126.7" r="1.8" fill="none" stroke="#3f67e3" stroke-width="1.0"/>
<circle cx="680.2" cy="129.4" r="1.8" fill="none" stroke="#3f67e3" stroke-width="1.0"/>
<circle cx="682.1" cy="134.0" r="1.8" fill="none" stroke="#3f67e3" stroke-width="1.0"/>
<circle cx="674.6" cy="136.9" r="1.8" fill="none" stroke="#3f67e3" stroke-width="1.0"/>
<circle cx="680.7" cy="139.3" r="1.8" fill="none" stroke="#3f67e3" stroke-width="1.0"/>
<circle cx="673.8" cy="143.5" r="1.8" fill="none" stroke="#3f67e3" stroke-width="1.0"/>
<circle cx="677.3" cy="155.5" r="1.8" fill="none" stroke="#3f67e3" stroke-width="1.0"/>
<circle cx="677.8" cy="156.5" r="1.8" fill="none" stroke="#3f67e3" stroke-width="1.0"/>
<circle cx="676.1" cy="158.6" r="1.8" fill="none" stroke="#3f67e3" stroke-width="1.0"/>
<circle cx="681.6" cy="163.0" r="1.8" fill="none" stroke="#3f67e3" stroke-width="1.0"/>
<circle cx="678.7" cy="171.8" r="1.8" fill="none" stroke="#3f67e3" stroke-width="1.0"/>
<circle cx="680.0" cy="178.7" r="1.8" fill="none" stroke="#3f67e3" stroke-width="1.0"/>
<circle cx="678.3" cy="189.5" r="1.8" fill="none" stroke="#3f67e3" stroke-width="1.0"/>
<circle cx="677.0" cy="194.1" r="1.8" fill="none" stroke="#3f67e3" stroke-width="1.0"/>
<circle cx="680.0" cy="203.5" r="1.8" fill="none" stroke="#3f67e3" stroke-width="1.0"/>
<path d="M480 161.8 H493.6" stroke="#000" stroke-width="1.5"/>
<path d="M504.8 159.4 H518.7" stroke="#000" stroke-width="1.5"/>
<path d="M532.3 169.7 H546.3" stroke="#000" stroke-width="1.5"/>
<path d="M556.2 170.2 H569.9" stroke="#000" stroke-width="1.5"/>
<path d="M590.9 144.6 H604.8" stroke="#000" stroke-width="1.5"/>
<path d="M621.1 139.1 H634.4" stroke="#000" stroke-width="1.5"/>
<path d="M646.9 145.1 H660.9" stroke="#000" stroke-width="1.5"/>
<path d="M670.1 134.3 H683.6" stroke="#000" stroke-width="1.5"/>
</g>
</svg>
</body></html>
